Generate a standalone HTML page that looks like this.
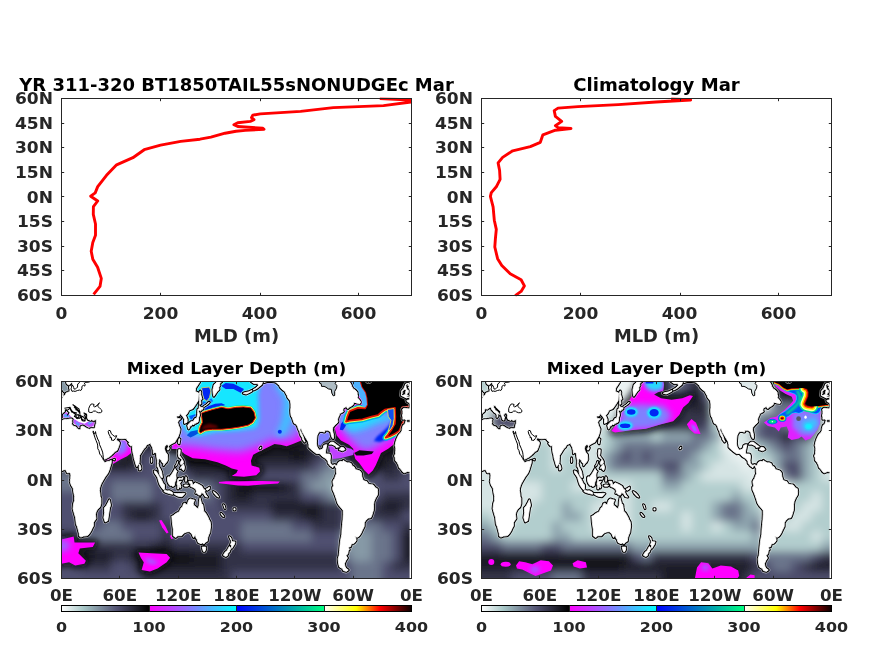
<!DOCTYPE html>
<html><head><meta charset="utf-8"><title>MLD</title><style>html,body{margin:0;padding:0;background:#fff}svg{display:block}</style></head><body>
<svg width="875" height="656" viewBox="0 0 875 656" font-family='"DejaVu Sans","Liberation Sans",sans-serif' font-weight="bold" style="display:block">
<rect width="875" height="656" fill="#fff"/>
<defs>
<linearGradient id="cb" x1="0" x2="1" y1="0" y2="0">
<stop offset="0" stop-color="#ffffff"/>
<stop offset="0.0635" stop-color="#a6c6c6"/>
<stop offset="0.15875" stop-color="#515171"/>
<stop offset="0.2499" stop-color="#000000"/>
<stop offset="0.25" stop-color="#ff00ff"/>
<stop offset="0.4999" stop-color="#00ffff"/>
<stop offset="0.5" stop-color="#0000ff"/>
<stop offset="0.7499" stop-color="#00ff80"/>
<stop offset="0.75" stop-color="#ffffff"/>
<stop offset="0.842" stop-color="#ffff00"/>
<stop offset="0.909" stop-color="#ff0000"/>
<stop offset="1" stop-color="#0b0000"/>
</linearGradient>
<filter id="gb" x="-5%" y="-5%" width="110%" height="110%"><feGaussianBlur stdDeviation="4.2"/></filter>
<filter id="b1" x="-20%" y="-20%" width="140%" height="140%"><feGaussianBlur stdDeviation="0.8"/></filter>
<filter id="b2" x="-30%" y="-30%" width="160%" height="160%"><feGaussianBlur stdDeviation="2"/></filter>
<filter id="b3" x="-30%" y="-30%" width="160%" height="160%"><feGaussianBlur stdDeviation="3"/></filter>
<filter id="b4" x="-30%" y="-30%" width="160%" height="160%"><feGaussianBlur stdDeviation="4"/></filter>
<filter id="b5" x="-30%" y="-30%" width="160%" height="160%"><feGaussianBlur stdDeviation="5"/></filter>
</defs>
<rect x="61.5" y="98.5" width="350.0" height="197.0" fill="#fff"/>
<clipPath id="c61"><rect x="61.5" y="97.5" width="350.5" height="199.0"/></clipPath>
<path d="M379.8 98.6 L395.0 99.2 L411.5 100.0 L413.0 101.0 L411.0 102.0 L383.5 105.6 L333.3 107.6 L300.6 111.4 L260.3 113.9 L252.8 115.1 L251.5 117.7 L254.0 119.7 L250.3 121.4 L237.7 122.7 L233.9 124.7 L237.7 126.5 L262.9 128.2 L264.0 129.2 L245.3 130.4 L236.0 131.3 L225.1 133.2 L210.9 137.1 L200.0 139.2 L180.7 141.4 L160.6 145.1 L144.2 149.7 L132.9 157.7 L116.6 164.8 L106.5 175.3 L97.7 186.6 L95.2 192.9 L90.7 196.2 L97.7 201.0 L93.4 206.7 L93.3 214.4 L95.5 224.0 L95.5 235.2 L92.8 242.4 L91.2 251.2 L92.8 259.2 L97.6 267.2 L101.3 278.4 L100.0 286.4 L93.6 294.4" clip-path="url(#c61)" fill="none" stroke="#f00" stroke-width="2.9" stroke-linejoin="round"/>
<path d="M160.5 295.5v-2.7M160.5 98.5v2.7M260.5 295.5v-2.7M260.5 98.5v2.7M358.5 295.5v-2.7M358.5 98.5v2.7M61.5 123.5h2.7M411.5 123.5h-2.7M61.5 147.5h2.7M411.5 147.5h-2.7M61.5 172.5h2.7M411.5 172.5h-2.7M61.5 196.5h2.7M411.5 196.5h-2.7M61.5 221.5h2.7M411.5 221.5h-2.7M61.5 246.5h2.7M411.5 246.5h-2.7M61.5 270.5h2.7M411.5 270.5h-2.7" stroke="#262626" stroke-width="1" fill="none"/>
<rect x="61.5" y="98.5" width="350.0" height="197.0" fill="none" stroke="#262626" stroke-width="1"/>
<text x="53.0" y="104.1" font-size="15.3" text-anchor="end" fill="#262626" textLength="38.02" lengthAdjust="spacingAndGlyphs">60N</text>
<text x="53.0" y="128.725" font-size="15.3" text-anchor="end" fill="#262626" textLength="38.02" lengthAdjust="spacingAndGlyphs">45N</text>
<text x="53.0" y="153.35" font-size="15.3" text-anchor="end" fill="#262626" textLength="38.02" lengthAdjust="spacingAndGlyphs">30N</text>
<text x="53.0" y="177.975" font-size="15.3" text-anchor="end" fill="#262626" textLength="38.02" lengthAdjust="spacingAndGlyphs">15N</text>
<text x="53.0" y="202.6" font-size="15.3" text-anchor="end" fill="#262626" textLength="26.15" lengthAdjust="spacingAndGlyphs">0N</text>
<text x="53.0" y="227.225" font-size="15.3" text-anchor="end" fill="#262626" textLength="36.03" lengthAdjust="spacingAndGlyphs">15S</text>
<text x="53.0" y="251.85" font-size="15.3" text-anchor="end" fill="#262626" textLength="36.03" lengthAdjust="spacingAndGlyphs">30S</text>
<text x="53.0" y="276.475" font-size="15.3" text-anchor="end" fill="#262626" textLength="36.03" lengthAdjust="spacingAndGlyphs">45S</text>
<text x="53.0" y="301.1" font-size="15.3" text-anchor="end" fill="#262626" textLength="36.03" lengthAdjust="spacingAndGlyphs">60S</text>
<text x="61.5" y="319.0" font-size="15.3" text-anchor="middle" fill="#262626" textLength="11.87" lengthAdjust="spacingAndGlyphs">0</text>
<text x="160.5" y="319.0" font-size="15.3" text-anchor="middle" fill="#262626" textLength="35.61" lengthAdjust="spacingAndGlyphs">200</text>
<text x="259.5" y="319.0" font-size="15.3" text-anchor="middle" fill="#262626" textLength="35.61" lengthAdjust="spacingAndGlyphs">400</text>
<text x="358.5" y="319.0" font-size="15.3" text-anchor="middle" fill="#262626" textLength="35.61" lengthAdjust="spacingAndGlyphs">600</text>
<text x="236.5" y="342.1" font-size="16.8" text-anchor="middle" fill="#262626" textLength="85.12" lengthAdjust="spacingAndGlyphs">MLD (m)</text>
<text x="236.5" y="91.0" font-size="16.9" text-anchor="middle" fill="#000" textLength="434.5" lengthAdjust="spacingAndGlyphs">YR 311-320 BT1850TAIL55sNONUDGEc Mar</text>
<rect x="481.5" y="98.5" width="350.0" height="197.0" fill="#fff"/>
<clipPath id="c481"><rect x="481.5" y="97.5" width="350.5" height="199.0"/></clipPath>
<path d="M671.1 98.6 L690.7 100.0 L656.0 102.0 L618.3 104.6 L578.0 106.6 L558.0 108.1 L554.2 110.6 L555.4 116.4 L561.7 121.4 L555.4 125.7 L558.0 127.7 L571.0 128.5 L555.4 130.2 L542.9 134.8 L540.3 142.3 L530.3 146.6 L512.7 150.8 L502.6 157.4 L498.1 162.9 L499.6 170.5 L500.1 179.3 L496.3 186.8 L491.3 192.6 L490.4 196.4 L493.1 206.8 L494.3 220.2 L496.3 229.4 L495.4 238.6 L494.8 247.0 L497.6 258.7 L501.8 265.5 L510.2 273.8 L521.1 279.7 L524.4 285.9 L521.1 291.4 L515.2 295.6" clip-path="url(#c481)" fill="none" stroke="#f00" stroke-width="2.9" stroke-linejoin="round"/>
<path d="M580.5 295.5v-2.7M580.5 98.5v2.7M680.5 295.5v-2.7M680.5 98.5v2.7M778.5 295.5v-2.7M778.5 98.5v2.7M481.5 123.5h2.7M831.5 123.5h-2.7M481.5 147.5h2.7M831.5 147.5h-2.7M481.5 172.5h2.7M831.5 172.5h-2.7M481.5 196.5h2.7M831.5 196.5h-2.7M481.5 221.5h2.7M831.5 221.5h-2.7M481.5 246.5h2.7M831.5 246.5h-2.7M481.5 270.5h2.7M831.5 270.5h-2.7" stroke="#262626" stroke-width="1" fill="none"/>
<rect x="481.5" y="98.5" width="350.0" height="197.0" fill="none" stroke="#262626" stroke-width="1"/>
<text x="473.0" y="104.1" font-size="15.3" text-anchor="end" fill="#262626" textLength="38.02" lengthAdjust="spacingAndGlyphs">60N</text>
<text x="473.0" y="128.725" font-size="15.3" text-anchor="end" fill="#262626" textLength="38.02" lengthAdjust="spacingAndGlyphs">45N</text>
<text x="473.0" y="153.35" font-size="15.3" text-anchor="end" fill="#262626" textLength="38.02" lengthAdjust="spacingAndGlyphs">30N</text>
<text x="473.0" y="177.975" font-size="15.3" text-anchor="end" fill="#262626" textLength="38.02" lengthAdjust="spacingAndGlyphs">15N</text>
<text x="473.0" y="202.6" font-size="15.3" text-anchor="end" fill="#262626" textLength="26.15" lengthAdjust="spacingAndGlyphs">0N</text>
<text x="473.0" y="227.225" font-size="15.3" text-anchor="end" fill="#262626" textLength="36.03" lengthAdjust="spacingAndGlyphs">15S</text>
<text x="473.0" y="251.85" font-size="15.3" text-anchor="end" fill="#262626" textLength="36.03" lengthAdjust="spacingAndGlyphs">30S</text>
<text x="473.0" y="276.475" font-size="15.3" text-anchor="end" fill="#262626" textLength="36.03" lengthAdjust="spacingAndGlyphs">45S</text>
<text x="473.0" y="301.1" font-size="15.3" text-anchor="end" fill="#262626" textLength="36.03" lengthAdjust="spacingAndGlyphs">60S</text>
<text x="481.5" y="319.0" font-size="15.3" text-anchor="middle" fill="#262626" textLength="11.87" lengthAdjust="spacingAndGlyphs">0</text>
<text x="580.5" y="319.0" font-size="15.3" text-anchor="middle" fill="#262626" textLength="35.61" lengthAdjust="spacingAndGlyphs">200</text>
<text x="679.5" y="319.0" font-size="15.3" text-anchor="middle" fill="#262626" textLength="35.61" lengthAdjust="spacingAndGlyphs">400</text>
<text x="778.5" y="319.0" font-size="15.3" text-anchor="middle" fill="#262626" textLength="35.61" lengthAdjust="spacingAndGlyphs">600</text>
<text x="656.5" y="342.1" font-size="16.8" text-anchor="middle" fill="#262626" textLength="85.12" lengthAdjust="spacingAndGlyphs">MLD (m)</text>
<text x="656.5" y="91.0" font-size="16.9" text-anchor="middle" fill="#000" textLength="166.55" lengthAdjust="spacingAndGlyphs">Climatology Mar</text>
<rect x="61.5" y="381.5" width="350.0" height="197.0" fill="#55556a"/>
<clipPath id="m61"><rect x="61.5" y="381.5" width="350.0" height="197.0"/></clipPath>
<g clip-path="url(#m61)">
<g filter="url(#gb)"><rect x="41.5" y="361.5" width="40.5" height="10.5" fill="#8699a6"/><rect x="81.5" y="361.5" width="230.5" height="10.5" fill="#333347"/><rect x="311.5" y="361.5" width="20.5" height="10.5" fill="#8699a6"/><rect x="331.5" y="361.5" width="100.5" height="10.5" fill="#333347"/><rect x="41.5" y="371.5" width="40.5" height="10.5" fill="#8699a6"/><rect x="81.5" y="371.5" width="230.5" height="10.5" fill="#333347"/><rect x="311.5" y="371.5" width="20.5" height="10.5" fill="#8699a6"/><rect x="331.5" y="371.5" width="100.5" height="10.5" fill="#333347"/><rect x="41.5" y="381.5" width="40.5" height="10.5" fill="#8699a6"/><rect x="81.5" y="381.5" width="230.5" height="10.5" fill="#333347"/><rect x="311.5" y="381.5" width="20.5" height="10.5" fill="#8699a6"/><rect x="331.5" y="381.5" width="100.5" height="10.5" fill="#333347"/><rect x="41.5" y="391.5" width="30.5" height="10.5" fill="#8699a6"/><rect x="71.5" y="391.5" width="360.5" height="10.5" fill="#333347"/><rect x="41.5" y="401.5" width="390.5" height="10.5" fill="#333347"/><rect x="41.5" y="411.5" width="390.5" height="10.5" fill="#333347"/><rect x="41.5" y="421.5" width="390.5" height="10.5" fill="#333347"/><rect x="41.5" y="431.5" width="390.5" height="10.5" fill="#333347"/><rect x="41.5" y="441.5" width="100.5" height="10.5" fill="#333347"/><rect x="141.5" y="441.5" width="40.5" height="10.5" fill="#1b1b25"/><rect x="181.5" y="441.5" width="70.5" height="10.5" fill="#070709"/><rect x="251.5" y="441.5" width="60.5" height="10.5" fill="#1b1b25"/><rect x="311.5" y="441.5" width="70.5" height="10.5" fill="#333347"/><rect x="381.5" y="441.5" width="20.5" height="10.5" fill="#1b1b25"/><rect x="401.5" y="441.5" width="30.5" height="10.5" fill="#333347"/><rect x="41.5" y="451.5" width="80.5" height="10.5" fill="#333347"/><rect x="121.5" y="451.5" width="20.5" height="10.5" fill="#1b1b25"/><rect x="141.5" y="451.5" width="20.5" height="10.5" fill="#50506f"/><rect x="161.5" y="451.5" width="20.5" height="10.5" fill="#6b748b"/><rect x="181.5" y="451.5" width="70.5" height="10.5" fill="#070709"/><rect x="251.5" y="451.5" width="40.5" height="10.5" fill="#1b1b25"/><rect x="291.5" y="451.5" width="10.5" height="10.5" fill="#070709"/><rect x="301.5" y="451.5" width="10.5" height="10.5" fill="#1b1b25"/><rect x="311.5" y="451.5" width="10.5" height="10.5" fill="#333347"/><rect x="321.5" y="451.5" width="20.5" height="10.5" fill="#50506f"/><rect x="341.5" y="451.5" width="40.5" height="10.5" fill="#333347"/><rect x="381.5" y="451.5" width="20.5" height="10.5" fill="#1b1b25"/><rect x="401.5" y="451.5" width="30.5" height="10.5" fill="#333347"/><rect x="41.5" y="461.5" width="60.5" height="10.5" fill="#333347"/><rect x="101.5" y="461.5" width="30.5" height="10.5" fill="#1b1b25"/><rect x="131.5" y="461.5" width="10.5" height="10.5" fill="#333347"/><rect x="141.5" y="461.5" width="20.5" height="10.5" fill="#50506f"/><rect x="161.5" y="461.5" width="20.5" height="10.5" fill="#6b748b"/><rect x="181.5" y="461.5" width="70.5" height="10.5" fill="#1b1b25"/><rect x="251.5" y="461.5" width="60.5" height="10.5" fill="#333347"/><rect x="311.5" y="461.5" width="10.5" height="10.5" fill="#50506f"/><rect x="321.5" y="461.5" width="10.5" height="10.5" fill="#6b748b"/><rect x="331.5" y="461.5" width="10.5" height="10.5" fill="#8699a6"/><rect x="341.5" y="461.5" width="10.5" height="10.5" fill="#333347"/><rect x="351.5" y="461.5" width="10.5" height="10.5" fill="#50506f"/><rect x="361.5" y="461.5" width="10.5" height="10.5" fill="#070709"/><rect x="371.5" y="461.5" width="20.5" height="10.5" fill="#1b1b25"/><rect x="391.5" y="461.5" width="40.5" height="10.5" fill="#333347"/><rect x="41.5" y="471.5" width="60.5" height="10.5" fill="#6b748b"/><rect x="101.5" y="471.5" width="60.5" height="10.5" fill="#50506f"/><rect x="161.5" y="471.5" width="20.5" height="10.5" fill="#6b748b"/><rect x="181.5" y="471.5" width="10.5" height="10.5" fill="#50506f"/><rect x="191.5" y="471.5" width="50.5" height="10.5" fill="#333347"/><rect x="241.5" y="471.5" width="10.5" height="10.5" fill="#1b1b25"/><rect x="251.5" y="471.5" width="50.5" height="10.5" fill="#50506f"/><rect x="301.5" y="471.5" width="20.5" height="10.5" fill="#6b748b"/><rect x="321.5" y="471.5" width="20.5" height="10.5" fill="#8699a6"/><rect x="341.5" y="471.5" width="20.5" height="10.5" fill="#a1bec1"/><rect x="361.5" y="471.5" width="20.5" height="10.5" fill="#50506f"/><rect x="381.5" y="471.5" width="20.5" height="10.5" fill="#333347"/><rect x="401.5" y="471.5" width="30.5" height="10.5" fill="#50506f"/><rect x="41.5" y="481.5" width="60.5" height="10.5" fill="#6b748b"/><rect x="101.5" y="481.5" width="10.5" height="10.5" fill="#50506f"/><rect x="111.5" y="481.5" width="40.5" height="10.5" fill="#6b748b"/><rect x="151.5" y="481.5" width="20.5" height="10.5" fill="#50506f"/><rect x="171.5" y="481.5" width="40.5" height="10.5" fill="#6b748b"/><rect x="211.5" y="481.5" width="10.5" height="10.5" fill="#50506f"/><rect x="221.5" y="481.5" width="10.5" height="10.5" fill="#333347"/><rect x="231.5" y="481.5" width="10.5" height="10.5" fill="#1b1b25"/><rect x="241.5" y="481.5" width="40.5" height="10.5" fill="#070709"/><rect x="281.5" y="481.5" width="10.5" height="10.5" fill="#1b1b25"/><rect x="291.5" y="481.5" width="10.5" height="10.5" fill="#333347"/><rect x="301.5" y="481.5" width="10.5" height="10.5" fill="#6b748b"/><rect x="311.5" y="481.5" width="20.5" height="10.5" fill="#8699a6"/><rect x="331.5" y="481.5" width="30.5" height="10.5" fill="#a1bec1"/><rect x="361.5" y="481.5" width="10.5" height="10.5" fill="#6b748b"/><rect x="371.5" y="481.5" width="60.5" height="10.5" fill="#50506f"/><rect x="41.5" y="491.5" width="70.5" height="10.5" fill="#50506f"/><rect x="111.5" y="491.5" width="40.5" height="10.5" fill="#6b748b"/><rect x="151.5" y="491.5" width="30.5" height="10.5" fill="#50506f"/><rect x="181.5" y="491.5" width="30.5" height="10.5" fill="#6b748b"/><rect x="211.5" y="491.5" width="10.5" height="10.5" fill="#50506f"/><rect x="221.5" y="491.5" width="10.5" height="10.5" fill="#333347"/><rect x="231.5" y="491.5" width="20.5" height="10.5" fill="#1b1b25"/><rect x="251.5" y="491.5" width="50.5" height="10.5" fill="#333347"/><rect x="301.5" y="491.5" width="20.5" height="10.5" fill="#50506f"/><rect x="321.5" y="491.5" width="10.5" height="10.5" fill="#6b748b"/><rect x="331.5" y="491.5" width="30.5" height="10.5" fill="#8699a6"/><rect x="361.5" y="491.5" width="10.5" height="10.5" fill="#6b748b"/><rect x="371.5" y="491.5" width="10.5" height="10.5" fill="#50506f"/><rect x="381.5" y="491.5" width="50.5" height="10.5" fill="#333347"/><rect x="41.5" y="501.5" width="80.5" height="10.5" fill="#50506f"/><rect x="121.5" y="501.5" width="40.5" height="10.5" fill="#333347"/><rect x="161.5" y="501.5" width="60.5" height="10.5" fill="#50506f"/><rect x="221.5" y="501.5" width="50.5" height="10.5" fill="#333347"/><rect x="271.5" y="501.5" width="50.5" height="10.5" fill="#1b1b25"/><rect x="321.5" y="501.5" width="20.5" height="10.5" fill="#333347"/><rect x="341.5" y="501.5" width="30.5" height="10.5" fill="#50506f"/><rect x="371.5" y="501.5" width="10.5" height="10.5" fill="#333347"/><rect x="381.5" y="501.5" width="20.5" height="10.5" fill="#1b1b25"/><rect x="401.5" y="501.5" width="30.5" height="10.5" fill="#333347"/><rect x="41.5" y="511.5" width="80.5" height="10.5" fill="#50506f"/><rect x="121.5" y="511.5" width="10.5" height="10.5" fill="#333347"/><rect x="131.5" y="511.5" width="20.5" height="10.5" fill="#1b1b25"/><rect x="151.5" y="511.5" width="10.5" height="10.5" fill="#333347"/><rect x="161.5" y="511.5" width="110.5" height="10.5" fill="#50506f"/><rect x="271.5" y="511.5" width="30.5" height="10.5" fill="#333347"/><rect x="301.5" y="511.5" width="20.5" height="10.5" fill="#1b1b25"/><rect x="321.5" y="511.5" width="20.5" height="10.5" fill="#333347"/><rect x="341.5" y="511.5" width="30.5" height="10.5" fill="#50506f"/><rect x="371.5" y="511.5" width="30.5" height="10.5" fill="#333347"/><rect x="401.5" y="511.5" width="30.5" height="10.5" fill="#50506f"/><rect x="41.5" y="521.5" width="60.5" height="10.5" fill="#50506f"/><rect x="101.5" y="521.5" width="20.5" height="10.5" fill="#6b748b"/><rect x="121.5" y="521.5" width="40.5" height="10.5" fill="#50506f"/><rect x="161.5" y="521.5" width="10.5" height="10.5" fill="#333347"/><rect x="171.5" y="521.5" width="70.5" height="10.5" fill="#50506f"/><rect x="241.5" y="521.5" width="50.5" height="10.5" fill="#6b748b"/><rect x="291.5" y="521.5" width="20.5" height="10.5" fill="#50506f"/><rect x="311.5" y="521.5" width="30.5" height="10.5" fill="#333347"/><rect x="341.5" y="521.5" width="10.5" height="10.5" fill="#50506f"/><rect x="351.5" y="521.5" width="30.5" height="10.5" fill="#6b748b"/><rect x="381.5" y="521.5" width="20.5" height="10.5" fill="#50506f"/><rect x="401.5" y="521.5" width="30.5" height="10.5" fill="#333347"/><rect x="41.5" y="531.5" width="30.5" height="10.5" fill="#333347"/><rect x="71.5" y="531.5" width="10.5" height="10.5" fill="#50506f"/><rect x="81.5" y="531.5" width="50.5" height="10.5" fill="#6b748b"/><rect x="131.5" y="531.5" width="30.5" height="10.5" fill="#50506f"/><rect x="161.5" y="531.5" width="10.5" height="10.5" fill="#333347"/><rect x="171.5" y="531.5" width="70.5" height="10.5" fill="#50506f"/><rect x="241.5" y="531.5" width="70.5" height="10.5" fill="#6b748b"/><rect x="311.5" y="531.5" width="30.5" height="10.5" fill="#50506f"/><rect x="341.5" y="531.5" width="30.5" height="10.5" fill="#8699a6"/><rect x="371.5" y="531.5" width="20.5" height="10.5" fill="#6b748b"/><rect x="391.5" y="531.5" width="10.5" height="10.5" fill="#50506f"/><rect x="401.5" y="531.5" width="30.5" height="10.5" fill="#1b1b25"/><rect x="41.5" y="541.5" width="110.5" height="10.5" fill="#333347"/><rect x="151.5" y="541.5" width="20.5" height="10.5" fill="#1b1b25"/><rect x="171.5" y="541.5" width="70.5" height="10.5" fill="#333347"/><rect x="241.5" y="541.5" width="100.5" height="10.5" fill="#50506f"/><rect x="341.5" y="541.5" width="30.5" height="10.5" fill="#8699a6"/><rect x="371.5" y="541.5" width="20.5" height="10.5" fill="#6b748b"/><rect x="391.5" y="541.5" width="10.5" height="10.5" fill="#50506f"/><rect x="401.5" y="541.5" width="30.5" height="10.5" fill="#1b1b25"/><rect x="41.5" y="551.5" width="40.5" height="10.5" fill="#1b1b25"/><rect x="81.5" y="551.5" width="10.5" height="10.5" fill="#070709"/><rect x="91.5" y="551.5" width="20.5" height="10.5" fill="#1b1b25"/><rect x="111.5" y="551.5" width="20.5" height="10.5" fill="#333347"/><rect x="131.5" y="551.5" width="40.5" height="10.5" fill="#1b1b25"/><rect x="171.5" y="551.5" width="20.5" height="10.5" fill="#070709"/><rect x="191.5" y="551.5" width="30.5" height="10.5" fill="#1b1b25"/><rect x="221.5" y="551.5" width="120.5" height="10.5" fill="#333347"/><rect x="341.5" y="551.5" width="10.5" height="10.5" fill="#6b748b"/><rect x="351.5" y="551.5" width="20.5" height="10.5" fill="#8699a6"/><rect x="371.5" y="551.5" width="20.5" height="10.5" fill="#6b748b"/><rect x="391.5" y="551.5" width="10.5" height="10.5" fill="#50506f"/><rect x="401.5" y="551.5" width="30.5" height="10.5" fill="#1b1b25"/><rect x="41.5" y="561.5" width="40.5" height="10.5" fill="#50506f"/><rect x="81.5" y="561.5" width="30.5" height="10.5" fill="#333347"/><rect x="111.5" y="561.5" width="20.5" height="10.5" fill="#50506f"/><rect x="131.5" y="561.5" width="10.5" height="10.5" fill="#333347"/><rect x="141.5" y="561.5" width="80.5" height="10.5" fill="#1b1b25"/><rect x="221.5" y="561.5" width="120.5" height="10.5" fill="#333347"/><rect x="341.5" y="561.5" width="10.5" height="10.5" fill="#50506f"/><rect x="351.5" y="561.5" width="30.5" height="10.5" fill="#6b748b"/><rect x="381.5" y="561.5" width="10.5" height="10.5" fill="#50506f"/><rect x="391.5" y="561.5" width="40.5" height="10.5" fill="#333347"/><rect x="41.5" y="571.5" width="100.5" height="10.5" fill="#50506f"/><rect x="141.5" y="571.5" width="90.5" height="10.5" fill="#333347"/><rect x="231.5" y="571.5" width="120.5" height="10.5" fill="#50506f"/><rect x="351.5" y="571.5" width="30.5" height="10.5" fill="#6b748b"/><rect x="381.5" y="571.5" width="50.5" height="10.5" fill="#50506f"/><rect x="41.5" y="581.5" width="100.5" height="10.5" fill="#50506f"/><rect x="141.5" y="581.5" width="90.5" height="10.5" fill="#333347"/><rect x="231.5" y="581.5" width="120.5" height="10.5" fill="#50506f"/><rect x="351.5" y="581.5" width="30.5" height="10.5" fill="#6b748b"/><rect x="381.5" y="581.5" width="50.5" height="10.5" fill="#50506f"/><rect x="41.5" y="591.5" width="100.5" height="10.5" fill="#50506f"/><rect x="141.5" y="591.5" width="90.5" height="10.5" fill="#333347"/><rect x="231.5" y="591.5" width="120.5" height="10.5" fill="#50506f"/><rect x="351.5" y="591.5" width="30.5" height="10.5" fill="#6b748b"/><rect x="381.5" y="591.5" width="50.5" height="10.5" fill="#50506f"/></g><clipPath id="cMP"><path d="M172 449L179.3 448.9L184.5 454L192.7 458.2L205 459.2L217.4 462.3L225.7 465.4L231.8 468.4L237.9 469.9L236.4 473L231.8 476L244 476.8L256.2 475.3L260 471.5L259.3 467.7L251.6 465.4L250.9 460.8L253.2 454.7L259.3 451.6L265.4 448.6L274.5 444L280.6 444.8L286.7 446.3L292.8 444L300.7 440.7L304.8 437.6L308 432L300 400L290 375L170 375Z" fill="none"/></clipPath><path d="M172 449L179.3 448.9L184.5 454L192.7 458.2L205 459.2L217.4 462.3L225.7 465.4L231.8 468.4L237.9 469.9L236.4 473L231.8 476L244 476.8L256.2 475.3L260 471.5L259.3 467.7L251.6 465.4L250.9 460.8L253.2 454.7L259.3 451.6L265.4 448.6L274.5 444L280.6 444.8L286.7 446.3L292.8 444L300.7 440.7L304.8 437.6L308 432L300 400L290 375L170 375Z" fill="none" stroke="#08080c" stroke-width="7" stroke-linejoin="round" filter="url(#b3)" opacity="0.9"/><path d="M172 449L179.3 448.9L184.5 454L192.7 458.2L205 459.2L217.4 462.3L225.7 465.4L231.8 468.4L237.9 469.9L236.4 473L231.8 476L244 476.8L256.2 475.3L260 471.5L259.3 467.7L251.6 465.4L250.9 460.8L253.2 454.7L259.3 451.6L265.4 448.6L274.5 444L280.6 444.8L286.7 446.3L292.8 444L300.7 440.7L304.8 437.6L308 432L300 400L290 375L170 375Z" fill="#ff00ff"/><g clip-path="url(#cMP)"><path d="M165 375L295 375L305 425L296 439L283 441L272 440L262 445L250 449L240 452L215 450L195 447L180 446L165 444Z" fill="#8080ff" filter="url(#b5)"/><path d="M186 375L262 375L258 395L259 420L256 428L238 430.5L215 432L199 436L188 434L182 425L186 405Z" fill="#19e6ff" filter="url(#b2)"/><path d="M272 381L292 385L296 410L290 425L284 436L276 436L282 420L284 400Z" fill="#40bfff" filter="url(#b3)"/></g><path d="M221.2 386.1L225.7 383L233.4 383.8L244 389.1L241 393L233.4 389.1L225.7 389.1Z" fill="#0028f4"/><path d="M201.6 387.8L209.3 387.1L210.9 391L209.5 397.4L206.8 401.2L203.7 398.8L202.2 392.8Z" fill="#0028f4" stroke="#ffe040" stroke-width="0.7" stroke-linejoin="round"/><path d="M200.2 401L206.6 402L211.2 398.3L213 401L208.4 406.5L202.9 409.3L200.2 406.5Z" fill="#0070ff"/><circle cx="279.8" cy="431.8" r="2" fill="#0028f4"/><path d="M189 416L196 414L197 419L192 422Z" fill="#0060ff"/><path d="M203.3 409.6L208.8 406L215.2 403.7L221.6 403.2L225.2 405.1L221.6 406.4L212.4 408.7L204.7 411.5Z" fill="#0028f4"/><path d="M186.8 435.2L190.5 431.6L198.7 429.7L199.6 432.5L195.1 435.2L190.5 437.5Z" fill="#0050e0"/><path d="M199.2 431.6L200.1 427L202.4 422.4L201.9 417.9L201 413.3L204.7 411.9L212.4 409.6L221.6 407.3L228 408.7L236.2 407.3L243.5 406.9L250.8 407.8L254 411.9L255.4 417.9L252.6 422.4L248.1 425.2L239.8 427L230.7 428.4L221.6 429.3L212.4 429.3L205.1 430.2L200.5 432.9Z" fill="none" stroke="#00e0a0" stroke-width="3.6" stroke-linejoin="round"/><path d="M199.2 431.6L200.1 427L202.4 422.4L201.9 417.9L201 413.3L204.7 411.9L212.4 409.6L221.6 407.3L228 408.7L236.2 407.3L243.5 406.9L250.8 407.8L254 411.9L255.4 417.9L252.6 422.4L248.1 425.2L239.8 427L230.7 428.4L221.6 429.3L212.4 429.3L205.1 430.2L200.5 432.9Z" fill="none" stroke="#fff060" stroke-width="2.4" stroke-linejoin="round"/><path d="M199.2 431.6L200.1 427L202.4 422.4L201.9 417.9L201 413.3L204.7 411.9L212.4 409.6L221.6 407.3L228 408.7L236.2 407.3L243.5 406.9L250.8 407.8L254 411.9L255.4 417.9L252.6 422.4L248.1 425.2L239.8 427L230.7 428.4L221.6 429.3L212.4 429.3L205.1 430.2L200.5 432.9Z" fill="#000" stroke="#e01000" stroke-width="1.0" stroke-linejoin="round"/><path d="M203 426L209 423.5L217 425.5L218 428L205 429L202 430.5Z" fill="#5a0000" filter="url(#b1)"/><path d="M218.9 482L226 481.3L240 481.2L262 481L279.8 481.5L278 483.5L262 484.5L248 485.8L238 485.5L226 484L219 483.2Z" fill="#ff00ff"/><clipPath id="cMA"><path d="M333.7 413.8L334.7 428.2L336.7 435.4L340.9 440.6L349.1 444.7L353.2 448.8L354.2 455L355.3 459.1L359.4 463.2L364.5 470.4L368.6 474.5L372.8 470.4L375.8 465.3L378.9 458.1L381 452.9L388.2 448.8L393.3 444.7L395.4 438.5L401.6 432.3L411.9 420L411.9 378.8L351.2 378.8Z" fill="none"/></clipPath><path d="M333.7 413.8L334.7 428.2L336.7 435.4L340.9 440.6L349.1 444.7L353.2 448.8L354.2 455L355.3 459.1L359.4 463.2L364.5 470.4L368.6 474.5L372.8 470.4L375.8 465.3L378.9 458.1L381 452.9L388.2 448.8L393.3 444.7L395.4 438.5L401.6 432.3L411.9 420L411.9 378.8L351.2 378.8Z" fill="none" stroke="#08080c" stroke-width="7" stroke-linejoin="round" filter="url(#b3)" opacity="0.9"/><path d="M333.7 413.8L334.7 428.2L336.7 435.4L340.9 440.6L349.1 444.7L353.2 448.8L354.2 455L355.3 459.1L359.4 463.2L364.5 470.4L368.6 474.5L372.8 470.4L375.8 465.3L378.9 458.1L381 452.9L388.2 448.8L393.3 444.7L395.4 438.5L401.6 432.3L411.9 420L411.9 378.8L351.2 378.8Z" fill="#ff00ff"/><path d="M316.2 433.4L319.3 430.3L329.5 429.8L330.6 435.4L328.5 439.5L323.4 442.1L320.3 445.7L318.2 444.7L316.2 439.5Z" fill="#8080ff"/><path d="M328.5 443.7L335.7 444.7L351.2 448.8L354.2 450.9L353.2 455L349.1 456L340.9 458.1L332.6 459.1L330.6 454L329.5 448.8Z" fill="#bf40ff"/><g clip-path="url(#cMA)"><path d="M335.7 413.8L338.8 426.2L344 433.4L353.2 443.7L363.5 450.9L371.7 449.8L382 443.7L392.3 437.5L399.5 426.2L399.5 413.8Z" fill="#8080ff" filter="url(#b4)"/><path d="M340.9 413.8L344 426.2L351.2 432.3L363.5 429.3L375.8 424.1L388.2 420L399.5 417.9L399.5 413.8Z" fill="#26d9ff" filter="url(#b3)"/></g><path d="M339.8 429.8L340.9 424.1L344 420L345.5 415.9L348.6 415.9L347.6 421L345.5 426.2L342.9 430.3Z" fill="#0028f4"/><path d="M373.8 441.1L376.9 436.5L382 432.3L388.2 426.2L392.3 420L395.4 415.9L397.4 420L394.4 428.2L391.3 434.4L386.1 439.5L380 442.1Z" fill="#0028f4" filter="url(#b1)"/><path d="M359.2 378.2L361.5 387.3L365.2 392.8L366.5 398.3L367 404.7L365.2 408.3L357.9 407.9L349.6 411.1L347.3 416.6L346 421.6L349.6 420.7L362.4 419.3L371.6 416.6L378 415.2L381.6 412L384.8 409.7L394.9 407.9L395.3 416.6L394.9 423.9L391.7 429.4L388 434.8L385.7 437.6L389.8 436.2L394.4 433.9L399 431.2L400.8 427.5L402.6 423L404.5 420.2L402.2 418.4L402.2 407.4L408.1 406.5L412.7 406.5L412.7 378.2Z" fill="none" stroke="#00a0ff" stroke-width="6.4" stroke-linejoin="round"/><path d="M359.2 378.2L361.5 387.3L365.2 392.8L366.5 398.3L367 404.7L365.2 408.3L357.9 407.9L349.6 411.1L347.3 416.6L346 421.6L349.6 420.7L362.4 419.3L371.6 416.6L378 415.2L381.6 412L384.8 409.7L394.9 407.9L395.3 416.6L394.9 423.9L391.7 429.4L388 434.8L385.7 437.6L389.8 436.2L394.4 433.9L399 431.2L400.8 427.5L402.6 423L404.5 420.2L402.2 418.4L402.2 407.4L408.1 406.5L412.7 406.5L412.7 378.2Z" fill="none" stroke="#00e0a0" stroke-width="4.8" stroke-linejoin="round"/><path d="M359.2 378.2L361.5 387.3L365.2 392.8L366.5 398.3L367 404.7L365.2 408.3L357.9 407.9L349.6 411.1L347.3 416.6L346 421.6L349.6 420.7L362.4 419.3L371.6 416.6L378 415.2L381.6 412L384.8 409.7L394.9 407.9L395.3 416.6L394.9 423.9L391.7 429.4L388 434.8L385.7 437.6L389.8 436.2L394.4 433.9L399 431.2L400.8 427.5L402.6 423L404.5 420.2L402.2 418.4L402.2 407.4L408.1 406.5L412.7 406.5L412.7 378.2Z" fill="none" stroke="#fff060" stroke-width="3.4" stroke-linejoin="round"/><path d="M359.2 378.2L361.5 387.3L365.2 392.8L366.5 398.3L367 404.7L365.2 408.3L357.9 407.9L349.6 411.1L347.3 416.6L346 421.6L349.6 420.7L362.4 419.3L371.6 416.6L378 415.2L381.6 412L384.8 409.7L394.9 407.9L395.3 416.6L394.9 423.9L391.7 429.4L388 434.8L385.7 437.6L389.8 436.2L394.4 433.9L399 431.2L400.8 427.5L402.6 423L404.5 420.2L402.2 418.4L402.2 407.4L408.1 406.5L412.7 406.5L412.7 378.2Z" fill="#000" stroke="#e01000" stroke-width="1.7" stroke-linejoin="round"/><path d="M387.4 409.5L394 408.5L394.2 418.4L392.9 425.7L390.6 429.4L388.3 431.2L389.7 425.7L390.9 420.3L388.3 416.6Z" fill="#1050f0" stroke="#ffe840" stroke-width="0.8" stroke-linejoin="round"/><path d="M350.5 380L359.2 380L361.5 387.3L365.2 392.8L366.5 398.3L367 404.7L365.2 407.4L362.4 406.5L361.5 400.1L357.9 393.7L353.3 386.4Z" fill="#4db2ff"/><path d="M354.2 452.9L359.4 450.3L367.6 450.9L373.8 451.4L371.7 454L363.5 455.5L356.3 455.5Z" fill="#0a0a10"/><path d="M56.2 405.4L69 404.5L76.3 408.2L88.2 412.8L97.3 417.3L97.3 429.2L76.3 430.2L67.1 421L56.2 420.1Z" fill="#fff"/><path d="M58 412.8L66.2 411.9L69 414.6L71.7 417.3L74.5 419.2L79 421.9L84.5 423.7L89.1 421L92.8 419.2L95.5 421L95.1 425.6L90 427.4L84.5 425.6L80 428.3L76.3 425.6L72.6 421.9L70.8 418.3L63.5 418.3L58 417.3Z" fill="#c050ff"/><path d="M63.5 414.1L68.1 414.6L69.9 417.3L64.4 417.5Z" fill="#59a6ff"/><path d="M75.4 421L80 423.7L79 426.5L76.3 424.2Z" fill="#6699ff"/><path d="M87.3 423.3L90.9 421L92.3 422.4L89.1 425.1Z" fill="#6699ff"/><path d="M116.4 437.9L124 437.2L128.6 441L131.6 445.5L130.9 453.2L127.1 456.2L121 459.3L113.4 463.8L108.8 462.3L104.2 460L105.7 457L111.8 453.2L116.4 447.1L118.7 441Z" fill="#ff00ff"/><path d="M118.7 440.2L124.8 438.7L127.8 444L127.1 450.1L121 454.7L116.4 456.2L118.7 448.6Z" fill="#8080ff" filter="url(#b2)"/><path d="M172.8 444L180 443.3L180.4 446.3L173.6 446.8Z" fill="#ff00ff"/><path d="M53.9 540.2L61.5 539.5L73.7 536.4L74.5 542.5L95.1 542.5L92.8 547.1L79.8 548.6L78.3 553.2L85.9 560.8L84.4 563.8L75.2 565.4L69.1 562.3L61.5 563.8L53.9 563.8Z" fill="none" stroke="#08080c" stroke-width="6" stroke-linejoin="round" filter="url(#b3)" opacity="0.9"/><path d="M53.9 540.2L61.5 539.5L73.7 536.4L74.5 542.5L95.1 542.5L92.8 547.1L79.8 548.6L78.3 553.2L85.9 560.8L84.4 563.8L75.2 565.4L69.1 562.3L61.5 563.8L53.9 563.8Z" fill="#ff00ff"/><path d="M53.9 541L66.1 540.2L70.7 544L69.1 548.6L63 551.6L53.9 551.6Z" fill="#9966ff" filter="url(#b3)"/><path d="M138.5 552.4L151.5 553.2L166.7 553.9L170.1 557.7L166.7 562.3L157.6 568.4L149.9 571.5L141.6 569.9L143.8 562.3L140.8 557.7Z" fill="none" stroke="#08080c" stroke-width="6" stroke-linejoin="round" filter="url(#b3)" opacity="0.9"/><path d="M138.5 552.4L151.5 553.2L166.7 553.9L170.1 557.7L166.7 562.3L157.6 568.4L149.9 571.5L141.6 569.9L143.8 562.3L140.8 557.7Z" fill="#ff00ff"/><path d="M145.4 557.7L153 560.8L159.1 562.3L153 563.8L146.9 561.6Z" fill="#6699ff" filter="url(#b2)"/><path d="M159.1 520.4L161.4 519.9L165.2 525.7L168.5 532.6L166.7 533.4L162.1 527.3Z" fill="#ff00ff"/><path d="M169.8 535.6L172 535.2L173.1 538.7L171.3 539.1Z" fill="#ff00ff"/>
<path d="M66.4 381.5L199.6 381.5L199.6 382.3L195.7 388.1L195.2 391.4L198.6 393.0L198.1 400.4L195.7 404.5L192.8 408.6L188.9 410.2L187.4 413.5L185.5 415.2L187.2 419.3L187.1 422.2L184.5 423.4L184.5 419.3L183.0 416.8L180.1 413.5L179.1 416.0L176.2 416.0L177.2 418.4L180.6 418.8L178.2 420.9L177.7 422.5L178.7 425.8L180.1 429.1L179.6 432.4L178.2 436.5L176.2 439.8L174.8 442.2L172.3 443.4L169.4 445.0L168.4 446.7L168.0 444.7L166.5 444.7L165.0 446.3L164.4 448.8L165.5 452.1L167.5 454.6L167.8 459.5L166.5 462.3L165.0 463.6L163.6 465.7L163.6 463.6L162.1 462.4L161.2 460.3L159.7 459.0L159.2 457.8L158.7 460.3L158.2 463.6L159.0 466.9L160.2 468.8L161.6 471.8L162.1 475.1L162.6 477.5L161.6 477.5L160.0 475.4L159.2 472.6L159.0 470.1L158.2 467.7L157.1 466.4L157.3 463.6L157.3 460.3L156.5 455.4L156.3 452.9L154.8 452.4L153.4 453.7L153.2 450.4L152.4 447.2L150.9 444.7L150.5 442.7L149.0 443.9L147.5 444.4L146.1 445.5L145.6 447.2L144.1 448.3L142.2 451.3L140.7 453.7L139.5 455.4L139.4 458.7L139.1 463.1L138.3 464.7L137.5 465.4L136.8 466.7L135.9 464.4L134.9 460.8L134.2 458.7L133.7 455.4L133.0 452.9L132.5 449.6L132.3 447.2L132.2 445.0L131.8 445.5L130.5 445.9L129.6 445.0L128.6 443.4L129.6 442.2L128.1 441.1L126.9 439.8L126.3 438.5L124.2 438.6L121.3 438.8L118.9 438.3L117.2 437.8L116.4 439.8L117.4 440.9L118.7 441.4L119.6 443.1L118.7 446.3L117.7 448.8L116.9 450.6L115.2 451.3L112.2 454.4L109.1 457.0L105.2 459.0L103.8 459.2L103.6 461.1L104.8 462.8L107.2 461.6L109.1 461.4L111.3 460.3L111.3 462.8L110.3 466.0L109.1 470.1L107.7 473.4L105.2 476.7L102.8 480.8L101.4 483.3L100.4 485.7L99.6 488.2L99.4 490.7L99.9 493.1L100.1 496.4L100.9 498.1L100.9 503.8L99.9 507.1L97.5 509.2L96.0 512.0L95.5 514.5L96.0 518.6L94.1 521.5L93.4 522.7L93.4 526.0L92.1 528.4L91.0 530.9L89.2 533.8L87.8 535.3L86.5 535.8L83.4 536.1L80.9 537.1L79.4 536.1L79.2 533.4L78.3 530.1L77.5 526.8L76.3 524.3L75.6 517.8L74.1 512.8L73.0 508.7L73.5 503.8L74.6 500.5L74.6 496.4L73.9 493.1L73.4 489.9L73.2 488.2L71.2 484.9L70.2 481.6L70.7 478.4L70.9 475.1L70.5 473.4L69.8 472.6L68.3 472.8L67.3 472.9L66.4 471.0L65.7 469.7L63.9 469.7L62.5 470.5L59.6 471.8L57.6 471.5L54.2 472.8L52.8 471.8L50.8 469.0L49.3 467.7L48.6 465.2L47.1 462.3L45.3 460.3L45.2 457.8L44.5 455.9L45.5 453.7L45.7 450.4L45.8 448.0L45.0 445.5L45.9 441.4L47.1 438.1L48.9 434.5L50.8 432.7L52.0 430.8L52.2 428.3L53.2 425.3L54.9 424.2L55.8 421.2L56.3 421.1L57.1 422.2L58.7 422.2L59.6 422.4L61.5 421.2L63.0 420.1L64.4 419.6L66.4 419.6L68.3 419.3L70.2 418.9L71.4 418.9L72.2 419.3L71.7 420.9L72.0 422.5L71.4 423.9L72.2 425.0L73.7 426.2L76.1 427.0L76.6 428.3L78.5 429.4L80.5 429.9L80.9 428.3L80.9 426.6L82.4 426.0L83.9 426.5L85.8 427.8L87.8 428.8L89.7 429.3L91.6 428.3L92.9 428.8L94.6 428.6L95.2 427.5L95.5 425.8L96.2 423.4L96.4 420.9L96.7 419.8L95.0 419.8L93.6 420.7L91.6 419.6L90.7 420.4L89.2 419.8L88.0 419.3L87.3 416.8L87.6 415.2L87.0 414.0L86.8 413.0L84.8 413.0L84.3 414.3L83.6 413.7L83.6 415.5L84.3 417.1L84.8 418.1L83.9 418.4L84.1 420.1L83.3 420.1L82.6 419.6L82.1 417.9L81.9 416.8L81.1 415.2L80.4 413.5L80.5 411.4L79.5 410.2L77.5 408.6L76.1 406.9L75.4 405.6L74.7 406.0L74.8 405.0L73.5 405.6L73.5 407.3L74.6 408.4L75.3 410.4L77.1 411.2L79.4 414.0L79.4 414.7L78.0 413.5L77.6 414.8L78.1 416.0L77.1 417.6L76.8 417.1L77.2 416.0L76.6 414.2L75.4 413.0L74.1 412.2L72.9 410.7L71.7 409.4L71.4 407.9L70.1 407.1L68.8 408.1L67.3 409.2L65.9 408.8L64.6 409.1L64.5 410.4L64.6 411.2L63.6 412.2L62.4 413.0L61.5 414.3L61.2 415.2L61.7 416.5L60.8 418.1L59.6 419.6L57.1 419.8L56.2 420.7L55.4 419.8L54.7 418.9L52.8 419.3L52.9 416.8L52.3 416.3L52.9 413.5L52.9 411.1L52.5 409.4L53.7 408.3L56.2 408.4L58.1 408.8L59.8 408.8L60.3 406.9L60.4 404.5L59.6 402.8L57.1 401.5L56.8 400.4L58.6 399.9L59.9 400.1L59.8 398.4L60.3 398.9L61.6 398.7L63.0 397.6L63.1 396.4L64.4 395.8L65.4 394.6L66.1 393.0L67.8 392.2L69.8 391.8L70.0 389.7L69.4 388.1L69.5 386.4L70.7 386.1L71.7 385.3L73.0 385.6L72.4 383.1L71.7 382.6L70.7 383.5L69.3 384.8L68.0 384.8L66.8 383.5L66.4 381.5ZM416.4 381.5L549.6 381.5L549.6 382.3L545.7 388.1L545.2 391.4L548.6 393.0L548.1 400.4L545.7 404.5L542.8 408.6L538.9 410.2L537.4 413.5L535.5 415.2L537.2 419.3L537.1 422.2L534.5 423.4L534.5 419.3L533.0 416.8L530.1 413.5L529.1 416.0L526.2 416.0L527.2 418.4L530.6 418.8L528.2 420.9L527.7 422.5L528.7 425.8L530.1 429.1L529.6 432.4L528.2 436.5L526.2 439.8L524.8 442.2L522.3 443.4L519.4 445.0L518.4 446.7L518.0 444.7L516.5 444.7L515.0 446.3L514.4 448.8L515.5 452.1L517.5 454.6L517.8 459.5L516.5 462.3L515.0 463.6L513.6 465.7L513.6 463.6L512.1 462.4L511.2 460.3L509.7 459.0L509.2 457.8L508.7 460.3L508.2 463.6L509.0 466.9L510.2 468.8L511.6 471.8L512.1 475.1L512.6 477.5L511.6 477.5L510.0 475.4L509.2 472.6L509.0 470.1L508.2 467.7L507.1 466.4L507.3 463.6L507.3 460.3L506.5 455.4L506.3 452.9L504.8 452.4L503.4 453.7L503.2 450.4L502.4 447.2L500.9 444.7L500.5 442.7L499.0 443.9L497.5 444.4L496.1 445.5L495.6 447.2L494.1 448.3L492.2 451.3L490.7 453.7L489.5 455.4L489.4 458.7L489.1 463.1L488.3 464.7L487.5 465.4L486.8 466.7L485.9 464.4L484.9 460.8L484.2 458.7L483.7 455.4L483.0 452.9L482.5 449.6L482.3 447.2L482.2 445.0L481.8 445.5L480.5 445.9L479.6 445.0L478.6 443.4L479.6 442.2L478.1 441.1L476.9 439.8L476.3 438.5L474.2 438.6L471.3 438.8L468.9 438.3L467.2 437.8L466.4 439.8L467.4 440.9L468.7 441.4L469.6 443.1L468.7 446.3L467.7 448.8L466.9 450.6L465.2 451.3L462.2 454.4L459.1 457.0L455.2 459.0L453.8 459.2L453.6 461.1L454.8 462.8L457.2 461.6L459.1 461.4L461.3 460.3L461.3 462.8L460.3 466.0L459.1 470.1L457.7 473.4L455.2 476.7L452.8 480.8L451.4 483.3L450.4 485.7L449.6 488.2L449.4 490.7L449.9 493.1L450.1 496.4L450.9 498.1L450.9 503.8L449.9 507.1L447.5 509.2L446.0 512.0L445.5 514.5L446.0 518.6L444.1 521.5L443.4 522.7L443.4 526.0L442.1 528.4L441.0 530.9L439.2 533.8L437.8 535.3L436.5 535.8L433.4 536.1L430.9 537.1L429.4 536.1L429.2 533.4L428.3 530.1L427.5 526.8L426.3 524.3L425.6 517.8L424.1 512.8L423.0 508.7L423.5 503.8L424.6 500.5L424.6 496.4L423.9 493.1L423.4 489.9L423.2 488.2L421.2 484.9L420.2 481.6L420.7 478.4L420.9 475.1L420.5 473.4L419.8 472.6L418.3 472.8L417.3 472.9L416.4 471.0L415.7 469.7L413.9 469.7L412.5 470.5L409.6 471.8L407.6 471.5L404.2 472.8L402.8 471.8L400.8 469.0L399.3 467.7L398.6 465.2L397.1 462.3L395.3 460.3L395.2 457.8L394.5 455.9L395.5 453.7L395.7 450.4L395.8 448.0L395.0 445.5L395.9 441.4L397.1 438.1L398.9 434.5L400.8 432.7L402.0 430.8L402.2 428.3L403.2 425.3L404.9 424.2L405.8 421.2L406.3 421.1L407.1 422.2L408.7 422.2L409.6 422.4L411.5 421.2L413.0 420.1L414.4 419.6L416.4 419.6L418.3 419.3L420.2 418.9L421.4 418.9L422.2 419.3L421.7 420.9L422.0 422.5L421.4 423.9L422.2 425.0L423.7 426.2L426.1 427.0L426.6 428.3L428.5 429.4L430.5 429.9L430.9 428.3L430.9 426.6L432.4 426.0L433.9 426.5L435.8 427.8L437.8 428.8L439.7 429.3L441.6 428.3L442.9 428.8L444.6 428.6L445.2 427.5L445.5 425.8L446.2 423.4L446.4 420.9L446.7 419.8L445.0 419.8L443.6 420.7L441.6 419.6L440.7 420.4L439.2 419.8L438.0 419.3L437.3 416.8L437.6 415.2L437.0 414.0L436.8 413.0L434.8 413.0L434.3 414.3L433.6 413.7L433.6 415.5L434.3 417.1L434.8 418.1L433.9 418.4L434.1 420.1L433.3 420.1L432.6 419.6L432.1 417.9L431.9 416.8L431.1 415.2L430.4 413.5L430.5 411.4L429.5 410.2L427.5 408.6L426.1 406.9L425.4 405.6L424.7 406.0L424.8 405.0L423.5 405.6L423.5 407.3L424.6 408.4L425.3 410.4L427.1 411.2L429.4 414.0L429.4 414.7L428.0 413.5L427.6 414.8L428.1 416.0L427.1 417.6L426.8 417.1L427.2 416.0L426.6 414.2L425.4 413.0L424.1 412.2L422.9 410.7L421.7 409.4L421.4 407.9L420.1 407.1L418.8 408.1L417.3 409.2L415.9 408.8L414.6 409.1L414.5 410.4L414.6 411.2L413.6 412.2L412.4 413.0L411.5 414.3L411.2 415.2L411.7 416.5L410.8 418.1L409.6 419.6L407.1 419.8L406.3 420.7L405.4 419.8L404.7 418.9L402.8 419.3L402.9 416.8L402.3 416.3L402.9 413.5L402.9 411.1L402.5 409.4L403.7 408.3L406.2 408.4L408.1 408.8L409.8 408.8L410.3 406.9L410.4 404.5L409.6 402.8L407.1 401.5L406.8 400.4L408.6 399.9L409.9 400.1L409.8 398.4L410.3 398.9L411.6 398.7L413.0 397.6L413.1 396.4L414.4 395.8L415.4 394.6L416.1 393.0L417.8 392.2L419.8 391.8L420.0 389.7L419.4 388.1L419.5 386.4L420.7 386.1L421.7 385.3L423.0 385.6L422.4 383.1L421.7 382.6L420.7 383.5L419.3 384.8L418.0 384.8L416.8 383.5L416.4 381.5ZM51.3 395.5L51.8 390.5L53.7 388.9L55.7 384.0L58.6 383.1L60.0 385.6L59.6 388.1L61.5 392.2L63.2 393.3L63.0 396.3L56.2 397.9ZM401.3 395.5L401.8 390.5L403.7 388.9L405.7 384.0L408.6 383.1L410.0 385.6L409.6 388.1L411.5 392.2L413.2 393.3L413.0 396.3L406.2 397.9ZM56.0 397.8L58.1 397.4L60.5 396.8L62.8 396.1L62.9 395.6L62.2 395.5L63.2 393.5L61.8 393.0L61.7 392.2L61.3 391.0L60.0 389.7L59.6 388.1L58.4 388.1L59.6 385.4L57.6 385.3L58.6 383.8L56.6 383.8L55.9 385.6L56.2 387.7L56.8 388.9L56.6 390.0L58.1 389.9L58.6 391.5L58.4 392.5L57.1 392.5L57.4 393.8L56.4 395.0L58.1 395.5L58.6 395.9L57.3 396.1ZM406.0 397.8L408.1 397.4L410.5 396.8L412.8 396.1L412.9 395.6L412.2 395.5L413.2 393.5L411.8 393.0L411.7 392.2L411.3 391.0L410.0 389.7L409.6 388.1L408.4 388.1L409.6 385.4L407.6 385.3L408.6 383.8L406.6 383.8L405.9 385.6L406.2 387.7L406.8 388.9L406.6 390.0L408.1 389.9L408.6 391.5L408.4 392.5L407.1 392.5L407.4 393.8L406.4 395.0L408.1 395.5L408.6 395.9L407.3 396.1ZM405.7 394.3L405.5 392.2L406.1 390.4L405.2 389.4L403.5 389.5L403.2 390.9L401.8 391.4L402.3 392.7L402.3 393.8L401.5 394.6L402.0 395.5L403.7 395.1ZM251.1 381.5L254.0 383.6L257.9 383.6L258.4 385.6L255.9 388.1L253.0 389.7L254.0 389.9L257.4 388.1L259.8 386.1L261.8 384.5L262.3 382.6L263.7 381.5L264.2 382.6L266.2 381.8L267.6 381.5L269.6 381.5L271.5 381.5L274.4 381.8L275.9 382.3L277.8 384.0L279.3 385.1L280.2 387.2L281.7 388.9L283.7 390.5L285.1 391.4L286.1 393.8L287.2 395.5L287.5 397.1L290.0 400.4L290.3 400.5L290.9 404.0L290.9 407.8L290.6 410.2L290.8 413.7L291.2 416.0L292.4 417.9L293.0 419.9L294.2 423.2L296.3 424.2L297.6 426.5L298.5 429.4L299.7 431.6L300.2 434.0L300.7 435.3L302.1 437.3L302.6 439.5L304.6 442.2L305.0 441.4L304.1 439.8L303.1 436.5L301.6 433.2L300.2 430.8L300.0 428.3L301.6 429.1L302.1 431.6L303.6 434.0L305.0 436.5L306.5 439.0L308.0 441.4L308.9 444.7L308.9 447.2L310.4 448.8L312.3 450.4L314.3 452.1L316.7 453.7L319.1 453.4L320.6 454.6L322.1 456.2L324.0 457.5L326.2 458.7L326.4 459.5L327.9 461.1L328.2 463.6L329.3 464.4L330.3 466.0L331.3 466.5L332.8 467.7L333.4 466.4L334.2 465.2L335.2 466.4L336.2 468.5L336.2 471.8L336.6 473.4L335.2 476.7L334.7 478.4L333.5 480.0L332.9 481.6L333.2 484.1L333.7 485.7L332.6 487.4L332.8 489.9L333.9 492.3L335.2 495.6L336.6 499.7L337.6 503.0L339.6 506.3L342.0 508.7L343.2 510.4L343.2 514.5L343.0 519.4L342.5 524.3L342.0 529.2L341.8 534.2L340.5 540.7L340.0 545.7L339.6 550.6L339.1 555.5L338.1 558.8L338.6 563.7L339.6 567.0L342.5 568.6L343.4 570.6L346.4 571.4L348.3 570.0L345.9 568.3L344.9 566.2L344.4 563.7L345.9 560.4L347.5 558.0L345.9 555.5L347.8 553.9L348.3 550.6L349.3 549.8L348.3 547.3L350.7 546.5L351.2 544.0L354.1 543.2L356.1 540.7L355.9 538.3L354.6 536.3L357.1 537.3L359.0 536.3L360.9 533.4L362.4 530.1L364.2 526.5L364.3 522.7L365.8 520.2L368.2 518.1L370.7 517.8L371.6 516.1L372.6 512.8L373.6 509.6L373.6 504.6L374.1 501.3L375.5 498.1L377.5 494.8L377.7 491.5L377.3 488.7L375.5 487.9L373.1 484.9L370.7 484.6L368.2 484.1L366.8 481.6L364.8 481.1L362.9 480.0L361.9 476.7L361.4 472.9L360.0 471.0L357.5 470.1L355.6 469.7L354.1 466.9L352.2 466.0L351.2 463.6L349.3 462.8L347.3 462.8L344.9 461.6L343.4 460.3L342.0 461.9L341.0 461.1L339.1 461.9L338.1 462.8L337.1 465.2L336.2 465.7L334.7 464.4L333.2 465.2L331.8 465.2L330.3 462.8L330.1 460.3L330.6 456.2L329.8 454.1L327.9 453.9L325.9 454.1L325.5 452.1L325.9 449.6L326.4 447.2L326.9 444.7L325.5 444.7L323.7 445.5L323.2 448.0L322.1 449.3L319.6 450.1L318.2 448.8L316.9 446.3L316.4 443.1L316.7 439.0L317.0 435.7L318.2 433.2L319.6 431.6L322.1 431.4L324.0 432.1L324.8 432.1L324.5 430.4L325.9 430.3L327.9 430.3L329.3 431.1L330.8 432.4L331.1 434.9L332.0 437.3L332.8 438.6L333.4 438.5L333.7 435.7L333.0 432.4L332.4 429.9L332.8 427.5L334.2 425.8L335.7 424.2L337.1 423.0L337.9 421.7L337.6 419.3L338.1 417.6L339.1 415.5L339.6 413.5L341.5 412.7L343.4 411.5L342.8 410.2L343.2 408.3L344.9 407.3L346.4 406.5L347.3 408.3L347.8 408.6L349.8 406.8L352.2 405.6L353.2 404.5L353.8 401.9L357.1 403.0L360.0 403.3L360.3 402.0L359.5 400.4L358.0 398.7L357.1 397.6L357.5 395.5L357.3 394.6L357.1 392.2L355.1 390.0L353.2 388.9L351.7 386.4L351.2 384.8L349.8 382.3L348.8 381.5ZM353.8 401.9L357.1 403.0L360.0 403.3L360.3 402.0L359.5 400.4L358.0 398.7L357.1 397.6L357.5 395.5L356.1 396.3L355.1 398.7L354.1 400.4ZM367.3 381.5L368.7 382.0L369.7 381.5ZM328.9 444.2L330.8 442.2L333.2 442.1L336.6 444.7L339.4 446.8L336.2 447.5L335.7 446.0L331.8 444.2ZM339.2 449.8L341.0 447.3L343.4 447.5L345.0 449.5L342.5 450.8L340.5 450.1ZM171.8 516.1L172.3 522.7L173.3 529.2L173.3 535.8L175.7 537.5L177.7 535.8L181.6 535.7L184.0 533.0L186.9 531.9L189.3 531.7L191.8 533.7L193.2 537.1L193.7 537.5L195.2 534.2L195.7 536.6L196.2 538.3L197.1 539.1L198.1 542.4L201.0 543.7L202.5 542.9L203.9 544.0L205.4 542.2L207.3 541.2L207.8 537.5L208.6 535.0L209.8 532.5L210.2 529.2L210.7 526.0L210.2 521.9L208.8 519.4L207.8 516.9L206.4 514.5L205.4 512.8L203.7 511.2L203.3 507.9L202.8 504.6L201.5 503.5L201.0 501.3L200.0 497.7L199.3 501.3L199.1 505.4L198.1 508.7L196.6 507.9L195.2 506.3L193.7 505.4L193.2 503.8L194.5 500.0L192.8 499.7L190.3 498.9L188.9 500.0L187.9 502.2L187.4 504.6L185.9 504.6L185.0 503.0L183.5 503.8L182.5 507.1L181.1 507.9L180.3 509.6L179.1 512.0L177.2 512.8L175.2 514.0L173.8 515.3L172.3 516.1ZM202.2 547.0L205.6 547.0L205.7 549.0L204.9 551.4L203.4 551.4L202.7 549.3ZM229.4 536.6L231.0 538.0L231.4 540.4L232.6 541.7L235.0 541.9L234.4 544.4L233.5 545.7L231.9 548.3L231.4 547.8L231.6 545.7L230.5 544.7L231.3 542.4L231.3 540.7L230.2 538.3ZM229.4 546.5L231.0 548.5L229.7 550.6L229.5 551.9L227.9 553.1L227.5 555.4L225.8 556.5L224.3 555.8L223.4 555.2L225.1 552.2L227.3 550.6L228.2 548.6ZM188.9 481.3L191.8 481.3L192.8 485.4L195.2 482.8L198.6 484.3L202.0 486.2L203.4 489.0L205.2 490.2L204.6 492.0L205.9 494.8L207.8 497.2L205.4 496.7L203.4 493.6L201.5 492.6L200.5 495.1L198.6 494.9L196.6 493.1L195.7 493.6L196.4 491.2L195.7 489.0L192.8 487.2L190.8 486.6L190.6 484.6L191.8 483.8L189.8 483.6L188.9 482.1ZM167.5 477.5L168.0 476.7L169.4 477.2L171.4 474.7L173.3 471.8L175.1 468.5L175.7 470.1L177.2 471.3L176.2 472.9L175.9 475.1L176.2 478.4L175.7 480.0L174.8 482.5L174.3 485.7L172.8 486.6L171.4 485.4L169.9 485.4L168.4 483.3L167.5 480.8ZM154.2 470.8L156.3 471.5L157.8 473.9L159.2 476.4L160.7 478.4L162.1 481.1L163.1 483.3L164.6 484.9L164.4 489.5L163.1 489.4L161.2 486.9L159.7 484.4L158.7 481.6L157.6 477.5L156.3 475.4L154.8 473.4ZM163.8 491.2L165.0 489.9L167.0 491.0L169.2 490.7L171.1 491.5L172.8 492.8L172.6 494.3L169.4 493.6L167.0 492.8L165.0 492.1ZM177.2 480.8L178.2 478.7L179.1 478.0L181.1 478.5L183.0 477.4L182.5 479.3L180.6 479.3L178.7 479.5L178.2 481.3L179.6 481.5L181.4 481.3L179.8 483.3L180.9 486.6L180.4 487.9L179.6 487.4L179.1 484.9L178.5 485.7L178.5 489.0L177.7 489.0L177.7 485.7L177.0 484.1L177.5 481.6ZM178.7 449.6L180.3 449.8L180.1 452.9L179.6 455.4L180.6 457.0L182.1 459.0L181.6 459.5L180.1 457.8L179.1 457.5L178.5 455.9L178.2 453.4ZM180.1 468.5L181.6 466.0L183.5 463.9L184.5 466.9L184.2 469.3L183.5 470.5L182.1 469.3L181.6 467.7ZM180.1 462.8L181.1 461.1L182.5 459.5L183.5 461.9L183.0 463.6L181.6 464.4L180.6 464.4ZM175.4 466.2L176.7 464.7L177.7 461.4L177.2 463.3L176.2 465.6ZM188.9 423.9L190.8 421.7L193.2 421.6L194.4 419.6L195.0 418.4L196.2 418.8L197.1 416.8L197.6 414.3L197.6 412.4L199.0 412.0L199.6 415.2L198.6 417.6L198.5 420.1L198.1 422.0L197.4 422.5L196.6 422.5L196.2 423.2L194.7 423.2L194.5 423.7L193.5 425.0L192.8 423.7L192.4 424.5L191.3 425.5L190.8 426.3L190.2 425.2L189.8 425.8L189.2 428.5L188.5 428.9L188.1 427.1L187.6 425.5L188.4 424.3ZM197.6 411.9L197.9 409.1L199.1 408.9L199.3 405.5L200.5 407.3L202.8 407.4L203.0 409.1L201.5 409.6L200.7 411.1L199.1 410.1L198.4 410.2L198.6 411.5ZM199.6 404.5L201.0 403.7L200.5 399.6L202.0 399.2L200.7 394.6L200.8 392.2L200.3 390.9L199.6 392.2L199.4 394.6L199.6 397.9L199.6 401.2ZM221.9 381.5L220.9 382.3L219.5 384.0L220.0 385.3L218.8 387.2L219.0 389.7L217.1 391.4L215.4 394.1L213.8 396.3L213.2 393.8L212.9 389.7L213.7 386.4L214.1 384.8L216.1 383.1L217.1 381.5ZM178.4 443.1L179.1 443.9L180.0 439.0L179.1 438.6L178.4 441.4ZM167.2 448.5L168.4 447.0L169.4 447.8L168.4 450.0L167.5 450.0ZM139.1 466.9L139.5 464.1L140.5 466.0L141.0 468.5L140.2 470.0L139.4 470.0ZM109.4 499.7L110.6 505.4L109.6 507.9L107.7 520.7L105.2 521.9L103.8 517.8L104.6 512.8L104.3 507.9L106.2 505.9L108.2 502.2ZM173.8 493.5L177.2 493.5L181.1 493.5L183.0 493.3L185.0 493.6L182.1 496.7L178.2 496.3L175.2 494.8ZM185.5 481.3L185.9 476.7L186.8 478.4L186.4 481.3ZM184.0 485.3L185.9 484.8L188.6 485.4L187.4 486.2L184.5 486.2ZM205.9 489.2L207.3 488.5L209.5 487.1L209.3 489.0L207.3 490.3ZM213.2 491.5L215.1 492.5L217.5 495.1L218.8 497.2L217.1 496.4L214.6 494.0ZM220.9 513.2L222.4 514.5L223.9 516.6L222.9 516.4L221.1 514.1ZM233.9 508.6L235.1 508.6L235.1 510.0L233.9 510.0ZM259.8 448.5L260.9 447.0L261.0 448.2L260.1 449.0ZM203.4 406.9L205.4 405.6L207.8 404.0L209.3 402.3L208.8 402.3L206.8 404.5L204.4 406.1ZM243.3 393.3L246.2 394.0L249.1 392.7L252.1 391.0L251.9 390.4L248.2 392.0L244.3 392.7ZM113.4 459.6L114.5 459.3L114.4 460.0ZM223.5 504.6L224.2 505.4L225.1 508.7L224.4 507.1ZM151.6 457.8L151.9 461.1L151.5 462.6L151.3 460.3Z" fill="#fff" stroke="#fff" stroke-opacity="0.55" stroke-width="4.2" stroke-linejoin="round"/><path d="M66.4 381.5L199.6 381.5L199.6 382.3L195.7 388.1L195.2 391.4L198.6 393.0L198.1 400.4L195.7 404.5L192.8 408.6L188.9 410.2L187.4 413.5L185.5 415.2L187.2 419.3L187.1 422.2L184.5 423.4L184.5 419.3L183.0 416.8L180.1 413.5L179.1 416.0L176.2 416.0L177.2 418.4L180.6 418.8L178.2 420.9L177.7 422.5L178.7 425.8L180.1 429.1L179.6 432.4L178.2 436.5L176.2 439.8L174.8 442.2L172.3 443.4L169.4 445.0L168.4 446.7L168.0 444.7L166.5 444.7L165.0 446.3L164.4 448.8L165.5 452.1L167.5 454.6L167.8 459.5L166.5 462.3L165.0 463.6L163.6 465.7L163.6 463.6L162.1 462.4L161.2 460.3L159.7 459.0L159.2 457.8L158.7 460.3L158.2 463.6L159.0 466.9L160.2 468.8L161.6 471.8L162.1 475.1L162.6 477.5L161.6 477.5L160.0 475.4L159.2 472.6L159.0 470.1L158.2 467.7L157.1 466.4L157.3 463.6L157.3 460.3L156.5 455.4L156.3 452.9L154.8 452.4L153.4 453.7L153.2 450.4L152.4 447.2L150.9 444.7L150.5 442.7L149.0 443.9L147.5 444.4L146.1 445.5L145.6 447.2L144.1 448.3L142.2 451.3L140.7 453.7L139.5 455.4L139.4 458.7L139.1 463.1L138.3 464.7L137.5 465.4L136.8 466.7L135.9 464.4L134.9 460.8L134.2 458.7L133.7 455.4L133.0 452.9L132.5 449.6L132.3 447.2L132.2 445.0L131.8 445.5L130.5 445.9L129.6 445.0L128.6 443.4L129.6 442.2L128.1 441.1L126.9 439.8L126.3 438.5L124.2 438.6L121.3 438.8L118.9 438.3L117.2 437.8L116.4 439.8L117.4 440.9L118.7 441.4L119.6 443.1L118.7 446.3L117.7 448.8L116.9 450.6L115.2 451.3L112.2 454.4L109.1 457.0L105.2 459.0L103.8 459.2L103.6 461.1L104.8 462.8L107.2 461.6L109.1 461.4L111.3 460.3L111.3 462.8L110.3 466.0L109.1 470.1L107.7 473.4L105.2 476.7L102.8 480.8L101.4 483.3L100.4 485.7L99.6 488.2L99.4 490.7L99.9 493.1L100.1 496.4L100.9 498.1L100.9 503.8L99.9 507.1L97.5 509.2L96.0 512.0L95.5 514.5L96.0 518.6L94.1 521.5L93.4 522.7L93.4 526.0L92.1 528.4L91.0 530.9L89.2 533.8L87.8 535.3L86.5 535.8L83.4 536.1L80.9 537.1L79.4 536.1L79.2 533.4L78.3 530.1L77.5 526.8L76.3 524.3L75.6 517.8L74.1 512.8L73.0 508.7L73.5 503.8L74.6 500.5L74.6 496.4L73.9 493.1L73.4 489.9L73.2 488.2L71.2 484.9L70.2 481.6L70.7 478.4L70.9 475.1L70.5 473.4L69.8 472.6L68.3 472.8L67.3 472.9L66.4 471.0L65.7 469.7L63.9 469.7L62.5 470.5L59.6 471.8L57.6 471.5L54.2 472.8L52.8 471.8L50.8 469.0L49.3 467.7L48.6 465.2L47.1 462.3L45.3 460.3L45.2 457.8L44.5 455.9L45.5 453.7L45.7 450.4L45.8 448.0L45.0 445.5L45.9 441.4L47.1 438.1L48.9 434.5L50.8 432.7L52.0 430.8L52.2 428.3L53.2 425.3L54.9 424.2L55.8 421.2L56.3 421.1L57.1 422.2L58.7 422.2L59.6 422.4L61.5 421.2L63.0 420.1L64.4 419.6L66.4 419.6L68.3 419.3L70.2 418.9L71.4 418.9L72.2 419.3L71.7 420.9L72.0 422.5L71.4 423.9L72.2 425.0L73.7 426.2L76.1 427.0L76.6 428.3L78.5 429.4L80.5 429.9L80.9 428.3L80.9 426.6L82.4 426.0L83.9 426.5L85.8 427.8L87.8 428.8L89.7 429.3L91.6 428.3L92.9 428.8L94.6 428.6L95.2 427.5L95.5 425.8L96.2 423.4L96.4 420.9L96.7 419.8L95.0 419.8L93.6 420.7L91.6 419.6L90.7 420.4L89.2 419.8L88.0 419.3L87.3 416.8L87.6 415.2L87.0 414.0L86.8 413.0L84.8 413.0L84.3 414.3L83.6 413.7L83.6 415.5L84.3 417.1L84.8 418.1L83.9 418.4L84.1 420.1L83.3 420.1L82.6 419.6L82.1 417.9L81.9 416.8L81.1 415.2L80.4 413.5L80.5 411.4L79.5 410.2L77.5 408.6L76.1 406.9L75.4 405.6L74.7 406.0L74.8 405.0L73.5 405.6L73.5 407.3L74.6 408.4L75.3 410.4L77.1 411.2L79.4 414.0L79.4 414.7L78.0 413.5L77.6 414.8L78.1 416.0L77.1 417.6L76.8 417.1L77.2 416.0L76.6 414.2L75.4 413.0L74.1 412.2L72.9 410.7L71.7 409.4L71.4 407.9L70.1 407.1L68.8 408.1L67.3 409.2L65.9 408.8L64.6 409.1L64.5 410.4L64.6 411.2L63.6 412.2L62.4 413.0L61.5 414.3L61.2 415.2L61.7 416.5L60.8 418.1L59.6 419.6L57.1 419.8L56.2 420.7L55.4 419.8L54.7 418.9L52.8 419.3L52.9 416.8L52.3 416.3L52.9 413.5L52.9 411.1L52.5 409.4L53.7 408.3L56.2 408.4L58.1 408.8L59.8 408.8L60.3 406.9L60.4 404.5L59.6 402.8L57.1 401.5L56.8 400.4L58.6 399.9L59.9 400.1L59.8 398.4L60.3 398.9L61.6 398.7L63.0 397.6L63.1 396.4L64.4 395.8L65.4 394.6L66.1 393.0L67.8 392.2L69.8 391.8L70.0 389.7L69.4 388.1L69.5 386.4L70.7 386.1L71.7 385.3L73.0 385.6L72.4 383.1L71.7 382.6L70.7 383.5L69.3 384.8L68.0 384.8L66.8 383.5L66.4 381.5ZM416.4 381.5L549.6 381.5L549.6 382.3L545.7 388.1L545.2 391.4L548.6 393.0L548.1 400.4L545.7 404.5L542.8 408.6L538.9 410.2L537.4 413.5L535.5 415.2L537.2 419.3L537.1 422.2L534.5 423.4L534.5 419.3L533.0 416.8L530.1 413.5L529.1 416.0L526.2 416.0L527.2 418.4L530.6 418.8L528.2 420.9L527.7 422.5L528.7 425.8L530.1 429.1L529.6 432.4L528.2 436.5L526.2 439.8L524.8 442.2L522.3 443.4L519.4 445.0L518.4 446.7L518.0 444.7L516.5 444.7L515.0 446.3L514.4 448.8L515.5 452.1L517.5 454.6L517.8 459.5L516.5 462.3L515.0 463.6L513.6 465.7L513.6 463.6L512.1 462.4L511.2 460.3L509.7 459.0L509.2 457.8L508.7 460.3L508.2 463.6L509.0 466.9L510.2 468.8L511.6 471.8L512.1 475.1L512.6 477.5L511.6 477.5L510.0 475.4L509.2 472.6L509.0 470.1L508.2 467.7L507.1 466.4L507.3 463.6L507.3 460.3L506.5 455.4L506.3 452.9L504.8 452.4L503.4 453.7L503.2 450.4L502.4 447.2L500.9 444.7L500.5 442.7L499.0 443.9L497.5 444.4L496.1 445.5L495.6 447.2L494.1 448.3L492.2 451.3L490.7 453.7L489.5 455.4L489.4 458.7L489.1 463.1L488.3 464.7L487.5 465.4L486.8 466.7L485.9 464.4L484.9 460.8L484.2 458.7L483.7 455.4L483.0 452.9L482.5 449.6L482.3 447.2L482.2 445.0L481.8 445.5L480.5 445.9L479.6 445.0L478.6 443.4L479.6 442.2L478.1 441.1L476.9 439.8L476.3 438.5L474.2 438.6L471.3 438.8L468.9 438.3L467.2 437.8L466.4 439.8L467.4 440.9L468.7 441.4L469.6 443.1L468.7 446.3L467.7 448.8L466.9 450.6L465.2 451.3L462.2 454.4L459.1 457.0L455.2 459.0L453.8 459.2L453.6 461.1L454.8 462.8L457.2 461.6L459.1 461.4L461.3 460.3L461.3 462.8L460.3 466.0L459.1 470.1L457.7 473.4L455.2 476.7L452.8 480.8L451.4 483.3L450.4 485.7L449.6 488.2L449.4 490.7L449.9 493.1L450.1 496.4L450.9 498.1L450.9 503.8L449.9 507.1L447.5 509.2L446.0 512.0L445.5 514.5L446.0 518.6L444.1 521.5L443.4 522.7L443.4 526.0L442.1 528.4L441.0 530.9L439.2 533.8L437.8 535.3L436.5 535.8L433.4 536.1L430.9 537.1L429.4 536.1L429.2 533.4L428.3 530.1L427.5 526.8L426.3 524.3L425.6 517.8L424.1 512.8L423.0 508.7L423.5 503.8L424.6 500.5L424.6 496.4L423.9 493.1L423.4 489.9L423.2 488.2L421.2 484.9L420.2 481.6L420.7 478.4L420.9 475.1L420.5 473.4L419.8 472.6L418.3 472.8L417.3 472.9L416.4 471.0L415.7 469.7L413.9 469.7L412.5 470.5L409.6 471.8L407.6 471.5L404.2 472.8L402.8 471.8L400.8 469.0L399.3 467.7L398.6 465.2L397.1 462.3L395.3 460.3L395.2 457.8L394.5 455.9L395.5 453.7L395.7 450.4L395.8 448.0L395.0 445.5L395.9 441.4L397.1 438.1L398.9 434.5L400.8 432.7L402.0 430.8L402.2 428.3L403.2 425.3L404.9 424.2L405.8 421.2L406.3 421.1L407.1 422.2L408.7 422.2L409.6 422.4L411.5 421.2L413.0 420.1L414.4 419.6L416.4 419.6L418.3 419.3L420.2 418.9L421.4 418.9L422.2 419.3L421.7 420.9L422.0 422.5L421.4 423.9L422.2 425.0L423.7 426.2L426.1 427.0L426.6 428.3L428.5 429.4L430.5 429.9L430.9 428.3L430.9 426.6L432.4 426.0L433.9 426.5L435.8 427.8L437.8 428.8L439.7 429.3L441.6 428.3L442.9 428.8L444.6 428.6L445.2 427.5L445.5 425.8L446.2 423.4L446.4 420.9L446.7 419.8L445.0 419.8L443.6 420.7L441.6 419.6L440.7 420.4L439.2 419.8L438.0 419.3L437.3 416.8L437.6 415.2L437.0 414.0L436.8 413.0L434.8 413.0L434.3 414.3L433.6 413.7L433.6 415.5L434.3 417.1L434.8 418.1L433.9 418.4L434.1 420.1L433.3 420.1L432.6 419.6L432.1 417.9L431.9 416.8L431.1 415.2L430.4 413.5L430.5 411.4L429.5 410.2L427.5 408.6L426.1 406.9L425.4 405.6L424.7 406.0L424.8 405.0L423.5 405.6L423.5 407.3L424.6 408.4L425.3 410.4L427.1 411.2L429.4 414.0L429.4 414.7L428.0 413.5L427.6 414.8L428.1 416.0L427.1 417.6L426.8 417.1L427.2 416.0L426.6 414.2L425.4 413.0L424.1 412.2L422.9 410.7L421.7 409.4L421.4 407.9L420.1 407.1L418.8 408.1L417.3 409.2L415.9 408.8L414.6 409.1L414.5 410.4L414.6 411.2L413.6 412.2L412.4 413.0L411.5 414.3L411.2 415.2L411.7 416.5L410.8 418.1L409.6 419.6L407.1 419.8L406.3 420.7L405.4 419.8L404.7 418.9L402.8 419.3L402.9 416.8L402.3 416.3L402.9 413.5L402.9 411.1L402.5 409.4L403.7 408.3L406.2 408.4L408.1 408.8L409.8 408.8L410.3 406.9L410.4 404.5L409.6 402.8L407.1 401.5L406.8 400.4L408.6 399.9L409.9 400.1L409.8 398.4L410.3 398.9L411.6 398.7L413.0 397.6L413.1 396.4L414.4 395.8L415.4 394.6L416.1 393.0L417.8 392.2L419.8 391.8L420.0 389.7L419.4 388.1L419.5 386.4L420.7 386.1L421.7 385.3L423.0 385.6L422.4 383.1L421.7 382.6L420.7 383.5L419.3 384.8L418.0 384.8L416.8 383.5L416.4 381.5ZM51.3 395.5L51.8 390.5L53.7 388.9L55.7 384.0L58.6 383.1L60.0 385.6L59.6 388.1L61.5 392.2L63.2 393.3L63.0 396.3L56.2 397.9ZM401.3 395.5L401.8 390.5L403.7 388.9L405.7 384.0L408.6 383.1L410.0 385.6L409.6 388.1L411.5 392.2L413.2 393.3L413.0 396.3L406.2 397.9ZM56.0 397.8L58.1 397.4L60.5 396.8L62.8 396.1L62.9 395.6L62.2 395.5L63.2 393.5L61.8 393.0L61.7 392.2L61.3 391.0L60.0 389.7L59.6 388.1L58.4 388.1L59.6 385.4L57.6 385.3L58.6 383.8L56.6 383.8L55.9 385.6L56.2 387.7L56.8 388.9L56.6 390.0L58.1 389.9L58.6 391.5L58.4 392.5L57.1 392.5L57.4 393.8L56.4 395.0L58.1 395.5L58.6 395.9L57.3 396.1ZM406.0 397.8L408.1 397.4L410.5 396.8L412.8 396.1L412.9 395.6L412.2 395.5L413.2 393.5L411.8 393.0L411.7 392.2L411.3 391.0L410.0 389.7L409.6 388.1L408.4 388.1L409.6 385.4L407.6 385.3L408.6 383.8L406.6 383.8L405.9 385.6L406.2 387.7L406.8 388.9L406.6 390.0L408.1 389.9L408.6 391.5L408.4 392.5L407.1 392.5L407.4 393.8L406.4 395.0L408.1 395.5L408.6 395.9L407.3 396.1ZM405.7 394.3L405.5 392.2L406.1 390.4L405.2 389.4L403.5 389.5L403.2 390.9L401.8 391.4L402.3 392.7L402.3 393.8L401.5 394.6L402.0 395.5L403.7 395.1ZM251.1 381.5L254.0 383.6L257.9 383.6L258.4 385.6L255.9 388.1L253.0 389.7L254.0 389.9L257.4 388.1L259.8 386.1L261.8 384.5L262.3 382.6L263.7 381.5L264.2 382.6L266.2 381.8L267.6 381.5L269.6 381.5L271.5 381.5L274.4 381.8L275.9 382.3L277.8 384.0L279.3 385.1L280.2 387.2L281.7 388.9L283.7 390.5L285.1 391.4L286.1 393.8L287.2 395.5L287.5 397.1L290.0 400.4L290.3 400.5L290.9 404.0L290.9 407.8L290.6 410.2L290.8 413.7L291.2 416.0L292.4 417.9L293.0 419.9L294.2 423.2L296.3 424.2L297.6 426.5L298.5 429.4L299.7 431.6L300.2 434.0L300.7 435.3L302.1 437.3L302.6 439.5L304.6 442.2L305.0 441.4L304.1 439.8L303.1 436.5L301.6 433.2L300.2 430.8L300.0 428.3L301.6 429.1L302.1 431.6L303.6 434.0L305.0 436.5L306.5 439.0L308.0 441.4L308.9 444.7L308.9 447.2L310.4 448.8L312.3 450.4L314.3 452.1L316.7 453.7L319.1 453.4L320.6 454.6L322.1 456.2L324.0 457.5L326.2 458.7L326.4 459.5L327.9 461.1L328.2 463.6L329.3 464.4L330.3 466.0L331.3 466.5L332.8 467.7L333.4 466.4L334.2 465.2L335.2 466.4L336.2 468.5L336.2 471.8L336.6 473.4L335.2 476.7L334.7 478.4L333.5 480.0L332.9 481.6L333.2 484.1L333.7 485.7L332.6 487.4L332.8 489.9L333.9 492.3L335.2 495.6L336.6 499.7L337.6 503.0L339.6 506.3L342.0 508.7L343.2 510.4L343.2 514.5L343.0 519.4L342.5 524.3L342.0 529.2L341.8 534.2L340.5 540.7L340.0 545.7L339.6 550.6L339.1 555.5L338.1 558.8L338.6 563.7L339.6 567.0L342.5 568.6L343.4 570.6L346.4 571.4L348.3 570.0L345.9 568.3L344.9 566.2L344.4 563.7L345.9 560.4L347.5 558.0L345.9 555.5L347.8 553.9L348.3 550.6L349.3 549.8L348.3 547.3L350.7 546.5L351.2 544.0L354.1 543.2L356.1 540.7L355.9 538.3L354.6 536.3L357.1 537.3L359.0 536.3L360.9 533.4L362.4 530.1L364.2 526.5L364.3 522.7L365.8 520.2L368.2 518.1L370.7 517.8L371.6 516.1L372.6 512.8L373.6 509.6L373.6 504.6L374.1 501.3L375.5 498.1L377.5 494.8L377.7 491.5L377.3 488.7L375.5 487.9L373.1 484.9L370.7 484.6L368.2 484.1L366.8 481.6L364.8 481.1L362.9 480.0L361.9 476.7L361.4 472.9L360.0 471.0L357.5 470.1L355.6 469.7L354.1 466.9L352.2 466.0L351.2 463.6L349.3 462.8L347.3 462.8L344.9 461.6L343.4 460.3L342.0 461.9L341.0 461.1L339.1 461.9L338.1 462.8L337.1 465.2L336.2 465.7L334.7 464.4L333.2 465.2L331.8 465.2L330.3 462.8L330.1 460.3L330.6 456.2L329.8 454.1L327.9 453.9L325.9 454.1L325.5 452.1L325.9 449.6L326.4 447.2L326.9 444.7L325.5 444.7L323.7 445.5L323.2 448.0L322.1 449.3L319.6 450.1L318.2 448.8L316.9 446.3L316.4 443.1L316.7 439.0L317.0 435.7L318.2 433.2L319.6 431.6L322.1 431.4L324.0 432.1L324.8 432.1L324.5 430.4L325.9 430.3L327.9 430.3L329.3 431.1L330.8 432.4L331.1 434.9L332.0 437.3L332.8 438.6L333.4 438.5L333.7 435.7L333.0 432.4L332.4 429.9L332.8 427.5L334.2 425.8L335.7 424.2L337.1 423.0L337.9 421.7L337.6 419.3L338.1 417.6L339.1 415.5L339.6 413.5L341.5 412.7L343.4 411.5L342.8 410.2L343.2 408.3L344.9 407.3L346.4 406.5L347.3 408.3L347.8 408.6L349.8 406.8L352.2 405.6L353.2 404.5L353.8 401.9L357.1 403.0L360.0 403.3L360.3 402.0L359.5 400.4L358.0 398.7L357.1 397.6L357.5 395.5L357.3 394.6L357.1 392.2L355.1 390.0L353.2 388.9L351.7 386.4L351.2 384.8L349.8 382.3L348.8 381.5ZM353.8 401.9L357.1 403.0L360.0 403.3L360.3 402.0L359.5 400.4L358.0 398.7L357.1 397.6L357.5 395.5L356.1 396.3L355.1 398.7L354.1 400.4ZM367.3 381.5L368.7 382.0L369.7 381.5ZM328.9 444.2L330.8 442.2L333.2 442.1L336.6 444.7L339.4 446.8L336.2 447.5L335.7 446.0L331.8 444.2ZM339.2 449.8L341.0 447.3L343.4 447.5L345.0 449.5L342.5 450.8L340.5 450.1ZM171.8 516.1L172.3 522.7L173.3 529.2L173.3 535.8L175.7 537.5L177.7 535.8L181.6 535.7L184.0 533.0L186.9 531.9L189.3 531.7L191.8 533.7L193.2 537.1L193.7 537.5L195.2 534.2L195.7 536.6L196.2 538.3L197.1 539.1L198.1 542.4L201.0 543.7L202.5 542.9L203.9 544.0L205.4 542.2L207.3 541.2L207.8 537.5L208.6 535.0L209.8 532.5L210.2 529.2L210.7 526.0L210.2 521.9L208.8 519.4L207.8 516.9L206.4 514.5L205.4 512.8L203.7 511.2L203.3 507.9L202.8 504.6L201.5 503.5L201.0 501.3L200.0 497.7L199.3 501.3L199.1 505.4L198.1 508.7L196.6 507.9L195.2 506.3L193.7 505.4L193.2 503.8L194.5 500.0L192.8 499.7L190.3 498.9L188.9 500.0L187.9 502.2L187.4 504.6L185.9 504.6L185.0 503.0L183.5 503.8L182.5 507.1L181.1 507.9L180.3 509.6L179.1 512.0L177.2 512.8L175.2 514.0L173.8 515.3L172.3 516.1ZM202.2 547.0L205.6 547.0L205.7 549.0L204.9 551.4L203.4 551.4L202.7 549.3ZM229.4 536.6L231.0 538.0L231.4 540.4L232.6 541.7L235.0 541.9L234.4 544.4L233.5 545.7L231.9 548.3L231.4 547.8L231.6 545.7L230.5 544.7L231.3 542.4L231.3 540.7L230.2 538.3ZM229.4 546.5L231.0 548.5L229.7 550.6L229.5 551.9L227.9 553.1L227.5 555.4L225.8 556.5L224.3 555.8L223.4 555.2L225.1 552.2L227.3 550.6L228.2 548.6ZM188.9 481.3L191.8 481.3L192.8 485.4L195.2 482.8L198.6 484.3L202.0 486.2L203.4 489.0L205.2 490.2L204.6 492.0L205.9 494.8L207.8 497.2L205.4 496.7L203.4 493.6L201.5 492.6L200.5 495.1L198.6 494.9L196.6 493.1L195.7 493.6L196.4 491.2L195.7 489.0L192.8 487.2L190.8 486.6L190.6 484.6L191.8 483.8L189.8 483.6L188.9 482.1ZM167.5 477.5L168.0 476.7L169.4 477.2L171.4 474.7L173.3 471.8L175.1 468.5L175.7 470.1L177.2 471.3L176.2 472.9L175.9 475.1L176.2 478.4L175.7 480.0L174.8 482.5L174.3 485.7L172.8 486.6L171.4 485.4L169.9 485.4L168.4 483.3L167.5 480.8ZM154.2 470.8L156.3 471.5L157.8 473.9L159.2 476.4L160.7 478.4L162.1 481.1L163.1 483.3L164.6 484.9L164.4 489.5L163.1 489.4L161.2 486.9L159.7 484.4L158.7 481.6L157.6 477.5L156.3 475.4L154.8 473.4ZM163.8 491.2L165.0 489.9L167.0 491.0L169.2 490.7L171.1 491.5L172.8 492.8L172.6 494.3L169.4 493.6L167.0 492.8L165.0 492.1ZM177.2 480.8L178.2 478.7L179.1 478.0L181.1 478.5L183.0 477.4L182.5 479.3L180.6 479.3L178.7 479.5L178.2 481.3L179.6 481.5L181.4 481.3L179.8 483.3L180.9 486.6L180.4 487.9L179.6 487.4L179.1 484.9L178.5 485.7L178.5 489.0L177.7 489.0L177.7 485.7L177.0 484.1L177.5 481.6ZM178.7 449.6L180.3 449.8L180.1 452.9L179.6 455.4L180.6 457.0L182.1 459.0L181.6 459.5L180.1 457.8L179.1 457.5L178.5 455.9L178.2 453.4ZM180.1 468.5L181.6 466.0L183.5 463.9L184.5 466.9L184.2 469.3L183.5 470.5L182.1 469.3L181.6 467.7ZM180.1 462.8L181.1 461.1L182.5 459.5L183.5 461.9L183.0 463.6L181.6 464.4L180.6 464.4ZM175.4 466.2L176.7 464.7L177.7 461.4L177.2 463.3L176.2 465.6ZM188.9 423.9L190.8 421.7L193.2 421.6L194.4 419.6L195.0 418.4L196.2 418.8L197.1 416.8L197.6 414.3L197.6 412.4L199.0 412.0L199.6 415.2L198.6 417.6L198.5 420.1L198.1 422.0L197.4 422.5L196.6 422.5L196.2 423.2L194.7 423.2L194.5 423.7L193.5 425.0L192.8 423.7L192.4 424.5L191.3 425.5L190.8 426.3L190.2 425.2L189.8 425.8L189.2 428.5L188.5 428.9L188.1 427.1L187.6 425.5L188.4 424.3ZM197.6 411.9L197.9 409.1L199.1 408.9L199.3 405.5L200.5 407.3L202.8 407.4L203.0 409.1L201.5 409.6L200.7 411.1L199.1 410.1L198.4 410.2L198.6 411.5ZM199.6 404.5L201.0 403.7L200.5 399.6L202.0 399.2L200.7 394.6L200.8 392.2L200.3 390.9L199.6 392.2L199.4 394.6L199.6 397.9L199.6 401.2ZM221.9 381.5L220.9 382.3L219.5 384.0L220.0 385.3L218.8 387.2L219.0 389.7L217.1 391.4L215.4 394.1L213.8 396.3L213.2 393.8L212.9 389.7L213.7 386.4L214.1 384.8L216.1 383.1L217.1 381.5ZM178.4 443.1L179.1 443.9L180.0 439.0L179.1 438.6L178.4 441.4ZM167.2 448.5L168.4 447.0L169.4 447.8L168.4 450.0L167.5 450.0ZM139.1 466.9L139.5 464.1L140.5 466.0L141.0 468.5L140.2 470.0L139.4 470.0ZM109.4 499.7L110.6 505.4L109.6 507.9L107.7 520.7L105.2 521.9L103.8 517.8L104.6 512.8L104.3 507.9L106.2 505.9L108.2 502.2ZM173.8 493.5L177.2 493.5L181.1 493.5L183.0 493.3L185.0 493.6L182.1 496.7L178.2 496.3L175.2 494.8ZM185.5 481.3L185.9 476.7L186.8 478.4L186.4 481.3ZM184.0 485.3L185.9 484.8L188.6 485.4L187.4 486.2L184.5 486.2ZM205.9 489.2L207.3 488.5L209.5 487.1L209.3 489.0L207.3 490.3ZM213.2 491.5L215.1 492.5L217.5 495.1L218.8 497.2L217.1 496.4L214.6 494.0ZM220.9 513.2L222.4 514.5L223.9 516.6L222.9 516.4L221.1 514.1ZM233.9 508.6L235.1 508.6L235.1 510.0L233.9 510.0ZM259.8 448.5L260.9 447.0L261.0 448.2L260.1 449.0ZM203.4 406.9L205.4 405.6L207.8 404.0L209.3 402.3L208.8 402.3L206.8 404.5L204.4 406.1ZM243.3 393.3L246.2 394.0L249.1 392.7L252.1 391.0L251.9 390.4L248.2 392.0L244.3 392.7ZM113.4 459.6L114.5 459.3L114.4 460.0ZM223.5 504.6L224.2 505.4L225.1 508.7L224.4 507.1ZM151.6 457.8L151.9 461.1L151.5 462.6L151.3 460.3Z" fill="#fff" stroke="#000" stroke-width="2.9" stroke-linejoin="round"/><path d="M66.4 381.5L199.6 381.5L199.6 382.3L195.7 388.1L195.2 391.4L198.6 393.0L198.1 400.4L195.7 404.5L192.8 408.6L188.9 410.2L187.4 413.5L185.5 415.2L187.2 419.3L187.1 422.2L184.5 423.4L184.5 419.3L183.0 416.8L180.1 413.5L179.1 416.0L176.2 416.0L177.2 418.4L180.6 418.8L178.2 420.9L177.7 422.5L178.7 425.8L180.1 429.1L179.6 432.4L178.2 436.5L176.2 439.8L174.8 442.2L172.3 443.4L169.4 445.0L168.4 446.7L168.0 444.7L166.5 444.7L165.0 446.3L164.4 448.8L165.5 452.1L167.5 454.6L167.8 459.5L166.5 462.3L165.0 463.6L163.6 465.7L163.6 463.6L162.1 462.4L161.2 460.3L159.7 459.0L159.2 457.8L158.7 460.3L158.2 463.6L159.0 466.9L160.2 468.8L161.6 471.8L162.1 475.1L162.6 477.5L161.6 477.5L160.0 475.4L159.2 472.6L159.0 470.1L158.2 467.7L157.1 466.4L157.3 463.6L157.3 460.3L156.5 455.4L156.3 452.9L154.8 452.4L153.4 453.7L153.2 450.4L152.4 447.2L150.9 444.7L150.5 442.7L149.0 443.9L147.5 444.4L146.1 445.5L145.6 447.2L144.1 448.3L142.2 451.3L140.7 453.7L139.5 455.4L139.4 458.7L139.1 463.1L138.3 464.7L137.5 465.4L136.8 466.7L135.9 464.4L134.9 460.8L134.2 458.7L133.7 455.4L133.0 452.9L132.5 449.6L132.3 447.2L132.2 445.0L131.8 445.5L130.5 445.9L129.6 445.0L128.6 443.4L129.6 442.2L128.1 441.1L126.9 439.8L126.3 438.5L124.2 438.6L121.3 438.8L118.9 438.3L117.2 437.8L116.4 439.8L117.4 440.9L118.7 441.4L119.6 443.1L118.7 446.3L117.7 448.8L116.9 450.6L115.2 451.3L112.2 454.4L109.1 457.0L105.2 459.0L103.8 459.2L103.6 461.1L104.8 462.8L107.2 461.6L109.1 461.4L111.3 460.3L111.3 462.8L110.3 466.0L109.1 470.1L107.7 473.4L105.2 476.7L102.8 480.8L101.4 483.3L100.4 485.7L99.6 488.2L99.4 490.7L99.9 493.1L100.1 496.4L100.9 498.1L100.9 503.8L99.9 507.1L97.5 509.2L96.0 512.0L95.5 514.5L96.0 518.6L94.1 521.5L93.4 522.7L93.4 526.0L92.1 528.4L91.0 530.9L89.2 533.8L87.8 535.3L86.5 535.8L83.4 536.1L80.9 537.1L79.4 536.1L79.2 533.4L78.3 530.1L77.5 526.8L76.3 524.3L75.6 517.8L74.1 512.8L73.0 508.7L73.5 503.8L74.6 500.5L74.6 496.4L73.9 493.1L73.4 489.9L73.2 488.2L71.2 484.9L70.2 481.6L70.7 478.4L70.9 475.1L70.5 473.4L69.8 472.6L68.3 472.8L67.3 472.9L66.4 471.0L65.7 469.7L63.9 469.7L62.5 470.5L59.6 471.8L57.6 471.5L54.2 472.8L52.8 471.8L50.8 469.0L49.3 467.7L48.6 465.2L47.1 462.3L45.3 460.3L45.2 457.8L44.5 455.9L45.5 453.7L45.7 450.4L45.8 448.0L45.0 445.5L45.9 441.4L47.1 438.1L48.9 434.5L50.8 432.7L52.0 430.8L52.2 428.3L53.2 425.3L54.9 424.2L55.8 421.2L56.3 421.1L57.1 422.2L58.7 422.2L59.6 422.4L61.5 421.2L63.0 420.1L64.4 419.6L66.4 419.6L68.3 419.3L70.2 418.9L71.4 418.9L72.2 419.3L71.7 420.9L72.0 422.5L71.4 423.9L72.2 425.0L73.7 426.2L76.1 427.0L76.6 428.3L78.5 429.4L80.5 429.9L80.9 428.3L80.9 426.6L82.4 426.0L83.9 426.5L85.8 427.8L87.8 428.8L89.7 429.3L91.6 428.3L92.9 428.8L94.6 428.6L95.2 427.5L95.5 425.8L96.2 423.4L96.4 420.9L96.7 419.8L95.0 419.8L93.6 420.7L91.6 419.6L90.7 420.4L89.2 419.8L88.0 419.3L87.3 416.8L87.6 415.2L87.0 414.0L86.8 413.0L84.8 413.0L84.3 414.3L83.6 413.7L83.6 415.5L84.3 417.1L84.8 418.1L83.9 418.4L84.1 420.1L83.3 420.1L82.6 419.6L82.1 417.9L81.9 416.8L81.1 415.2L80.4 413.5L80.5 411.4L79.5 410.2L77.5 408.6L76.1 406.9L75.4 405.6L74.7 406.0L74.8 405.0L73.5 405.6L73.5 407.3L74.6 408.4L75.3 410.4L77.1 411.2L79.4 414.0L79.4 414.7L78.0 413.5L77.6 414.8L78.1 416.0L77.1 417.6L76.8 417.1L77.2 416.0L76.6 414.2L75.4 413.0L74.1 412.2L72.9 410.7L71.7 409.4L71.4 407.9L70.1 407.1L68.8 408.1L67.3 409.2L65.9 408.8L64.6 409.1L64.5 410.4L64.6 411.2L63.6 412.2L62.4 413.0L61.5 414.3L61.2 415.2L61.7 416.5L60.8 418.1L59.6 419.6L57.1 419.8L56.2 420.7L55.4 419.8L54.7 418.9L52.8 419.3L52.9 416.8L52.3 416.3L52.9 413.5L52.9 411.1L52.5 409.4L53.7 408.3L56.2 408.4L58.1 408.8L59.8 408.8L60.3 406.9L60.4 404.5L59.6 402.8L57.1 401.5L56.8 400.4L58.6 399.9L59.9 400.1L59.8 398.4L60.3 398.9L61.6 398.7L63.0 397.6L63.1 396.4L64.4 395.8L65.4 394.6L66.1 393.0L67.8 392.2L69.8 391.8L70.0 389.7L69.4 388.1L69.5 386.4L70.7 386.1L71.7 385.3L73.0 385.6L72.4 383.1L71.7 382.6L70.7 383.5L69.3 384.8L68.0 384.8L66.8 383.5L66.4 381.5ZM416.4 381.5L549.6 381.5L549.6 382.3L545.7 388.1L545.2 391.4L548.6 393.0L548.1 400.4L545.7 404.5L542.8 408.6L538.9 410.2L537.4 413.5L535.5 415.2L537.2 419.3L537.1 422.2L534.5 423.4L534.5 419.3L533.0 416.8L530.1 413.5L529.1 416.0L526.2 416.0L527.2 418.4L530.6 418.8L528.2 420.9L527.7 422.5L528.7 425.8L530.1 429.1L529.6 432.4L528.2 436.5L526.2 439.8L524.8 442.2L522.3 443.4L519.4 445.0L518.4 446.7L518.0 444.7L516.5 444.7L515.0 446.3L514.4 448.8L515.5 452.1L517.5 454.6L517.8 459.5L516.5 462.3L515.0 463.6L513.6 465.7L513.6 463.6L512.1 462.4L511.2 460.3L509.7 459.0L509.2 457.8L508.7 460.3L508.2 463.6L509.0 466.9L510.2 468.8L511.6 471.8L512.1 475.1L512.6 477.5L511.6 477.5L510.0 475.4L509.2 472.6L509.0 470.1L508.2 467.7L507.1 466.4L507.3 463.6L507.3 460.3L506.5 455.4L506.3 452.9L504.8 452.4L503.4 453.7L503.2 450.4L502.4 447.2L500.9 444.7L500.5 442.7L499.0 443.9L497.5 444.4L496.1 445.5L495.6 447.2L494.1 448.3L492.2 451.3L490.7 453.7L489.5 455.4L489.4 458.7L489.1 463.1L488.3 464.7L487.5 465.4L486.8 466.7L485.9 464.4L484.9 460.8L484.2 458.7L483.7 455.4L483.0 452.9L482.5 449.6L482.3 447.2L482.2 445.0L481.8 445.5L480.5 445.9L479.6 445.0L478.6 443.4L479.6 442.2L478.1 441.1L476.9 439.8L476.3 438.5L474.2 438.6L471.3 438.8L468.9 438.3L467.2 437.8L466.4 439.8L467.4 440.9L468.7 441.4L469.6 443.1L468.7 446.3L467.7 448.8L466.9 450.6L465.2 451.3L462.2 454.4L459.1 457.0L455.2 459.0L453.8 459.2L453.6 461.1L454.8 462.8L457.2 461.6L459.1 461.4L461.3 460.3L461.3 462.8L460.3 466.0L459.1 470.1L457.7 473.4L455.2 476.7L452.8 480.8L451.4 483.3L450.4 485.7L449.6 488.2L449.4 490.7L449.9 493.1L450.1 496.4L450.9 498.1L450.9 503.8L449.9 507.1L447.5 509.2L446.0 512.0L445.5 514.5L446.0 518.6L444.1 521.5L443.4 522.7L443.4 526.0L442.1 528.4L441.0 530.9L439.2 533.8L437.8 535.3L436.5 535.8L433.4 536.1L430.9 537.1L429.4 536.1L429.2 533.4L428.3 530.1L427.5 526.8L426.3 524.3L425.6 517.8L424.1 512.8L423.0 508.7L423.5 503.8L424.6 500.5L424.6 496.4L423.9 493.1L423.4 489.9L423.2 488.2L421.2 484.9L420.2 481.6L420.7 478.4L420.9 475.1L420.5 473.4L419.8 472.6L418.3 472.8L417.3 472.9L416.4 471.0L415.7 469.7L413.9 469.7L412.5 470.5L409.6 471.8L407.6 471.5L404.2 472.8L402.8 471.8L400.8 469.0L399.3 467.7L398.6 465.2L397.1 462.3L395.3 460.3L395.2 457.8L394.5 455.9L395.5 453.7L395.7 450.4L395.8 448.0L395.0 445.5L395.9 441.4L397.1 438.1L398.9 434.5L400.8 432.7L402.0 430.8L402.2 428.3L403.2 425.3L404.9 424.2L405.8 421.2L406.3 421.1L407.1 422.2L408.7 422.2L409.6 422.4L411.5 421.2L413.0 420.1L414.4 419.6L416.4 419.6L418.3 419.3L420.2 418.9L421.4 418.9L422.2 419.3L421.7 420.9L422.0 422.5L421.4 423.9L422.2 425.0L423.7 426.2L426.1 427.0L426.6 428.3L428.5 429.4L430.5 429.9L430.9 428.3L430.9 426.6L432.4 426.0L433.9 426.5L435.8 427.8L437.8 428.8L439.7 429.3L441.6 428.3L442.9 428.8L444.6 428.6L445.2 427.5L445.5 425.8L446.2 423.4L446.4 420.9L446.7 419.8L445.0 419.8L443.6 420.7L441.6 419.6L440.7 420.4L439.2 419.8L438.0 419.3L437.3 416.8L437.6 415.2L437.0 414.0L436.8 413.0L434.8 413.0L434.3 414.3L433.6 413.7L433.6 415.5L434.3 417.1L434.8 418.1L433.9 418.4L434.1 420.1L433.3 420.1L432.6 419.6L432.1 417.9L431.9 416.8L431.1 415.2L430.4 413.5L430.5 411.4L429.5 410.2L427.5 408.6L426.1 406.9L425.4 405.6L424.7 406.0L424.8 405.0L423.5 405.6L423.5 407.3L424.6 408.4L425.3 410.4L427.1 411.2L429.4 414.0L429.4 414.7L428.0 413.5L427.6 414.8L428.1 416.0L427.1 417.6L426.8 417.1L427.2 416.0L426.6 414.2L425.4 413.0L424.1 412.2L422.9 410.7L421.7 409.4L421.4 407.9L420.1 407.1L418.8 408.1L417.3 409.2L415.9 408.8L414.6 409.1L414.5 410.4L414.6 411.2L413.6 412.2L412.4 413.0L411.5 414.3L411.2 415.2L411.7 416.5L410.8 418.1L409.6 419.6L407.1 419.8L406.3 420.7L405.4 419.8L404.7 418.9L402.8 419.3L402.9 416.8L402.3 416.3L402.9 413.5L402.9 411.1L402.5 409.4L403.7 408.3L406.2 408.4L408.1 408.8L409.8 408.8L410.3 406.9L410.4 404.5L409.6 402.8L407.1 401.5L406.8 400.4L408.6 399.9L409.9 400.1L409.8 398.4L410.3 398.9L411.6 398.7L413.0 397.6L413.1 396.4L414.4 395.8L415.4 394.6L416.1 393.0L417.8 392.2L419.8 391.8L420.0 389.7L419.4 388.1L419.5 386.4L420.7 386.1L421.7 385.3L423.0 385.6L422.4 383.1L421.7 382.6L420.7 383.5L419.3 384.8L418.0 384.8L416.8 383.5L416.4 381.5ZM51.3 395.5L51.8 390.5L53.7 388.9L55.7 384.0L58.6 383.1L60.0 385.6L59.6 388.1L61.5 392.2L63.2 393.3L63.0 396.3L56.2 397.9ZM401.3 395.5L401.8 390.5L403.7 388.9L405.7 384.0L408.6 383.1L410.0 385.6L409.6 388.1L411.5 392.2L413.2 393.3L413.0 396.3L406.2 397.9ZM56.0 397.8L58.1 397.4L60.5 396.8L62.8 396.1L62.9 395.6L62.2 395.5L63.2 393.5L61.8 393.0L61.7 392.2L61.3 391.0L60.0 389.7L59.6 388.1L58.4 388.1L59.6 385.4L57.6 385.3L58.6 383.8L56.6 383.8L55.9 385.6L56.2 387.7L56.8 388.9L56.6 390.0L58.1 389.9L58.6 391.5L58.4 392.5L57.1 392.5L57.4 393.8L56.4 395.0L58.1 395.5L58.6 395.9L57.3 396.1ZM406.0 397.8L408.1 397.4L410.5 396.8L412.8 396.1L412.9 395.6L412.2 395.5L413.2 393.5L411.8 393.0L411.7 392.2L411.3 391.0L410.0 389.7L409.6 388.1L408.4 388.1L409.6 385.4L407.6 385.3L408.6 383.8L406.6 383.8L405.9 385.6L406.2 387.7L406.8 388.9L406.6 390.0L408.1 389.9L408.6 391.5L408.4 392.5L407.1 392.5L407.4 393.8L406.4 395.0L408.1 395.5L408.6 395.9L407.3 396.1ZM405.7 394.3L405.5 392.2L406.1 390.4L405.2 389.4L403.5 389.5L403.2 390.9L401.8 391.4L402.3 392.7L402.3 393.8L401.5 394.6L402.0 395.5L403.7 395.1ZM251.1 381.5L254.0 383.6L257.9 383.6L258.4 385.6L255.9 388.1L253.0 389.7L254.0 389.9L257.4 388.1L259.8 386.1L261.8 384.5L262.3 382.6L263.7 381.5L264.2 382.6L266.2 381.8L267.6 381.5L269.6 381.5L271.5 381.5L274.4 381.8L275.9 382.3L277.8 384.0L279.3 385.1L280.2 387.2L281.7 388.9L283.7 390.5L285.1 391.4L286.1 393.8L287.2 395.5L287.5 397.1L290.0 400.4L290.3 400.5L290.9 404.0L290.9 407.8L290.6 410.2L290.8 413.7L291.2 416.0L292.4 417.9L293.0 419.9L294.2 423.2L296.3 424.2L297.6 426.5L298.5 429.4L299.7 431.6L300.2 434.0L300.7 435.3L302.1 437.3L302.6 439.5L304.6 442.2L305.0 441.4L304.1 439.8L303.1 436.5L301.6 433.2L300.2 430.8L300.0 428.3L301.6 429.1L302.1 431.6L303.6 434.0L305.0 436.5L306.5 439.0L308.0 441.4L308.9 444.7L308.9 447.2L310.4 448.8L312.3 450.4L314.3 452.1L316.7 453.7L319.1 453.4L320.6 454.6L322.1 456.2L324.0 457.5L326.2 458.7L326.4 459.5L327.9 461.1L328.2 463.6L329.3 464.4L330.3 466.0L331.3 466.5L332.8 467.7L333.4 466.4L334.2 465.2L335.2 466.4L336.2 468.5L336.2 471.8L336.6 473.4L335.2 476.7L334.7 478.4L333.5 480.0L332.9 481.6L333.2 484.1L333.7 485.7L332.6 487.4L332.8 489.9L333.9 492.3L335.2 495.6L336.6 499.7L337.6 503.0L339.6 506.3L342.0 508.7L343.2 510.4L343.2 514.5L343.0 519.4L342.5 524.3L342.0 529.2L341.8 534.2L340.5 540.7L340.0 545.7L339.6 550.6L339.1 555.5L338.1 558.8L338.6 563.7L339.6 567.0L342.5 568.6L343.4 570.6L346.4 571.4L348.3 570.0L345.9 568.3L344.9 566.2L344.4 563.7L345.9 560.4L347.5 558.0L345.9 555.5L347.8 553.9L348.3 550.6L349.3 549.8L348.3 547.3L350.7 546.5L351.2 544.0L354.1 543.2L356.1 540.7L355.9 538.3L354.6 536.3L357.1 537.3L359.0 536.3L360.9 533.4L362.4 530.1L364.2 526.5L364.3 522.7L365.8 520.2L368.2 518.1L370.7 517.8L371.6 516.1L372.6 512.8L373.6 509.6L373.6 504.6L374.1 501.3L375.5 498.1L377.5 494.8L377.7 491.5L377.3 488.7L375.5 487.9L373.1 484.9L370.7 484.6L368.2 484.1L366.8 481.6L364.8 481.1L362.9 480.0L361.9 476.7L361.4 472.9L360.0 471.0L357.5 470.1L355.6 469.7L354.1 466.9L352.2 466.0L351.2 463.6L349.3 462.8L347.3 462.8L344.9 461.6L343.4 460.3L342.0 461.9L341.0 461.1L339.1 461.9L338.1 462.8L337.1 465.2L336.2 465.7L334.7 464.4L333.2 465.2L331.8 465.2L330.3 462.8L330.1 460.3L330.6 456.2L329.8 454.1L327.9 453.9L325.9 454.1L325.5 452.1L325.9 449.6L326.4 447.2L326.9 444.7L325.5 444.7L323.7 445.5L323.2 448.0L322.1 449.3L319.6 450.1L318.2 448.8L316.9 446.3L316.4 443.1L316.7 439.0L317.0 435.7L318.2 433.2L319.6 431.6L322.1 431.4L324.0 432.1L324.8 432.1L324.5 430.4L325.9 430.3L327.9 430.3L329.3 431.1L330.8 432.4L331.1 434.9L332.0 437.3L332.8 438.6L333.4 438.5L333.7 435.7L333.0 432.4L332.4 429.9L332.8 427.5L334.2 425.8L335.7 424.2L337.1 423.0L337.9 421.7L337.6 419.3L338.1 417.6L339.1 415.5L339.6 413.5L341.5 412.7L343.4 411.5L342.8 410.2L343.2 408.3L344.9 407.3L346.4 406.5L347.3 408.3L347.8 408.6L349.8 406.8L352.2 405.6L353.2 404.5L353.8 401.9L357.1 403.0L360.0 403.3L360.3 402.0L359.5 400.4L358.0 398.7L357.1 397.6L357.5 395.5L357.3 394.6L357.1 392.2L355.1 390.0L353.2 388.9L351.7 386.4L351.2 384.8L349.8 382.3L348.8 381.5ZM353.8 401.9L357.1 403.0L360.0 403.3L360.3 402.0L359.5 400.4L358.0 398.7L357.1 397.6L357.5 395.5L356.1 396.3L355.1 398.7L354.1 400.4ZM367.3 381.5L368.7 382.0L369.7 381.5ZM328.9 444.2L330.8 442.2L333.2 442.1L336.6 444.7L339.4 446.8L336.2 447.5L335.7 446.0L331.8 444.2ZM339.2 449.8L341.0 447.3L343.4 447.5L345.0 449.5L342.5 450.8L340.5 450.1ZM171.8 516.1L172.3 522.7L173.3 529.2L173.3 535.8L175.7 537.5L177.7 535.8L181.6 535.7L184.0 533.0L186.9 531.9L189.3 531.7L191.8 533.7L193.2 537.1L193.7 537.5L195.2 534.2L195.7 536.6L196.2 538.3L197.1 539.1L198.1 542.4L201.0 543.7L202.5 542.9L203.9 544.0L205.4 542.2L207.3 541.2L207.8 537.5L208.6 535.0L209.8 532.5L210.2 529.2L210.7 526.0L210.2 521.9L208.8 519.4L207.8 516.9L206.4 514.5L205.4 512.8L203.7 511.2L203.3 507.9L202.8 504.6L201.5 503.5L201.0 501.3L200.0 497.7L199.3 501.3L199.1 505.4L198.1 508.7L196.6 507.9L195.2 506.3L193.7 505.4L193.2 503.8L194.5 500.0L192.8 499.7L190.3 498.9L188.9 500.0L187.9 502.2L187.4 504.6L185.9 504.6L185.0 503.0L183.5 503.8L182.5 507.1L181.1 507.9L180.3 509.6L179.1 512.0L177.2 512.8L175.2 514.0L173.8 515.3L172.3 516.1ZM202.2 547.0L205.6 547.0L205.7 549.0L204.9 551.4L203.4 551.4L202.7 549.3ZM229.4 536.6L231.0 538.0L231.4 540.4L232.6 541.7L235.0 541.9L234.4 544.4L233.5 545.7L231.9 548.3L231.4 547.8L231.6 545.7L230.5 544.7L231.3 542.4L231.3 540.7L230.2 538.3ZM229.4 546.5L231.0 548.5L229.7 550.6L229.5 551.9L227.9 553.1L227.5 555.4L225.8 556.5L224.3 555.8L223.4 555.2L225.1 552.2L227.3 550.6L228.2 548.6ZM188.9 481.3L191.8 481.3L192.8 485.4L195.2 482.8L198.6 484.3L202.0 486.2L203.4 489.0L205.2 490.2L204.6 492.0L205.9 494.8L207.8 497.2L205.4 496.7L203.4 493.6L201.5 492.6L200.5 495.1L198.6 494.9L196.6 493.1L195.7 493.6L196.4 491.2L195.7 489.0L192.8 487.2L190.8 486.6L190.6 484.6L191.8 483.8L189.8 483.6L188.9 482.1ZM167.5 477.5L168.0 476.7L169.4 477.2L171.4 474.7L173.3 471.8L175.1 468.5L175.7 470.1L177.2 471.3L176.2 472.9L175.9 475.1L176.2 478.4L175.7 480.0L174.8 482.5L174.3 485.7L172.8 486.6L171.4 485.4L169.9 485.4L168.4 483.3L167.5 480.8ZM154.2 470.8L156.3 471.5L157.8 473.9L159.2 476.4L160.7 478.4L162.1 481.1L163.1 483.3L164.6 484.9L164.4 489.5L163.1 489.4L161.2 486.9L159.7 484.4L158.7 481.6L157.6 477.5L156.3 475.4L154.8 473.4ZM163.8 491.2L165.0 489.9L167.0 491.0L169.2 490.7L171.1 491.5L172.8 492.8L172.6 494.3L169.4 493.6L167.0 492.8L165.0 492.1ZM177.2 480.8L178.2 478.7L179.1 478.0L181.1 478.5L183.0 477.4L182.5 479.3L180.6 479.3L178.7 479.5L178.2 481.3L179.6 481.5L181.4 481.3L179.8 483.3L180.9 486.6L180.4 487.9L179.6 487.4L179.1 484.9L178.5 485.7L178.5 489.0L177.7 489.0L177.7 485.7L177.0 484.1L177.5 481.6ZM178.7 449.6L180.3 449.8L180.1 452.9L179.6 455.4L180.6 457.0L182.1 459.0L181.6 459.5L180.1 457.8L179.1 457.5L178.5 455.9L178.2 453.4ZM180.1 468.5L181.6 466.0L183.5 463.9L184.5 466.9L184.2 469.3L183.5 470.5L182.1 469.3L181.6 467.7ZM180.1 462.8L181.1 461.1L182.5 459.5L183.5 461.9L183.0 463.6L181.6 464.4L180.6 464.4ZM175.4 466.2L176.7 464.7L177.7 461.4L177.2 463.3L176.2 465.6ZM188.9 423.9L190.8 421.7L193.2 421.6L194.4 419.6L195.0 418.4L196.2 418.8L197.1 416.8L197.6 414.3L197.6 412.4L199.0 412.0L199.6 415.2L198.6 417.6L198.5 420.1L198.1 422.0L197.4 422.5L196.6 422.5L196.2 423.2L194.7 423.2L194.5 423.7L193.5 425.0L192.8 423.7L192.4 424.5L191.3 425.5L190.8 426.3L190.2 425.2L189.8 425.8L189.2 428.5L188.5 428.9L188.1 427.1L187.6 425.5L188.4 424.3ZM197.6 411.9L197.9 409.1L199.1 408.9L199.3 405.5L200.5 407.3L202.8 407.4L203.0 409.1L201.5 409.6L200.7 411.1L199.1 410.1L198.4 410.2L198.6 411.5ZM199.6 404.5L201.0 403.7L200.5 399.6L202.0 399.2L200.7 394.6L200.8 392.2L200.3 390.9L199.6 392.2L199.4 394.6L199.6 397.9L199.6 401.2ZM221.9 381.5L220.9 382.3L219.5 384.0L220.0 385.3L218.8 387.2L219.0 389.7L217.1 391.4L215.4 394.1L213.8 396.3L213.2 393.8L212.9 389.7L213.7 386.4L214.1 384.8L216.1 383.1L217.1 381.5ZM178.4 443.1L179.1 443.9L180.0 439.0L179.1 438.6L178.4 441.4ZM167.2 448.5L168.4 447.0L169.4 447.8L168.4 450.0L167.5 450.0ZM139.1 466.9L139.5 464.1L140.5 466.0L141.0 468.5L140.2 470.0L139.4 470.0ZM109.4 499.7L110.6 505.4L109.6 507.9L107.7 520.7L105.2 521.9L103.8 517.8L104.6 512.8L104.3 507.9L106.2 505.9L108.2 502.2ZM173.8 493.5L177.2 493.5L181.1 493.5L183.0 493.3L185.0 493.6L182.1 496.7L178.2 496.3L175.2 494.8ZM185.5 481.3L185.9 476.7L186.8 478.4L186.4 481.3ZM184.0 485.3L185.9 484.8L188.6 485.4L187.4 486.2L184.5 486.2ZM205.9 489.2L207.3 488.5L209.5 487.1L209.3 489.0L207.3 490.3ZM213.2 491.5L215.1 492.5L217.5 495.1L218.8 497.2L217.1 496.4L214.6 494.0ZM220.9 513.2L222.4 514.5L223.9 516.6L222.9 516.4L221.1 514.1ZM233.9 508.6L235.1 508.6L235.1 510.0L233.9 510.0ZM259.8 448.5L260.9 447.0L261.0 448.2L260.1 449.0ZM203.4 406.9L205.4 405.6L207.8 404.0L209.3 402.3L208.8 402.3L206.8 404.5L204.4 406.1ZM243.3 393.3L246.2 394.0L249.1 392.7L252.1 391.0L251.9 390.4L248.2 392.0L244.3 392.7ZM113.4 459.6L114.5 459.3L114.4 460.0ZM223.5 504.6L224.2 505.4L225.1 508.7L224.4 507.1ZM151.6 457.8L151.9 461.1L151.5 462.6L151.3 460.3Z" fill="#fff" stroke="#fff" stroke-width="0.8" stroke-linejoin="round"/><path d="M103.8 459.2L103.3 457.8L103.0 454.6L102.6 452.1L101.4 448.8L99.6 444.7L98.9 441.4L97.7 439.0L96.0 434.4L95.5 431.6L94.8 434.0L94.1 433.5L93.2 430.9L93.1 432.4L94.1 434.9L95.0 437.8L96.1 440.6L97.4 443.9L97.7 445.9L97.8 448.8L98.9 450.4L99.8 454.1L101.2 455.7L102.8 458.7L103.6 460.3ZM116.2 437.0L116.7 435.7L114.5 436.3L112.5 434.9L111.1 433.2L110.4 430.8L108.9 430.3L108.2 431.6L108.8 434.0L110.1 436.2L110.3 438.1L111.1 437.3L111.7 439.0L111.4 440.1L112.5 440.3L114.0 440.3L115.3 438.5ZM88.7 411.9L88.7 408.6L89.7 406.1L91.2 404.0L92.6 404.0L94.1 404.5L93.6 406.1L94.6 407.1L96.0 406.1L97.0 405.6L98.4 403.7L99.4 402.8L98.4 404.5L97.5 406.1L98.9 407.3L100.4 408.9L101.8 410.2L101.8 411.9L100.4 412.7L98.4 412.7L96.5 411.9L95.5 411.1L93.6 411.1L92.1 412.4L90.2 412.5ZM71.7 385.3L71.6 387.2L71.0 388.9L72.0 391.4L73.2 391.0L75.1 391.4L77.5 390.5L79.5 390.0L80.8 390.5L81.9 388.9L81.9 386.4L83.4 385.3L84.8 386.1L85.1 384.3L84.3 383.1L85.8 382.3L88.7 382.2L90.2 381.5L83.9 381.5L83.4 381.7L82.2 381.5L78.5 381.5L79.5 382.6L77.7 384.0L77.5 387.2L76.6 388.1L75.4 388.9L74.1 389.1L73.7 387.6L73.0 385.6Z" fill="#fff" stroke="#000" stroke-width="1" stroke-linejoin="round"/><path d="M319.3 381.5L319.6 383.1L321.1 383.6L321.6 386.4L324.0 386.4L325.9 387.2L328.4 388.9L331.3 389.4L331.8 393.0L333.2 395.8L334.7 395.5L334.7 391.4L336.6 388.1L336.9 385.6L335.2 383.5L336.2 381.5Z" fill="#aebcc4" stroke="#000" stroke-width="1" stroke-linejoin="round"/>
<path d="M64.4 408.2L69.9 407.3L71.7 411.9L76.3 412.8L74.5 416.4L79 418.3L82.7 416.4L85.4 419.2" fill="none" stroke="#000" stroke-width="1.1"/><path d="M72.6 404.5L79 409.1L80 413.7" fill="none" stroke="#000" stroke-width="1.1"/><path d="M66.2 410L69 412.8L67.1 415.5" fill="none" stroke="#000" stroke-width="1.1"/><path d="M76.3 414.6L80.9 415.5L81.8 419.2L85.4 421" fill="none" stroke="#000" stroke-width="1.1"/><path d="M83.6 412.8L86.4 414.6L85.4 418.3" fill="none" stroke="#000" stroke-width="1.1"/>
<rect x="409.6" y="381.5" width="1.9" height="197.0" fill="#fff"/>
</g>
<path d="M119.5 578.5v-2.7M119.5 381.5v2.7M178.5 578.5v-2.7M178.5 381.5v2.7M236.5 578.5v-2.7M236.5 381.5v2.7M294.5 578.5v-2.7M294.5 381.5v2.7M353.5 578.5v-2.7M353.5 381.5v2.7M61.5 430.5h2.7M411.5 430.5h-2.7M61.5 480.5h2.7M411.5 480.5h-2.7M61.5 529.5h2.7M411.5 529.5h-2.7" stroke="#262626" stroke-width="1" fill="none"/>
<rect x="61.5" y="381.5" width="350.0" height="197.0" fill="none" stroke="#262626" stroke-width="1"/>
<text x="53.0" y="387.1" font-size="15.3" text-anchor="end" fill="#262626" textLength="38.02" lengthAdjust="spacingAndGlyphs">60N</text>
<text x="53.0" y="436.35" font-size="15.3" text-anchor="end" fill="#262626" textLength="38.02" lengthAdjust="spacingAndGlyphs">30N</text>
<text x="53.0" y="485.6" font-size="15.3" text-anchor="end" fill="#262626" textLength="26.15" lengthAdjust="spacingAndGlyphs">0N</text>
<text x="53.0" y="534.85" font-size="15.3" text-anchor="end" fill="#262626" textLength="36.03" lengthAdjust="spacingAndGlyphs">30S</text>
<text x="53.0" y="584.1" font-size="15.3" text-anchor="end" fill="#262626" textLength="36.03" lengthAdjust="spacingAndGlyphs">60S</text>
<text x="61.5" y="600.5" font-size="15.0" text-anchor="middle" fill="#262626" textLength="23.06" lengthAdjust="spacingAndGlyphs">0E</text>
<text x="119.83333333333334" y="600.5" font-size="15.0" text-anchor="middle" fill="#262626" textLength="34.7" lengthAdjust="spacingAndGlyphs">60E</text>
<text x="178.16666666666669" y="600.5" font-size="15.0" text-anchor="middle" fill="#262626" textLength="46.34" lengthAdjust="spacingAndGlyphs">120E</text>
<text x="236.5" y="600.5" font-size="15.0" text-anchor="middle" fill="#262626" textLength="46.34" lengthAdjust="spacingAndGlyphs">180E</text>
<text x="294.83333333333337" y="600.5" font-size="15.0" text-anchor="middle" fill="#262626" textLength="53.36" lengthAdjust="spacingAndGlyphs">120W</text>
<text x="353.1666666666667" y="600.5" font-size="15.0" text-anchor="middle" fill="#262626" textLength="41.72" lengthAdjust="spacingAndGlyphs">60W</text>
<text x="411.5" y="600.5" font-size="15.0" text-anchor="middle" fill="#262626" textLength="23.06" lengthAdjust="spacingAndGlyphs">0E</text>
<text x="236.5" y="374.0" font-size="15.9" text-anchor="middle" fill="#000" textLength="219.4" lengthAdjust="spacingAndGlyphs">Mixed Layer Depth (m)</text>
<rect x="61.5" y="605.5" width="350.0" height="6" fill="url(#cb)" stroke="#000" stroke-width="1"/>
<path d="M149.5 605.5v6M236.5 605.5v6M324.5 605.5v6" stroke="#262626" stroke-width="1"/>
<text x="61.5" y="632.0" font-size="14.3" text-anchor="middle" fill="#262626" textLength="11.09" lengthAdjust="spacingAndGlyphs">0</text>
<text x="149.0" y="632.0" font-size="14.3" text-anchor="middle" fill="#262626" textLength="33.28" lengthAdjust="spacingAndGlyphs">100</text>
<text x="236.5" y="632.0" font-size="14.3" text-anchor="middle" fill="#262626" textLength="33.28" lengthAdjust="spacingAndGlyphs">200</text>
<text x="324.0" y="632.0" font-size="14.3" text-anchor="middle" fill="#262626" textLength="33.28" lengthAdjust="spacingAndGlyphs">300</text>
<text x="411.5" y="632.0" font-size="14.3" text-anchor="middle" fill="#262626" textLength="33.28" lengthAdjust="spacingAndGlyphs">400</text>
<rect x="481.5" y="381.5" width="350.0" height="197.0" fill="#55556a"/>
<clipPath id="m481"><rect x="481.5" y="381.5" width="350.0" height="197.0"/></clipPath>
<g clip-path="url(#m481)">
<g filter="url(#gb)"><rect x="461.5" y="361.5" width="30.5" height="10.5" fill="#b2cece"/><rect x="491.5" y="361.5" width="110.5" height="10.5" fill="#d5e4e4"/><rect x="601.5" y="361.5" width="40.5" height="10.5" fill="#eaf2f2"/><rect x="641.5" y="361.5" width="20.5" height="10.5" fill="#36364a"/><rect x="661.5" y="361.5" width="10.5" height="10.5" fill="#4e4e6c"/><rect x="671.5" y="361.5" width="10.5" height="10.5" fill="#6b748b"/><rect x="681.5" y="361.5" width="10.5" height="10.5" fill="#4e4e6c"/><rect x="691.5" y="361.5" width="10.5" height="10.5" fill="#1d1d28"/><rect x="701.5" y="361.5" width="10.5" height="10.5" fill="#6b748b"/><rect x="711.5" y="361.5" width="20.5" height="10.5" fill="#d5e4e4"/><rect x="731.5" y="361.5" width="10.5" height="10.5" fill="#eaf2f2"/><rect x="741.5" y="361.5" width="30.5" height="10.5" fill="#d5e4e4"/><rect x="771.5" y="361.5" width="10.5" height="10.5" fill="#36364a"/><rect x="781.5" y="361.5" width="70.5" height="10.5" fill="#09090c"/><rect x="461.5" y="371.5" width="30.5" height="10.5" fill="#b2cece"/><rect x="491.5" y="371.5" width="110.5" height="10.5" fill="#d5e4e4"/><rect x="601.5" y="371.5" width="40.5" height="10.5" fill="#eaf2f2"/><rect x="641.5" y="371.5" width="20.5" height="10.5" fill="#36364a"/><rect x="661.5" y="371.5" width="10.5" height="10.5" fill="#4e4e6c"/><rect x="671.5" y="371.5" width="10.5" height="10.5" fill="#6b748b"/><rect x="681.5" y="371.5" width="10.5" height="10.5" fill="#4e4e6c"/><rect x="691.5" y="371.5" width="10.5" height="10.5" fill="#1d1d28"/><rect x="701.5" y="371.5" width="10.5" height="10.5" fill="#6b748b"/><rect x="711.5" y="371.5" width="20.5" height="10.5" fill="#d5e4e4"/><rect x="731.5" y="371.5" width="10.5" height="10.5" fill="#eaf2f2"/><rect x="741.5" y="371.5" width="30.5" height="10.5" fill="#d5e4e4"/><rect x="771.5" y="371.5" width="10.5" height="10.5" fill="#36364a"/><rect x="781.5" y="371.5" width="70.5" height="10.5" fill="#09090c"/><rect x="461.5" y="381.5" width="30.5" height="10.5" fill="#b2cece"/><rect x="491.5" y="381.5" width="110.5" height="10.5" fill="#d5e4e4"/><rect x="601.5" y="381.5" width="40.5" height="10.5" fill="#eaf2f2"/><rect x="641.5" y="381.5" width="20.5" height="10.5" fill="#36364a"/><rect x="661.5" y="381.5" width="10.5" height="10.5" fill="#4e4e6c"/><rect x="671.5" y="381.5" width="10.5" height="10.5" fill="#6b748b"/><rect x="681.5" y="381.5" width="10.5" height="10.5" fill="#4e4e6c"/><rect x="691.5" y="381.5" width="10.5" height="10.5" fill="#1d1d28"/><rect x="701.5" y="381.5" width="10.5" height="10.5" fill="#6b748b"/><rect x="711.5" y="381.5" width="20.5" height="10.5" fill="#d5e4e4"/><rect x="731.5" y="381.5" width="10.5" height="10.5" fill="#eaf2f2"/><rect x="741.5" y="381.5" width="30.5" height="10.5" fill="#d5e4e4"/><rect x="771.5" y="381.5" width="10.5" height="10.5" fill="#36364a"/><rect x="781.5" y="381.5" width="70.5" height="10.5" fill="#09090c"/><rect x="461.5" y="391.5" width="140.5" height="10.5" fill="#d5e4e4"/><rect x="601.5" y="391.5" width="30.5" height="10.5" fill="#eaf2f2"/><rect x="631.5" y="391.5" width="20.5" height="10.5" fill="#36364a"/><rect x="651.5" y="391.5" width="30.5" height="10.5" fill="#1d1d28"/><rect x="681.5" y="391.5" width="10.5" height="10.5" fill="#36364a"/><rect x="691.5" y="391.5" width="10.5" height="10.5" fill="#1d1d28"/><rect x="701.5" y="391.5" width="10.5" height="10.5" fill="#4e4e6c"/><rect x="711.5" y="391.5" width="60.5" height="10.5" fill="#d5e4e4"/><rect x="771.5" y="391.5" width="10.5" height="10.5" fill="#36364a"/><rect x="781.5" y="391.5" width="70.5" height="10.5" fill="#09090c"/><rect x="461.5" y="401.5" width="140.5" height="10.5" fill="#d5e4e4"/><rect x="601.5" y="401.5" width="20.5" height="10.5" fill="#eaf2f2"/><rect x="621.5" y="401.5" width="70.5" height="10.5" fill="#36364a"/><rect x="691.5" y="401.5" width="10.5" height="10.5" fill="#1d1d28"/><rect x="701.5" y="401.5" width="10.5" height="10.5" fill="#36364a"/><rect x="711.5" y="401.5" width="10.5" height="10.5" fill="#b2cece"/><rect x="721.5" y="401.5" width="50.5" height="10.5" fill="#d5e4e4"/><rect x="771.5" y="401.5" width="50.5" height="10.5" fill="#6b748b"/><rect x="821.5" y="401.5" width="30.5" height="10.5" fill="#d5e4e4"/><rect x="461.5" y="411.5" width="30.5" height="10.5" fill="#d5e4e4"/><rect x="491.5" y="411.5" width="30.5" height="10.5" fill="#4e4e6c"/><rect x="521.5" y="411.5" width="100.5" height="10.5" fill="#d5e4e4"/><rect x="621.5" y="411.5" width="90.5" height="10.5" fill="#36364a"/><rect x="711.5" y="411.5" width="10.5" height="10.5" fill="#b2cece"/><rect x="721.5" y="411.5" width="30.5" height="10.5" fill="#d5e4e4"/><rect x="751.5" y="411.5" width="10.5" height="10.5" fill="#8fa5af"/><rect x="761.5" y="411.5" width="60.5" height="10.5" fill="#6b748b"/><rect x="821.5" y="411.5" width="30.5" height="10.5" fill="#d5e4e4"/><rect x="461.5" y="421.5" width="30.5" height="10.5" fill="#d5e4e4"/><rect x="491.5" y="421.5" width="30.5" height="10.5" fill="#4e4e6c"/><rect x="521.5" y="421.5" width="90.5" height="10.5" fill="#d5e4e4"/><rect x="611.5" y="421.5" width="10.5" height="10.5" fill="#b2cece"/><rect x="621.5" y="421.5" width="80.5" height="10.5" fill="#36364a"/><rect x="701.5" y="421.5" width="10.5" height="10.5" fill="#4e4e6c"/><rect x="711.5" y="421.5" width="10.5" height="10.5" fill="#b2cece"/><rect x="721.5" y="421.5" width="30.5" height="10.5" fill="#d5e4e4"/><rect x="751.5" y="421.5" width="10.5" height="10.5" fill="#6b748b"/><rect x="761.5" y="421.5" width="20.5" height="10.5" fill="#4e4e6c"/><rect x="781.5" y="421.5" width="40.5" height="10.5" fill="#6b748b"/><rect x="821.5" y="421.5" width="30.5" height="10.5" fill="#d5e4e4"/><rect x="461.5" y="431.5" width="140.5" height="10.5" fill="#d5e4e4"/><rect x="601.5" y="431.5" width="10.5" height="10.5" fill="#b2cece"/><rect x="611.5" y="431.5" width="40.5" height="10.5" fill="#8fa5af"/><rect x="651.5" y="431.5" width="10.5" height="10.5" fill="#b2cece"/><rect x="661.5" y="431.5" width="30.5" height="10.5" fill="#8fa5af"/><rect x="691.5" y="431.5" width="20.5" height="10.5" fill="#6b748b"/><rect x="711.5" y="431.5" width="10.5" height="10.5" fill="#8fa5af"/><rect x="721.5" y="431.5" width="10.5" height="10.5" fill="#eaf2f2"/><rect x="731.5" y="431.5" width="20.5" height="10.5" fill="#d5e4e4"/><rect x="751.5" y="431.5" width="10.5" height="10.5" fill="#6b748b"/><rect x="761.5" y="431.5" width="20.5" height="10.5" fill="#4e4e6c"/><rect x="781.5" y="431.5" width="10.5" height="10.5" fill="#1d1d28"/><rect x="791.5" y="431.5" width="10.5" height="10.5" fill="#4e4e6c"/><rect x="801.5" y="431.5" width="10.5" height="10.5" fill="#36364a"/><rect x="811.5" y="431.5" width="10.5" height="10.5" fill="#8fa5af"/><rect x="821.5" y="431.5" width="30.5" height="10.5" fill="#d5e4e4"/><rect x="461.5" y="441.5" width="70.5" height="10.5" fill="#d5e4e4"/><rect x="531.5" y="441.5" width="20.5" height="10.5" fill="#b2cece"/><rect x="551.5" y="441.5" width="20.5" height="10.5" fill="#d5e4e4"/><rect x="571.5" y="441.5" width="10.5" height="10.5" fill="#b2cece"/><rect x="581.5" y="441.5" width="20.5" height="10.5" fill="#d5e4e4"/><rect x="601.5" y="441.5" width="10.5" height="10.5" fill="#b2cece"/><rect x="611.5" y="441.5" width="10.5" height="10.5" fill="#8fa5af"/><rect x="621.5" y="441.5" width="80.5" height="10.5" fill="#6b748b"/><rect x="701.5" y="441.5" width="10.5" height="10.5" fill="#8fa5af"/><rect x="711.5" y="441.5" width="10.5" height="10.5" fill="#b2cece"/><rect x="721.5" y="441.5" width="20.5" height="10.5" fill="#eaf2f2"/><rect x="741.5" y="441.5" width="10.5" height="10.5" fill="#d5e4e4"/><rect x="751.5" y="441.5" width="10.5" height="10.5" fill="#b2cece"/><rect x="761.5" y="441.5" width="10.5" height="10.5" fill="#8fa5af"/><rect x="771.5" y="441.5" width="10.5" height="10.5" fill="#6b748b"/><rect x="781.5" y="441.5" width="10.5" height="10.5" fill="#4e4e6c"/><rect x="791.5" y="441.5" width="10.5" height="10.5" fill="#6b748b"/><rect x="801.5" y="441.5" width="10.5" height="10.5" fill="#8fa5af"/><rect x="811.5" y="441.5" width="10.5" height="10.5" fill="#b2cece"/><rect x="821.5" y="441.5" width="30.5" height="10.5" fill="#d5e4e4"/><rect x="461.5" y="451.5" width="60.5" height="10.5" fill="#d5e4e4"/><rect x="521.5" y="451.5" width="30.5" height="10.5" fill="#b2cece"/><rect x="551.5" y="451.5" width="10.5" height="10.5" fill="#d5e4e4"/><rect x="561.5" y="451.5" width="20.5" height="10.5" fill="#b2cece"/><rect x="581.5" y="451.5" width="20.5" height="10.5" fill="#d5e4e4"/><rect x="601.5" y="451.5" width="10.5" height="10.5" fill="#8fa5af"/><rect x="611.5" y="451.5" width="10.5" height="10.5" fill="#6b748b"/><rect x="621.5" y="451.5" width="10.5" height="10.5" fill="#4e4e6c"/><rect x="631.5" y="451.5" width="10.5" height="10.5" fill="#6b748b"/><rect x="641.5" y="451.5" width="10.5" height="10.5" fill="#4e4e6c"/><rect x="651.5" y="451.5" width="40.5" height="10.5" fill="#6b748b"/><rect x="691.5" y="451.5" width="10.5" height="10.5" fill="#8fa5af"/><rect x="701.5" y="451.5" width="20.5" height="10.5" fill="#b2cece"/><rect x="721.5" y="451.5" width="10.5" height="10.5" fill="#d5e4e4"/><rect x="731.5" y="451.5" width="20.5" height="10.5" fill="#eaf2f2"/><rect x="751.5" y="451.5" width="20.5" height="10.5" fill="#b2cece"/><rect x="771.5" y="451.5" width="10.5" height="10.5" fill="#8fa5af"/><rect x="781.5" y="451.5" width="20.5" height="10.5" fill="#6b748b"/><rect x="801.5" y="451.5" width="10.5" height="10.5" fill="#8fa5af"/><rect x="811.5" y="451.5" width="10.5" height="10.5" fill="#b2cece"/><rect x="821.5" y="451.5" width="30.5" height="10.5" fill="#d5e4e4"/><rect x="461.5" y="461.5" width="60.5" height="10.5" fill="#d5e4e4"/><rect x="521.5" y="461.5" width="30.5" height="10.5" fill="#b2cece"/><rect x="551.5" y="461.5" width="10.5" height="10.5" fill="#d5e4e4"/><rect x="561.5" y="461.5" width="20.5" height="10.5" fill="#b2cece"/><rect x="581.5" y="461.5" width="20.5" height="10.5" fill="#d5e4e4"/><rect x="601.5" y="461.5" width="10.5" height="10.5" fill="#8fa5af"/><rect x="611.5" y="461.5" width="50.5" height="10.5" fill="#6b748b"/><rect x="661.5" y="461.5" width="20.5" height="10.5" fill="#4e4e6c"/><rect x="681.5" y="461.5" width="20.5" height="10.5" fill="#8fa5af"/><rect x="701.5" y="461.5" width="10.5" height="10.5" fill="#b2cece"/><rect x="711.5" y="461.5" width="30.5" height="10.5" fill="#d5e4e4"/><rect x="741.5" y="461.5" width="10.5" height="10.5" fill="#eaf2f2"/><rect x="751.5" y="461.5" width="20.5" height="10.5" fill="#d5e4e4"/><rect x="771.5" y="461.5" width="10.5" height="10.5" fill="#8fa5af"/><rect x="781.5" y="461.5" width="20.5" height="10.5" fill="#4e4e6c"/><rect x="801.5" y="461.5" width="10.5" height="10.5" fill="#8fa5af"/><rect x="811.5" y="461.5" width="10.5" height="10.5" fill="#b2cece"/><rect x="821.5" y="461.5" width="30.5" height="10.5" fill="#d5e4e4"/><rect x="461.5" y="471.5" width="60.5" height="10.5" fill="#d5e4e4"/><rect x="521.5" y="471.5" width="60.5" height="10.5" fill="#b2cece"/><rect x="581.5" y="471.5" width="20.5" height="10.5" fill="#d5e4e4"/><rect x="601.5" y="471.5" width="60.5" height="10.5" fill="#b2cece"/><rect x="661.5" y="471.5" width="20.5" height="10.5" fill="#6b748b"/><rect x="681.5" y="471.5" width="10.5" height="10.5" fill="#8fa5af"/><rect x="691.5" y="471.5" width="10.5" height="10.5" fill="#b2cece"/><rect x="701.5" y="471.5" width="50.5" height="10.5" fill="#d5e4e4"/><rect x="751.5" y="471.5" width="10.5" height="10.5" fill="#eaf2f2"/><rect x="761.5" y="471.5" width="20.5" height="10.5" fill="#d5e4e4"/><rect x="781.5" y="471.5" width="10.5" height="10.5" fill="#6b748b"/><rect x="791.5" y="471.5" width="10.5" height="10.5" fill="#4e4e6c"/><rect x="801.5" y="471.5" width="10.5" height="10.5" fill="#8fa5af"/><rect x="811.5" y="471.5" width="10.5" height="10.5" fill="#b2cece"/><rect x="821.5" y="471.5" width="30.5" height="10.5" fill="#d5e4e4"/><rect x="461.5" y="481.5" width="80.5" height="10.5" fill="#d5e4e4"/><rect x="541.5" y="481.5" width="30.5" height="10.5" fill="#b2cece"/><rect x="571.5" y="481.5" width="60.5" height="10.5" fill="#d5e4e4"/><rect x="631.5" y="481.5" width="30.5" height="10.5" fill="#b2cece"/><rect x="661.5" y="481.5" width="20.5" height="10.5" fill="#8fa5af"/><rect x="681.5" y="481.5" width="60.5" height="10.5" fill="#b2cece"/><rect x="741.5" y="481.5" width="50.5" height="10.5" fill="#d5e4e4"/><rect x="791.5" y="481.5" width="60.5" height="10.5" fill="#b2cece"/><rect x="461.5" y="491.5" width="80.5" height="10.5" fill="#d5e4e4"/><rect x="541.5" y="491.5" width="60.5" height="10.5" fill="#b2cece"/><rect x="601.5" y="491.5" width="30.5" height="10.5" fill="#d5e4e4"/><rect x="631.5" y="491.5" width="100.5" height="10.5" fill="#b2cece"/><rect x="731.5" y="491.5" width="10.5" height="10.5" fill="#8fa5af"/><rect x="741.5" y="491.5" width="20.5" height="10.5" fill="#b2cece"/><rect x="761.5" y="491.5" width="30.5" height="10.5" fill="#d5e4e4"/><rect x="791.5" y="491.5" width="20.5" height="10.5" fill="#b2cece"/><rect x="811.5" y="491.5" width="10.5" height="10.5" fill="#d5e4e4"/><rect x="821.5" y="491.5" width="30.5" height="10.5" fill="#b2cece"/><rect x="461.5" y="501.5" width="70.5" height="10.5" fill="#d5e4e4"/><rect x="531.5" y="501.5" width="30.5" height="10.5" fill="#b2cece"/><rect x="561.5" y="501.5" width="10.5" height="10.5" fill="#8fa5af"/><rect x="571.5" y="501.5" width="20.5" height="10.5" fill="#b2cece"/><rect x="591.5" y="501.5" width="40.5" height="10.5" fill="#d5e4e4"/><rect x="631.5" y="501.5" width="20.5" height="10.5" fill="#b2cece"/><rect x="651.5" y="501.5" width="20.5" height="10.5" fill="#d5e4e4"/><rect x="671.5" y="501.5" width="40.5" height="10.5" fill="#b2cece"/><rect x="711.5" y="501.5" width="10.5" height="10.5" fill="#8fa5af"/><rect x="721.5" y="501.5" width="20.5" height="10.5" fill="#6b748b"/><rect x="741.5" y="501.5" width="10.5" height="10.5" fill="#8fa5af"/><rect x="751.5" y="501.5" width="10.5" height="10.5" fill="#b2cece"/><rect x="761.5" y="501.5" width="30.5" height="10.5" fill="#d5e4e4"/><rect x="791.5" y="501.5" width="10.5" height="10.5" fill="#b2cece"/><rect x="801.5" y="501.5" width="20.5" height="10.5" fill="#d5e4e4"/><rect x="821.5" y="501.5" width="30.5" height="10.5" fill="#b2cece"/><rect x="461.5" y="511.5" width="30.5" height="10.5" fill="#b2cece"/><rect x="491.5" y="511.5" width="30.5" height="10.5" fill="#d5e4e4"/><rect x="521.5" y="511.5" width="40.5" height="10.5" fill="#b2cece"/><rect x="561.5" y="511.5" width="20.5" height="10.5" fill="#8fa5af"/><rect x="581.5" y="511.5" width="10.5" height="10.5" fill="#b2cece"/><rect x="591.5" y="511.5" width="40.5" height="10.5" fill="#d5e4e4"/><rect x="631.5" y="511.5" width="50.5" height="10.5" fill="#b2cece"/><rect x="681.5" y="511.5" width="10.5" height="10.5" fill="#d5e4e4"/><rect x="691.5" y="511.5" width="20.5" height="10.5" fill="#b2cece"/><rect x="711.5" y="511.5" width="10.5" height="10.5" fill="#8fa5af"/><rect x="721.5" y="511.5" width="20.5" height="10.5" fill="#6b748b"/><rect x="741.5" y="511.5" width="20.5" height="10.5" fill="#8fa5af"/><rect x="761.5" y="511.5" width="20.5" height="10.5" fill="#d5e4e4"/><rect x="781.5" y="511.5" width="10.5" height="10.5" fill="#b2cece"/><rect x="791.5" y="511.5" width="20.5" height="10.5" fill="#d5e4e4"/><rect x="811.5" y="511.5" width="40.5" height="10.5" fill="#b2cece"/><rect x="461.5" y="521.5" width="30.5" height="10.5" fill="#8fa5af"/><rect x="491.5" y="521.5" width="10.5" height="10.5" fill="#b2cece"/><rect x="501.5" y="521.5" width="10.5" height="10.5" fill="#d5e4e4"/><rect x="511.5" y="521.5" width="40.5" height="10.5" fill="#b2cece"/><rect x="551.5" y="521.5" width="10.5" height="10.5" fill="#8fa5af"/><rect x="561.5" y="521.5" width="30.5" height="10.5" fill="#b2cece"/><rect x="591.5" y="521.5" width="40.5" height="10.5" fill="#d5e4e4"/><rect x="631.5" y="521.5" width="50.5" height="10.5" fill="#b2cece"/><rect x="681.5" y="521.5" width="10.5" height="10.5" fill="#d5e4e4"/><rect x="691.5" y="521.5" width="20.5" height="10.5" fill="#b2cece"/><rect x="711.5" y="521.5" width="10.5" height="10.5" fill="#d5e4e4"/><rect x="721.5" y="521.5" width="10.5" height="10.5" fill="#b2cece"/><rect x="731.5" y="521.5" width="20.5" height="10.5" fill="#8fa5af"/><rect x="751.5" y="521.5" width="10.5" height="10.5" fill="#6b748b"/><rect x="761.5" y="521.5" width="10.5" height="10.5" fill="#d5e4e4"/><rect x="771.5" y="521.5" width="10.5" height="10.5" fill="#b2cece"/><rect x="781.5" y="521.5" width="20.5" height="10.5" fill="#d5e4e4"/><rect x="801.5" y="521.5" width="50.5" height="10.5" fill="#b2cece"/><rect x="461.5" y="531.5" width="30.5" height="10.5" fill="#6b748b"/><rect x="491.5" y="531.5" width="10.5" height="10.5" fill="#8fa5af"/><rect x="501.5" y="531.5" width="50.5" height="10.5" fill="#b2cece"/><rect x="551.5" y="531.5" width="20.5" height="10.5" fill="#8fa5af"/><rect x="571.5" y="531.5" width="180.5" height="10.5" fill="#b2cece"/><rect x="751.5" y="531.5" width="10.5" height="10.5" fill="#8fa5af"/><rect x="761.5" y="531.5" width="10.5" height="10.5" fill="#d5e4e4"/><rect x="771.5" y="531.5" width="40.5" height="10.5" fill="#b2cece"/><rect x="811.5" y="531.5" width="10.5" height="10.5" fill="#d5e4e4"/><rect x="821.5" y="531.5" width="30.5" height="10.5" fill="#b2cece"/><rect x="461.5" y="541.5" width="40.5" height="10.5" fill="#4e4e6c"/><rect x="501.5" y="541.5" width="40.5" height="10.5" fill="#6b748b"/><rect x="541.5" y="541.5" width="20.5" height="10.5" fill="#4e4e6c"/><rect x="561.5" y="541.5" width="70.5" height="10.5" fill="#6b748b"/><rect x="631.5" y="541.5" width="130.5" height="10.5" fill="#8fa5af"/><rect x="761.5" y="541.5" width="60.5" height="10.5" fill="#b2cece"/><rect x="821.5" y="541.5" width="30.5" height="10.5" fill="#8fa5af"/><rect x="461.5" y="551.5" width="170.5" height="10.5" fill="#1d1d28"/><rect x="631.5" y="551.5" width="10.5" height="10.5" fill="#4e4e6c"/><rect x="641.5" y="551.5" width="10.5" height="10.5" fill="#6b748b"/><rect x="651.5" y="551.5" width="100.5" height="10.5" fill="#36364a"/><rect x="751.5" y="551.5" width="10.5" height="10.5" fill="#4e4e6c"/><rect x="761.5" y="551.5" width="50.5" height="10.5" fill="#6b748b"/><rect x="811.5" y="551.5" width="10.5" height="10.5" fill="#4e4e6c"/><rect x="821.5" y="551.5" width="30.5" height="10.5" fill="#36364a"/><rect x="461.5" y="561.5" width="120.5" height="10.5" fill="#1d1d28"/><rect x="581.5" y="561.5" width="40.5" height="10.5" fill="#09090c"/><rect x="621.5" y="561.5" width="130.5" height="10.5" fill="#1d1d28"/><rect x="751.5" y="561.5" width="10.5" height="10.5" fill="#36364a"/><rect x="761.5" y="561.5" width="10.5" height="10.5" fill="#4e4e6c"/><rect x="771.5" y="561.5" width="20.5" height="10.5" fill="#6b748b"/><rect x="791.5" y="561.5" width="10.5" height="10.5" fill="#4e4e6c"/><rect x="801.5" y="561.5" width="10.5" height="10.5" fill="#36364a"/><rect x="811.5" y="561.5" width="40.5" height="10.5" fill="#1d1d28"/><rect x="461.5" y="571.5" width="50.5" height="10.5" fill="#36364a"/><rect x="511.5" y="571.5" width="40.5" height="10.5" fill="#4e4e6c"/><rect x="551.5" y="571.5" width="30.5" height="10.5" fill="#6b748b"/><rect x="581.5" y="571.5" width="80.5" height="10.5" fill="#36364a"/><rect x="661.5" y="571.5" width="80.5" height="10.5" fill="#1d1d28"/><rect x="741.5" y="571.5" width="10.5" height="10.5" fill="#36364a"/><rect x="751.5" y="571.5" width="100.5" height="10.5" fill="#4e4e6c"/><rect x="461.5" y="581.5" width="50.5" height="10.5" fill="#36364a"/><rect x="511.5" y="581.5" width="40.5" height="10.5" fill="#4e4e6c"/><rect x="551.5" y="581.5" width="30.5" height="10.5" fill="#6b748b"/><rect x="581.5" y="581.5" width="80.5" height="10.5" fill="#36364a"/><rect x="661.5" y="581.5" width="80.5" height="10.5" fill="#1d1d28"/><rect x="741.5" y="581.5" width="10.5" height="10.5" fill="#36364a"/><rect x="751.5" y="581.5" width="100.5" height="10.5" fill="#4e4e6c"/><rect x="461.5" y="591.5" width="50.5" height="10.5" fill="#36364a"/><rect x="511.5" y="591.5" width="40.5" height="10.5" fill="#4e4e6c"/><rect x="551.5" y="591.5" width="30.5" height="10.5" fill="#6b748b"/><rect x="581.5" y="591.5" width="80.5" height="10.5" fill="#36364a"/><rect x="661.5" y="591.5" width="80.5" height="10.5" fill="#1d1d28"/><rect x="741.5" y="591.5" width="10.5" height="10.5" fill="#36364a"/><rect x="751.5" y="591.5" width="100.5" height="10.5" fill="#4e4e6c"/></g><path d="M640.4 377L636.6 389.1L630.5 398.3L625.9 405.9L621.3 413.5L619.8 419.6L615.2 425.7L611.4 431.1L615.2 432.6L630.5 430.3L645.7 428.8L661 424.2L673.2 421.2L679.3 415.1L683.1 407.4L688.4 402.9L693 396L689.9 395.2L682.3 398.3L671.6 399.8L661 398.3L654.1 394.5L657.9 392.2L663.3 390.7L664 384.6L662.5 377Z" fill="none" stroke="#101018" stroke-width="6" stroke-linejoin="round" filter="url(#b3)" opacity="0.8"/><path d="M640.4 377L636.6 389.1L630.5 398.3L625.9 405.9L621.3 413.5L619.8 419.6L615.2 425.7L611.4 431.1L615.2 432.6L630.5 430.3L645.7 428.8L661 424.2L673.2 421.2L679.3 415.1L683.1 407.4L688.4 402.9L693 396L689.9 395.2L682.3 398.3L671.6 399.8L661 398.3L654.1 394.5L657.9 392.2L663.3 390.7L664 384.6L662.5 377Z" fill="#ff00ff"/><clipPath id="cRP"><path d="M640.4 377L636.6 389.1L630.5 398.3L625.9 405.9L621.3 413.5L619.8 419.6L615.2 425.7L611.4 431.1L615.2 432.6L630.5 430.3L645.7 428.8L661 424.2L673.2 421.2L679.3 415.1L683.1 407.4L688.4 402.9L693 396L689.9 395.2L682.3 398.3L671.6 399.8L661 398.3L654.1 394.5L657.9 392.2L663.3 390.7L664 384.6L662.5 377Z" fill="none"/></clipPath><g clip-path="url(#cRP)"><path d="M643.4 378.5L663.3 378.5L663.3 389.1L656.4 391.4L650.3 390.7L645.7 387.6Z" fill="#26d9ff" filter="url(#b2)"/><path d="M622.9 405.9L639.6 404.4L664 405.9L671.6 415.1L665.5 424.2L650.3 428.8L633.5 429.5L618.3 430.3L619.8 419.6Z" fill="#8080ff" filter="url(#b3)"/><ellipse cx="631.25" cy="412.012" rx="6.5" ry="4.8" fill="#0df2ff" filter="url(#b1)"/><ellipse cx="654.116" cy="412.774" rx="7" ry="6" fill="#0df2ff" filter="url(#b1)"/><ellipse cx="625.152" cy="425.732" rx="7.5" ry="4.5" fill="#0df2ff" filter="url(#b1)"/></g><ellipse cx="631.25" cy="412.012" rx="4.3" ry="2.7" fill="#0028f4"/><ellipse cx="654.116" cy="412.774" rx="4.6" ry="3.8" fill="#0028f4"/><ellipse cx="625.152" cy="425.732" rx="5.3" ry="2.3" fill="#0028f4"/><path d="M645.7 381.2L653.4 381.2L653.4 383.4L645.7 383.4Z" fill="#0028f4"/><path d="M686.9 424.2L691.5 418.9L696 422.7L700.6 434.1L694.5 433.4L689.2 428.8Z" fill="#ff00ff"/><path d="M690.7 424.2L694.5 425.7L697.6 431.8L693.8 431.1Z" fill="#8080ff" filter="url(#b1)"/><path d="M770.9 378L776.3 386.9L780.8 390.9L785.7 393.9L791.7 396.8L793.2 400.8L789.7 404.8L784.7 409.7L779.8 413.7L776.3 416.7L770.9 417.7L763.9 422.6L767.9 426.1L774.8 427.6L778.8 431.5L780.8 427.6L786.7 426.6L788.7 431.5L787.7 437.5L791.7 440L798.6 438.5L801.6 436.5L805.5 440.5L810.5 438.5L814.5 433.5L817.4 429.6L819.9 423.6L820.4 414.7L820.9 406.8L834.3 405.8L834.3 378Z" fill="#e020ff"/><clipPath id="cRA"><path d="M770.9 378L776.3 386.9L780.8 390.9L785.7 393.9L791.7 396.8L793.2 400.8L789.7 404.8L784.7 409.7L779.8 413.7L776.3 416.7L770.9 417.7L763.9 422.6L767.9 426.1L774.8 427.6L778.8 431.5L780.8 427.6L786.7 426.6L788.7 431.5L787.7 437.5L791.7 440L798.6 438.5L801.6 436.5L805.5 440.5L810.5 438.5L814.5 433.5L817.4 429.6L819.9 423.6L820.4 414.7L820.9 406.8L834.3 405.8L834.3 378Z" fill="none"/></clipPath><g clip-path="url(#cRA)"><path d="M792.7 412.7L820.4 408.7L821.4 427.6L815.5 435.5L801.6 435.5L792.7 427.6Z" fill="#8080ff" filter="url(#b2)"/><path d="M801.6 421.6L814.5 417.7L818.4 423.6L810.5 431.5L802.6 429.6Z" fill="#40bfff" filter="url(#b2)"/><ellipse cx="808.518" cy="426.581" rx="3.5" ry="3" fill="#0df2ff" filter="url(#b1)"/></g><path d="M770.9 380L775 382.7L779.1 385.1L785.3 390.3L790.8 392.3L794.9 393.7L796.9 395.8L796.9 399.2L795.6 402.6L792.1 406.1L788.7 408.8L785.3 411.6L781.9 413.6L779.1 415.7L783.2 418.4L788.7 415.7L792.1 412.9L795.6 412.2L799 412.9L802.4 411.6L804.5 410.2L807.9 410.9L812 412.9L816.2 413.6L818.9 412.2L821 408.8L822 406.4L818.9 406.1L813.4 406.4L807.9 405.7L805.2 404L806.6 400.6L808.3 396.5L808.6 392.3L807.2 388.9L803.8 387.9L797.6 388.2L791.5 388.6L787.3 389.6L783.2 386.9L779.1 383.4L775 381.4L770.9 378.6Z" fill="#00e8ff" stroke="#00e8ff" stroke-width="1.2" stroke-linejoin="round"/><path d="M770.9 380L775 382.7L779.1 385.1L785.3 390.3L790.8 392.3L794.9 393.7L796.9 395.8L796.9 399.2L795.6 402.6L792.1 406.1L788.7 408.8L785.3 411.6L781.9 413.6L779.1 415.7L783.2 418.4L788.7 415.7L792.1 412.9L795.6 412.2L799 412.9L802.4 411.6L804.5 410.2L807.9 410.9L812 412.9L816.2 413.6L818.9 412.2L821 408.8L822 406.4L818.9 406.1L813.4 406.4L807.9 405.7L805.2 404L806.6 400.6L808.3 396.5L808.6 392.3L807.2 388.9L803.8 387.9L797.6 388.2L791.5 388.6L787.3 389.6L783.2 386.9L779.1 383.4L775 381.4L770.9 378.6Z" fill="#0050ff"/><path d="M797.6 391.3L800 397.1L798.7 402.6L794.5 407.4L790.4 410.9L787.3 413.3" fill="none" stroke="#00d890" stroke-width="3" stroke-linecap="round" stroke-linejoin="round" filter="url(#b1)"/><path d="M770.9 379.3L775 382.4L779.1 384.1L783.2 387.5L787.3 389.6L791.5 388.6L797.6 388.2L803.8 387.9L807.2 388.9L808.6 392.3L808.3 396.5L806.6 400.6L805.2 404L807.9 405.7L813.4 406.4L818.9 406.1L822.3 405.4L825.8 405L833.3 405L833.3 379.3Z" fill="none" stroke="#00e090" stroke-width="3.6" stroke-linejoin="round"/><path d="M770.9 379.3L775 382.4L779.1 384.1L783.2 387.5L787.3 389.6L791.5 388.6L797.6 388.2L803.8 387.9L807.2 388.9L808.6 392.3L808.3 396.5L806.6 400.6L805.2 404L807.9 405.7L813.4 406.4L818.9 406.1L822.3 405.4L825.8 405L833.3 405L833.3 379.3Z" fill="none" stroke="#ffe000" stroke-width="2.6" stroke-linejoin="round"/><path d="M770.9 379.3L775 382.4L779.1 384.1L783.2 387.5L787.3 389.6L791.5 388.6L797.6 388.2L803.8 387.9L807.2 388.9L808.6 392.3L808.3 396.5L806.6 400.6L805.2 404L807.9 405.7L813.4 406.4L818.9 406.1L822.3 405.4L825.8 405L833.3 405L833.3 379.3Z" fill="none" stroke="#ff2000" stroke-width="1.5" stroke-linejoin="round"/><path d="M805.2 388.1L807.4 389.1L808.6 392.3L808.3 396.5L806.6 400.6L805.2 404L806.2 405.2L807.9 405.8L812 406.4" fill="none" stroke="#00e090" stroke-width="12.4" stroke-linecap="round" stroke-linejoin="round"/><path d="M805.2 388.1L807.4 389.1L808.6 392.3L808.3 396.5L806.6 400.6L805.2 404L806.2 405.2L807.9 405.8L812 406.4" fill="none" stroke="#f8ffb0" stroke-width="9.6" stroke-linecap="round" stroke-linejoin="round"/><path d="M805.2 388.1L807.4 389.1L808.6 392.3L808.3 396.5L806.6 400.6L805.2 404L806.2 405.2L807.9 405.8L812 406.4" fill="none" stroke="#ffe800" stroke-width="7.0" stroke-linecap="round" stroke-linejoin="round"/><path d="M805.2 388.1L807.4 389.1L808.6 392.3L808.3 396.5L806.6 400.6L805.2 404L806.2 405.2L807.9 405.8L812 406.4" fill="none" stroke="#ff3000" stroke-width="4.2" stroke-linecap="round" stroke-linejoin="round"/><path d="M805.2 388.1L807.4 389.1L808.6 392.3L808.3 396.5L806.6 400.6L805.2 404L806.2 405.2L807.9 405.8L812 406.4" fill="none" stroke="#900000" stroke-width="1.6" stroke-linecap="round" stroke-linejoin="round"/><path d="M770.9 379.3L775 382.4L779.1 384.1L783.2 387.5L787.3 389.6L791.5 388.6L797.6 388.2L803.8 387.9L807.2 388.9L808.6 392.3L808.3 396.5L806.6 400.6L805.2 404L807.9 405.7L813.4 406.4L818.9 406.1L822.3 405.4L825.8 405L833.3 405L833.3 379.3Z" fill="#000"/><ellipse cx="782.255" cy="418.157" rx="4.2" ry="3.8" fill="#0060ff"/><ellipse cx="782.255" cy="418.157" rx="3.3" ry="3" fill="#00e0a0"/><ellipse cx="782.255" cy="418.157" rx="2.7" ry="2.4" fill="#ffe800"/><ellipse cx="782.255" cy="418.157" rx="1.9" ry="1.7" fill="#e01000"/><ellipse cx="781.955" cy="418.457" rx="0.9" ry="0.8" fill="#500000"/><ellipse cx="772.344" cy="421.625" rx="5.2" ry="2.8" fill="#0060ff"/><ellipse cx="772.344" cy="421.625" rx="3.8" ry="1.8" fill="#00d880"/><ellipse cx="772.344" cy="421.625" rx="0.8" ry="0.7" fill="#ffffff"/><ellipse cx="798.608" cy="418.652" rx="2.4" ry="2.4" fill="#55556a"/><ellipse cx="805.545" cy="417.166" rx="1.2" ry="1.6" fill="#ffffff"/><ellipse cx="491.3" cy="562.1" rx="3" ry="3" fill="#ff00ff"/><ellipse cx="505.7" cy="564.3" rx="5" ry="2.5" fill="#ff00ff"/><path d="M516 565.4L519.1 561.2L525.2 562.3L532.4 564.3L540.7 560.2L548.9 561.2L553 565.4L551 570.5L542.7 573.6L535.5 576.1L528.3 572.6L522.2 569.5L517 568.4Z" fill="#ff00ff"/><ellipse cx="534.909" cy="569.477" rx="5" ry="3.5" fill="#a659ff" filter="url(#b2)"/><path d="M572.6 563.3L577.7 560.2L585.9 562.3L587 567.4L579.8 568.4L573.6 566.4Z" fill="#ff00ff"/><path d="M695 577.7L697 567.4L701.1 562.3L708.3 563.3L712.4 568.4L720.7 565.4L731 566.4L738.2 570.5L739.2 575.7L735.1 581.8L695 581.8Z" fill="#ff00ff"/><ellipse cx="705.239" cy="567.42" rx="3.5" ry="3" fill="#9966ff" filter="url(#b2)"/><path d="M746.4 577.7L750.5 574.6L754.6 575.2L754.6 581.8L746.4 581.8Z" fill="#ff00ff"/>
<path d="M486.4 381.5L619.6 381.5L619.6 382.3L615.7 388.1L615.2 391.4L618.6 393.0L618.1 400.4L615.7 404.5L612.8 408.6L608.9 410.2L607.4 413.5L605.5 415.2L607.2 419.3L607.1 422.2L604.5 423.4L604.5 419.3L603.0 416.8L600.1 413.5L599.1 416.0L596.2 416.0L597.2 418.4L600.6 418.8L598.2 420.9L597.7 422.5L598.7 425.8L600.1 429.1L599.6 432.4L598.2 436.5L596.2 439.8L594.8 442.2L592.3 443.4L589.4 445.0L588.4 446.7L588.0 444.7L586.5 444.7L585.0 446.3L584.4 448.8L585.5 452.1L587.5 454.6L587.8 459.5L586.5 462.3L585.0 463.6L583.6 465.7L583.6 463.6L582.1 462.4L581.2 460.3L579.7 459.0L579.2 457.8L578.7 460.3L578.2 463.6L579.0 466.9L580.2 468.8L581.6 471.8L582.1 475.1L582.6 477.5L581.6 477.5L580.0 475.4L579.2 472.6L579.0 470.1L578.2 467.7L577.1 466.4L577.3 463.6L577.3 460.3L576.5 455.4L576.3 452.9L574.8 452.4L573.4 453.7L573.2 450.4L572.4 447.2L570.9 444.7L570.5 442.7L569.0 443.9L567.5 444.4L566.1 445.5L565.6 447.2L564.1 448.3L562.2 451.3L560.7 453.7L559.5 455.4L559.4 458.7L559.1 463.1L558.3 464.7L557.5 465.4L556.8 466.7L555.9 464.4L554.9 460.8L554.2 458.7L553.7 455.4L553.0 452.9L552.5 449.6L552.3 447.2L552.2 445.0L551.8 445.5L550.5 445.9L549.6 445.0L548.6 443.4L549.6 442.2L548.1 441.1L546.9 439.8L546.3 438.5L544.2 438.6L541.3 438.8L538.9 438.3L537.2 437.8L536.4 439.8L537.4 440.9L538.7 441.4L539.6 443.1L538.7 446.3L537.7 448.8L536.9 450.6L535.2 451.3L532.2 454.4L529.1 457.0L525.2 459.0L523.8 459.2L523.6 461.1L524.8 462.8L527.2 461.6L529.1 461.4L531.3 460.3L531.3 462.8L530.3 466.0L529.1 470.1L527.7 473.4L525.2 476.7L522.8 480.8L521.4 483.3L520.4 485.7L519.6 488.2L519.4 490.7L519.9 493.1L520.1 496.4L520.9 498.1L520.9 503.8L519.9 507.1L517.5 509.2L516.0 512.0L515.5 514.5L516.0 518.6L514.1 521.5L513.4 522.7L513.4 526.0L512.1 528.4L511.0 530.9L509.2 533.8L507.8 535.3L506.5 535.8L503.4 536.1L500.9 537.1L499.4 536.1L499.2 533.4L498.3 530.1L497.5 526.8L496.3 524.3L495.6 517.8L494.1 512.8L493.0 508.7L493.5 503.8L494.6 500.5L494.6 496.4L493.9 493.1L493.4 489.9L493.2 488.2L491.2 484.9L490.2 481.6L490.7 478.4L490.9 475.1L490.5 473.4L489.8 472.6L488.3 472.8L487.3 472.9L486.4 471.0L485.7 469.7L483.9 469.7L482.5 470.5L479.6 471.8L477.6 471.5L474.2 472.8L472.8 471.8L470.8 469.0L469.3 467.7L468.6 465.2L467.1 462.3L465.3 460.3L465.2 457.8L464.5 455.9L465.5 453.7L465.7 450.4L465.8 448.0L465.0 445.5L465.9 441.4L467.1 438.1L468.9 434.5L470.8 432.7L472.0 430.8L472.2 428.3L473.2 425.3L474.9 424.2L475.8 421.2L476.3 421.1L477.1 422.2L478.7 422.2L479.6 422.4L481.5 421.2L483.0 420.1L484.4 419.6L486.4 419.6L488.3 419.3L490.2 418.9L491.4 418.9L492.2 419.3L491.7 420.9L492.0 422.5L491.4 423.9L492.2 425.0L493.7 426.2L496.1 427.0L496.6 428.3L498.5 429.4L500.5 429.9L500.9 428.3L500.9 426.6L502.4 426.0L503.9 426.5L505.8 427.8L507.8 428.8L509.7 429.3L511.6 428.3L512.9 428.8L514.6 428.6L515.2 427.5L515.5 425.8L516.2 423.4L516.4 420.9L516.7 419.8L515.0 419.8L513.6 420.7L511.6 419.6L510.7 420.4L509.2 419.8L508.0 419.3L507.3 416.8L507.6 415.2L507.0 414.0L506.8 413.0L504.8 413.0L504.3 414.3L503.6 413.7L503.6 415.5L504.3 417.1L504.8 418.1L503.9 418.4L504.1 420.1L503.3 420.1L502.6 419.6L502.1 417.9L501.9 416.8L501.1 415.2L500.4 413.5L500.5 411.4L499.5 410.2L497.5 408.6L496.1 406.9L495.4 405.6L494.7 406.0L494.8 405.0L493.5 405.6L493.5 407.3L494.6 408.4L495.3 410.4L497.1 411.2L499.4 414.0L499.4 414.7L498.0 413.5L497.6 414.8L498.1 416.0L497.1 417.6L496.8 417.1L497.2 416.0L496.6 414.2L495.4 413.0L494.1 412.2L492.9 410.7L491.7 409.4L491.4 407.9L490.1 407.1L488.8 408.1L487.3 409.2L485.9 408.8L484.6 409.1L484.5 410.4L484.6 411.2L483.6 412.2L482.4 413.0L481.5 414.3L481.2 415.2L481.7 416.5L480.8 418.1L479.6 419.6L477.1 419.8L476.2 420.7L475.4 419.8L474.7 418.9L472.8 419.3L472.9 416.8L472.3 416.3L472.9 413.5L472.9 411.1L472.5 409.4L473.7 408.3L476.2 408.4L478.1 408.8L479.8 408.8L480.3 406.9L480.4 404.5L479.6 402.8L477.1 401.5L476.8 400.4L478.6 399.9L479.9 400.1L479.8 398.4L480.3 398.9L481.6 398.7L483.0 397.6L483.1 396.4L484.4 395.8L485.4 394.6L486.1 393.0L487.8 392.2L489.8 391.8L490.0 389.7L489.4 388.1L489.5 386.4L490.7 386.1L491.7 385.3L493.0 385.6L492.4 383.1L491.7 382.6L490.7 383.5L489.3 384.8L488.0 384.8L486.8 383.5L486.4 381.5ZM836.4 381.5L969.6 381.5L969.6 382.3L965.7 388.1L965.2 391.4L968.6 393.0L968.1 400.4L965.7 404.5L962.8 408.6L958.9 410.2L957.4 413.5L955.5 415.2L957.2 419.3L957.1 422.2L954.5 423.4L954.5 419.3L953.0 416.8L950.1 413.5L949.1 416.0L946.2 416.0L947.2 418.4L950.6 418.8L948.2 420.9L947.7 422.5L948.7 425.8L950.1 429.1L949.6 432.4L948.2 436.5L946.2 439.8L944.8 442.2L942.3 443.4L939.4 445.0L938.4 446.7L938.0 444.7L936.5 444.7L935.0 446.3L934.4 448.8L935.5 452.1L937.5 454.6L937.8 459.5L936.5 462.3L935.0 463.6L933.6 465.7L933.6 463.6L932.1 462.4L931.2 460.3L929.7 459.0L929.2 457.8L928.7 460.3L928.2 463.6L929.0 466.9L930.2 468.8L931.6 471.8L932.1 475.1L932.6 477.5L931.6 477.5L930.0 475.4L929.2 472.6L929.0 470.1L928.2 467.7L927.1 466.4L927.3 463.6L927.3 460.3L926.5 455.4L926.3 452.9L924.8 452.4L923.4 453.7L923.2 450.4L922.4 447.2L920.9 444.7L920.5 442.7L919.0 443.9L917.5 444.4L916.1 445.5L915.6 447.2L914.1 448.3L912.2 451.3L910.7 453.7L909.5 455.4L909.4 458.7L909.1 463.1L908.3 464.7L907.5 465.4L906.8 466.7L905.9 464.4L904.9 460.8L904.2 458.7L903.7 455.4L903.0 452.9L902.5 449.6L902.3 447.2L902.2 445.0L901.8 445.5L900.5 445.9L899.6 445.0L898.6 443.4L899.6 442.2L898.1 441.1L896.9 439.8L896.3 438.5L894.2 438.6L891.3 438.8L888.9 438.3L887.2 437.8L886.4 439.8L887.4 440.9L888.7 441.4L889.6 443.1L888.7 446.3L887.7 448.8L886.9 450.6L885.2 451.3L882.2 454.4L879.1 457.0L875.2 459.0L873.8 459.2L873.6 461.1L874.8 462.8L877.2 461.6L879.1 461.4L881.3 460.3L881.3 462.8L880.3 466.0L879.1 470.1L877.7 473.4L875.2 476.7L872.8 480.8L871.4 483.3L870.4 485.7L869.6 488.2L869.4 490.7L869.9 493.1L870.1 496.4L870.9 498.1L870.9 503.8L869.9 507.1L867.5 509.2L866.0 512.0L865.5 514.5L866.0 518.6L864.1 521.5L863.4 522.7L863.4 526.0L862.1 528.4L861.0 530.9L859.2 533.8L857.8 535.3L856.5 535.8L853.4 536.1L850.9 537.1L849.4 536.1L849.2 533.4L848.3 530.1L847.5 526.8L846.3 524.3L845.6 517.8L844.1 512.8L843.0 508.7L843.5 503.8L844.6 500.5L844.6 496.4L843.9 493.1L843.4 489.9L843.2 488.2L841.2 484.9L840.2 481.6L840.7 478.4L840.9 475.1L840.5 473.4L839.8 472.6L838.3 472.8L837.3 472.9L836.4 471.0L835.7 469.7L833.9 469.7L832.5 470.5L829.6 471.8L827.6 471.5L824.2 472.8L822.8 471.8L820.8 469.0L819.3 467.7L818.6 465.2L817.1 462.3L815.3 460.3L815.2 457.8L814.5 455.9L815.5 453.7L815.7 450.4L815.8 448.0L815.0 445.5L815.9 441.4L817.1 438.1L818.9 434.5L820.8 432.7L822.0 430.8L822.2 428.3L823.2 425.3L824.9 424.2L825.8 421.2L826.3 421.1L827.1 422.2L828.7 422.2L829.6 422.4L831.5 421.2L833.0 420.1L834.4 419.6L836.4 419.6L838.3 419.3L840.2 418.9L841.4 418.9L842.2 419.3L841.7 420.9L842.0 422.5L841.4 423.9L842.2 425.0L843.7 426.2L846.1 427.0L846.6 428.3L848.5 429.4L850.5 429.9L850.9 428.3L850.9 426.6L852.4 426.0L853.9 426.5L855.8 427.8L857.8 428.8L859.7 429.3L861.6 428.3L862.9 428.8L864.6 428.6L865.2 427.5L865.5 425.8L866.2 423.4L866.4 420.9L866.7 419.8L865.0 419.8L863.6 420.7L861.6 419.6L860.7 420.4L859.2 419.8L858.0 419.3L857.3 416.8L857.6 415.2L857.0 414.0L856.8 413.0L854.8 413.0L854.3 414.3L853.6 413.7L853.6 415.5L854.3 417.1L854.8 418.1L853.9 418.4L854.1 420.1L853.3 420.1L852.6 419.6L852.1 417.9L851.9 416.8L851.1 415.2L850.4 413.5L850.5 411.4L849.5 410.2L847.5 408.6L846.1 406.9L845.4 405.6L844.7 406.0L844.8 405.0L843.5 405.6L843.5 407.3L844.6 408.4L845.3 410.4L847.1 411.2L849.4 414.0L849.4 414.7L848.0 413.5L847.6 414.8L848.1 416.0L847.1 417.6L846.8 417.1L847.2 416.0L846.6 414.2L845.4 413.0L844.1 412.2L842.9 410.7L841.7 409.4L841.4 407.9L840.1 407.1L838.8 408.1L837.3 409.2L835.9 408.8L834.6 409.1L834.5 410.4L834.6 411.2L833.6 412.2L832.4 413.0L831.5 414.3L831.2 415.2L831.7 416.5L830.8 418.1L829.6 419.6L827.1 419.8L826.2 420.7L825.4 419.8L824.7 418.9L822.8 419.3L822.9 416.8L822.3 416.3L822.9 413.5L822.9 411.1L822.5 409.4L823.7 408.3L826.2 408.4L828.1 408.8L829.8 408.8L830.3 406.9L830.4 404.5L829.6 402.8L827.1 401.5L826.8 400.4L828.6 399.9L829.9 400.1L829.8 398.4L830.3 398.9L831.6 398.7L833.0 397.6L833.1 396.4L834.4 395.8L835.4 394.6L836.1 393.0L837.8 392.2L839.8 391.8L840.0 389.7L839.4 388.1L839.5 386.4L840.7 386.1L841.7 385.3L843.0 385.6L842.4 383.1L841.7 382.6L840.7 383.5L839.3 384.8L838.0 384.8L836.8 383.5L836.4 381.5ZM471.3 395.5L471.8 390.5L473.7 388.9L475.7 384.0L478.6 383.1L480.0 385.6L479.6 388.1L481.5 392.2L483.2 393.3L483.0 396.3L476.2 397.9ZM821.3 395.5L821.8 390.5L823.7 388.9L825.7 384.0L828.6 383.1L830.0 385.6L829.6 388.1L831.5 392.2L833.2 393.3L833.0 396.3L826.2 397.9ZM476.0 397.8L478.1 397.4L480.5 396.8L482.8 396.1L482.9 395.6L482.2 395.5L483.2 393.5L481.8 393.0L481.7 392.2L481.3 391.0L480.0 389.7L479.6 388.1L478.4 388.1L479.6 385.4L477.6 385.3L478.6 383.8L476.6 383.8L475.9 385.6L476.2 387.7L476.8 388.9L476.6 390.0L478.1 389.9L478.6 391.5L478.4 392.5L477.1 392.5L477.4 393.8L476.4 395.0L478.1 395.5L478.6 395.9L477.3 396.1ZM826.0 397.8L828.1 397.4L830.5 396.8L832.8 396.1L832.9 395.6L832.2 395.5L833.2 393.5L831.8 393.0L831.7 392.2L831.3 391.0L830.0 389.7L829.6 388.1L828.4 388.1L829.6 385.4L827.6 385.3L828.6 383.8L826.6 383.8L825.9 385.6L826.2 387.7L826.8 388.9L826.6 390.0L828.1 389.9L828.6 391.5L828.4 392.5L827.1 392.5L827.4 393.8L826.4 395.0L828.1 395.5L828.6 395.9L827.3 396.1ZM825.7 394.3L825.5 392.2L826.1 390.4L825.2 389.4L823.5 389.5L823.2 390.9L821.8 391.4L822.3 392.7L822.3 393.8L821.5 394.6L822.0 395.5L823.7 395.1ZM671.1 381.5L674.0 383.6L677.9 383.6L678.4 385.6L675.9 388.1L673.0 389.7L674.0 389.9L677.4 388.1L679.8 386.1L681.8 384.5L682.3 382.6L683.7 381.5L684.2 382.6L686.2 381.8L687.6 381.5L689.6 381.5L691.5 381.5L694.4 381.8L695.9 382.3L697.8 384.0L699.3 385.1L700.2 387.2L701.7 388.9L703.7 390.5L705.1 391.4L706.1 393.8L707.2 395.5L707.5 397.1L710.0 400.4L710.3 400.5L710.9 404.0L710.9 407.8L710.6 410.2L710.8 413.7L711.2 416.0L712.4 417.9L713.0 419.9L714.2 423.2L716.3 424.2L717.6 426.5L718.5 429.4L719.7 431.6L720.2 434.0L720.7 435.3L722.1 437.3L722.6 439.5L724.6 442.2L725.0 441.4L724.1 439.8L723.1 436.5L721.6 433.2L720.2 430.8L720.0 428.3L721.6 429.1L722.1 431.6L723.6 434.0L725.0 436.5L726.5 439.0L728.0 441.4L728.9 444.7L728.9 447.2L730.4 448.8L732.3 450.4L734.3 452.1L736.7 453.7L739.1 453.4L740.6 454.6L742.1 456.2L744.0 457.5L746.2 458.7L746.4 459.5L747.9 461.1L748.2 463.6L749.3 464.4L750.3 466.0L751.3 466.5L752.8 467.7L753.4 466.4L754.2 465.2L755.2 466.4L756.2 468.5L756.2 471.8L756.6 473.4L755.2 476.7L754.7 478.4L753.5 480.0L752.9 481.6L753.2 484.1L753.7 485.7L752.6 487.4L752.8 489.9L753.9 492.3L755.2 495.6L756.6 499.7L757.6 503.0L759.6 506.3L762.0 508.7L763.2 510.4L763.2 514.5L763.0 519.4L762.5 524.3L762.0 529.2L761.8 534.2L760.5 540.7L760.0 545.7L759.6 550.6L759.1 555.5L758.1 558.8L758.6 563.7L759.6 567.0L762.5 568.6L763.4 570.6L766.4 571.4L768.3 570.0L765.9 568.3L764.9 566.2L764.4 563.7L765.9 560.4L767.5 558.0L765.9 555.5L767.8 553.9L768.3 550.6L769.3 549.8L768.3 547.3L770.7 546.5L771.2 544.0L774.1 543.2L776.1 540.7L775.9 538.3L774.6 536.3L777.1 537.3L779.0 536.3L780.9 533.4L782.4 530.1L784.2 526.5L784.3 522.7L785.8 520.2L788.2 518.1L790.7 517.8L791.6 516.1L792.6 512.8L793.6 509.6L793.6 504.6L794.1 501.3L795.5 498.1L797.5 494.8L797.7 491.5L797.3 488.7L795.5 487.9L793.1 484.9L790.7 484.6L788.2 484.1L786.8 481.6L784.8 481.1L782.9 480.0L781.9 476.7L781.4 472.9L780.0 471.0L777.5 470.1L775.6 469.7L774.1 466.9L772.2 466.0L771.2 463.6L769.3 462.8L767.3 462.8L764.9 461.6L763.4 460.3L762.0 461.9L761.0 461.1L759.1 461.9L758.1 462.8L757.1 465.2L756.2 465.7L754.7 464.4L753.2 465.2L751.8 465.2L750.3 462.8L750.1 460.3L750.6 456.2L749.8 454.1L747.9 453.9L745.9 454.1L745.5 452.1L745.9 449.6L746.4 447.2L746.9 444.7L745.5 444.7L743.7 445.5L743.2 448.0L742.1 449.3L739.6 450.1L738.2 448.8L736.9 446.3L736.4 443.1L736.7 439.0L737.0 435.7L738.2 433.2L739.6 431.6L742.1 431.4L744.0 432.1L744.8 432.1L744.5 430.4L745.9 430.3L747.9 430.3L749.3 431.1L750.8 432.4L751.1 434.9L752.0 437.3L752.8 438.6L753.4 438.5L753.7 435.7L753.0 432.4L752.4 429.9L752.8 427.5L754.2 425.8L755.7 424.2L757.1 423.0L757.9 421.7L757.6 419.3L758.1 417.6L759.1 415.5L759.6 413.5L761.5 412.7L763.4 411.5L762.8 410.2L763.2 408.3L764.9 407.3L766.4 406.5L767.3 408.3L767.8 408.6L769.8 406.8L772.2 405.6L773.2 404.5L773.8 401.9L777.1 403.0L780.0 403.3L780.3 402.0L779.5 400.4L778.0 398.7L777.1 397.6L777.5 395.5L777.3 394.6L777.1 392.2L775.1 390.0L773.2 388.9L771.7 386.4L771.2 384.8L769.8 382.3L768.8 381.5ZM773.8 401.9L777.1 403.0L780.0 403.3L780.3 402.0L779.5 400.4L778.0 398.7L777.1 397.6L777.5 395.5L776.1 396.3L775.1 398.7L774.1 400.4ZM787.3 381.5L788.7 382.0L789.7 381.5ZM748.9 444.2L750.8 442.2L753.2 442.1L756.6 444.7L759.4 446.8L756.2 447.5L755.7 446.0L751.8 444.2ZM759.2 449.8L761.0 447.3L763.4 447.5L765.0 449.5L762.5 450.8L760.5 450.1ZM591.8 516.1L592.3 522.7L593.3 529.2L593.3 535.8L595.7 537.5L597.7 535.8L601.6 535.7L604.0 533.0L606.9 531.9L609.3 531.7L611.8 533.7L613.2 537.1L613.7 537.5L615.2 534.2L615.7 536.6L616.2 538.3L617.1 539.1L618.1 542.4L621.0 543.7L622.5 542.9L623.9 544.0L625.4 542.2L627.3 541.2L627.8 537.5L628.6 535.0L629.8 532.5L630.2 529.2L630.7 526.0L630.2 521.9L628.8 519.4L627.8 516.9L626.4 514.5L625.4 512.8L623.7 511.2L623.2 507.9L622.8 504.6L621.5 503.5L621.0 501.3L620.0 497.7L619.3 501.3L619.1 505.4L618.1 508.7L616.6 507.9L615.2 506.3L613.7 505.4L613.2 503.8L614.5 500.0L612.8 499.7L610.3 498.9L608.9 500.0L607.9 502.2L607.4 504.6L605.9 504.6L605.0 503.0L603.5 503.8L602.5 507.1L601.1 507.9L600.3 509.6L599.1 512.0L597.2 512.8L595.2 514.0L593.8 515.3L592.3 516.1ZM622.2 547.0L625.6 547.0L625.7 549.0L624.9 551.4L623.4 551.4L622.7 549.3ZM649.4 536.6L651.0 538.0L651.4 540.4L652.6 541.7L655.0 541.9L654.4 544.4L653.5 545.7L651.9 548.3L651.4 547.8L651.6 545.7L650.5 544.7L651.3 542.4L651.3 540.7L650.2 538.3ZM649.4 546.5L651.0 548.5L649.7 550.6L649.5 551.9L647.9 553.1L647.5 555.4L645.8 556.5L644.3 555.8L643.4 555.2L645.1 552.2L647.3 550.6L648.2 548.6ZM608.9 481.3L611.8 481.3L612.8 485.4L615.2 482.8L618.6 484.3L622.0 486.2L623.4 489.0L625.2 490.2L624.6 492.0L625.9 494.8L627.8 497.2L625.4 496.7L623.4 493.6L621.5 492.6L620.5 495.1L618.6 494.9L616.6 493.1L615.7 493.6L616.4 491.2L615.7 489.0L612.8 487.2L610.8 486.6L610.6 484.6L611.8 483.8L609.8 483.6L608.9 482.1ZM587.5 477.5L588.0 476.7L589.4 477.2L591.4 474.7L593.3 471.8L595.1 468.5L595.7 470.1L597.2 471.3L596.2 472.9L595.9 475.1L596.2 478.4L595.7 480.0L594.8 482.5L594.3 485.7L592.8 486.6L591.4 485.4L589.9 485.4L588.4 483.3L587.5 480.8ZM574.2 470.8L576.3 471.5L577.8 473.9L579.2 476.4L580.7 478.4L582.1 481.1L583.1 483.3L584.6 484.9L584.4 489.5L583.1 489.4L581.2 486.9L579.7 484.4L578.7 481.6L577.6 477.5L576.3 475.4L574.8 473.4ZM583.8 491.2L585.0 489.9L587.0 491.0L589.2 490.7L591.1 491.5L592.8 492.8L592.6 494.3L589.4 493.6L587.0 492.8L585.0 492.1ZM597.2 480.8L598.2 478.7L599.1 478.0L601.1 478.5L603.0 477.4L602.5 479.3L600.6 479.3L598.7 479.5L598.2 481.3L599.6 481.5L601.4 481.3L599.8 483.3L600.9 486.6L600.4 487.9L599.6 487.4L599.1 484.9L598.5 485.7L598.5 489.0L597.7 489.0L597.7 485.7L597.0 484.1L597.5 481.6ZM598.7 449.6L600.3 449.8L600.1 452.9L599.6 455.4L600.6 457.0L602.1 459.0L601.6 459.5L600.1 457.8L599.1 457.5L598.5 455.9L598.2 453.4ZM600.1 468.5L601.6 466.0L603.5 463.9L604.5 466.9L604.2 469.3L603.5 470.5L602.1 469.3L601.6 467.7ZM600.1 462.8L601.1 461.1L602.5 459.5L603.5 461.9L603.0 463.6L601.6 464.4L600.6 464.4ZM595.4 466.2L596.7 464.7L597.7 461.4L597.2 463.3L596.2 465.6ZM608.9 423.9L610.8 421.7L613.2 421.6L614.4 419.6L615.0 418.4L616.2 418.8L617.1 416.8L617.6 414.3L617.6 412.4L619.0 412.0L619.6 415.2L618.6 417.6L618.5 420.1L618.1 422.0L617.4 422.5L616.6 422.5L616.2 423.2L614.7 423.2L614.5 423.7L613.5 425.0L612.8 423.7L612.4 424.5L611.3 425.5L610.8 426.3L610.2 425.2L609.8 425.8L609.2 428.5L608.5 428.9L608.1 427.1L607.6 425.5L608.4 424.3ZM617.6 411.9L617.9 409.1L619.1 408.9L619.3 405.5L620.5 407.3L622.8 407.4L623.0 409.1L621.5 409.6L620.7 411.1L619.1 410.1L618.4 410.2L618.6 411.5ZM619.6 404.5L621.0 403.7L620.5 399.6L622.0 399.2L620.7 394.6L620.8 392.2L620.3 390.9L619.6 392.2L619.4 394.6L619.6 397.9L619.6 401.2ZM641.9 381.5L640.9 382.3L639.5 384.0L640.0 385.3L638.8 387.2L639.0 389.7L637.1 391.4L635.4 394.1L633.8 396.3L633.2 393.8L632.9 389.7L633.7 386.4L634.1 384.8L636.1 383.1L637.1 381.5ZM598.4 443.1L599.1 443.9L600.0 439.0L599.1 438.6L598.4 441.4ZM587.2 448.5L588.4 447.0L589.4 447.8L588.4 450.0L587.5 450.0ZM559.1 466.9L559.5 464.1L560.5 466.0L561.0 468.5L560.2 470.0L559.4 470.0ZM529.4 499.7L530.6 505.4L529.6 507.9L527.7 520.7L525.2 521.9L523.8 517.8L524.6 512.8L524.3 507.9L526.2 505.9L528.2 502.2ZM593.8 493.5L597.2 493.5L601.1 493.5L603.0 493.3L605.0 493.6L602.1 496.7L598.2 496.3L595.2 494.8ZM605.5 481.3L605.9 476.7L606.8 478.4L606.4 481.3ZM604.0 485.3L605.9 484.8L608.6 485.4L607.4 486.2L604.5 486.2ZM625.9 489.2L627.3 488.5L629.5 487.1L629.3 489.0L627.3 490.3ZM633.2 491.5L635.1 492.5L637.5 495.1L638.8 497.2L637.1 496.4L634.6 494.0ZM640.9 513.2L642.4 514.5L643.9 516.6L642.9 516.4L641.1 514.1ZM653.9 508.6L655.1 508.6L655.1 510.0L653.9 510.0ZM679.8 448.5L680.9 447.0L681.0 448.2L680.1 449.0ZM623.4 406.9L625.4 405.6L627.8 404.0L629.3 402.3L628.8 402.3L626.8 404.5L624.4 406.1ZM663.3 393.3L666.2 394.0L669.1 392.7L672.1 391.0L671.9 390.4L668.2 392.0L664.3 392.7ZM533.4 459.6L534.5 459.3L534.4 460.0ZM643.5 504.6L644.2 505.4L645.1 508.7L644.4 507.1ZM571.6 457.8L571.9 461.1L571.5 462.6L571.3 460.3Z" fill="#fff" stroke="#fff" stroke-opacity="0.55" stroke-width="4.2" stroke-linejoin="round"/><path d="M486.4 381.5L619.6 381.5L619.6 382.3L615.7 388.1L615.2 391.4L618.6 393.0L618.1 400.4L615.7 404.5L612.8 408.6L608.9 410.2L607.4 413.5L605.5 415.2L607.2 419.3L607.1 422.2L604.5 423.4L604.5 419.3L603.0 416.8L600.1 413.5L599.1 416.0L596.2 416.0L597.2 418.4L600.6 418.8L598.2 420.9L597.7 422.5L598.7 425.8L600.1 429.1L599.6 432.4L598.2 436.5L596.2 439.8L594.8 442.2L592.3 443.4L589.4 445.0L588.4 446.7L588.0 444.7L586.5 444.7L585.0 446.3L584.4 448.8L585.5 452.1L587.5 454.6L587.8 459.5L586.5 462.3L585.0 463.6L583.6 465.7L583.6 463.6L582.1 462.4L581.2 460.3L579.7 459.0L579.2 457.8L578.7 460.3L578.2 463.6L579.0 466.9L580.2 468.8L581.6 471.8L582.1 475.1L582.6 477.5L581.6 477.5L580.0 475.4L579.2 472.6L579.0 470.1L578.2 467.7L577.1 466.4L577.3 463.6L577.3 460.3L576.5 455.4L576.3 452.9L574.8 452.4L573.4 453.7L573.2 450.4L572.4 447.2L570.9 444.7L570.5 442.7L569.0 443.9L567.5 444.4L566.1 445.5L565.6 447.2L564.1 448.3L562.2 451.3L560.7 453.7L559.5 455.4L559.4 458.7L559.1 463.1L558.3 464.7L557.5 465.4L556.8 466.7L555.9 464.4L554.9 460.8L554.2 458.7L553.7 455.4L553.0 452.9L552.5 449.6L552.3 447.2L552.2 445.0L551.8 445.5L550.5 445.9L549.6 445.0L548.6 443.4L549.6 442.2L548.1 441.1L546.9 439.8L546.3 438.5L544.2 438.6L541.3 438.8L538.9 438.3L537.2 437.8L536.4 439.8L537.4 440.9L538.7 441.4L539.6 443.1L538.7 446.3L537.7 448.8L536.9 450.6L535.2 451.3L532.2 454.4L529.1 457.0L525.2 459.0L523.8 459.2L523.6 461.1L524.8 462.8L527.2 461.6L529.1 461.4L531.3 460.3L531.3 462.8L530.3 466.0L529.1 470.1L527.7 473.4L525.2 476.7L522.8 480.8L521.4 483.3L520.4 485.7L519.6 488.2L519.4 490.7L519.9 493.1L520.1 496.4L520.9 498.1L520.9 503.8L519.9 507.1L517.5 509.2L516.0 512.0L515.5 514.5L516.0 518.6L514.1 521.5L513.4 522.7L513.4 526.0L512.1 528.4L511.0 530.9L509.2 533.8L507.8 535.3L506.5 535.8L503.4 536.1L500.9 537.1L499.4 536.1L499.2 533.4L498.3 530.1L497.5 526.8L496.3 524.3L495.6 517.8L494.1 512.8L493.0 508.7L493.5 503.8L494.6 500.5L494.6 496.4L493.9 493.1L493.4 489.9L493.2 488.2L491.2 484.9L490.2 481.6L490.7 478.4L490.9 475.1L490.5 473.4L489.8 472.6L488.3 472.8L487.3 472.9L486.4 471.0L485.7 469.7L483.9 469.7L482.5 470.5L479.6 471.8L477.6 471.5L474.2 472.8L472.8 471.8L470.8 469.0L469.3 467.7L468.6 465.2L467.1 462.3L465.3 460.3L465.2 457.8L464.5 455.9L465.5 453.7L465.7 450.4L465.8 448.0L465.0 445.5L465.9 441.4L467.1 438.1L468.9 434.5L470.8 432.7L472.0 430.8L472.2 428.3L473.2 425.3L474.9 424.2L475.8 421.2L476.3 421.1L477.1 422.2L478.7 422.2L479.6 422.4L481.5 421.2L483.0 420.1L484.4 419.6L486.4 419.6L488.3 419.3L490.2 418.9L491.4 418.9L492.2 419.3L491.7 420.9L492.0 422.5L491.4 423.9L492.2 425.0L493.7 426.2L496.1 427.0L496.6 428.3L498.5 429.4L500.5 429.9L500.9 428.3L500.9 426.6L502.4 426.0L503.9 426.5L505.8 427.8L507.8 428.8L509.7 429.3L511.6 428.3L512.9 428.8L514.6 428.6L515.2 427.5L515.5 425.8L516.2 423.4L516.4 420.9L516.7 419.8L515.0 419.8L513.6 420.7L511.6 419.6L510.7 420.4L509.2 419.8L508.0 419.3L507.3 416.8L507.6 415.2L507.0 414.0L506.8 413.0L504.8 413.0L504.3 414.3L503.6 413.7L503.6 415.5L504.3 417.1L504.8 418.1L503.9 418.4L504.1 420.1L503.3 420.1L502.6 419.6L502.1 417.9L501.9 416.8L501.1 415.2L500.4 413.5L500.5 411.4L499.5 410.2L497.5 408.6L496.1 406.9L495.4 405.6L494.7 406.0L494.8 405.0L493.5 405.6L493.5 407.3L494.6 408.4L495.3 410.4L497.1 411.2L499.4 414.0L499.4 414.7L498.0 413.5L497.6 414.8L498.1 416.0L497.1 417.6L496.8 417.1L497.2 416.0L496.6 414.2L495.4 413.0L494.1 412.2L492.9 410.7L491.7 409.4L491.4 407.9L490.1 407.1L488.8 408.1L487.3 409.2L485.9 408.8L484.6 409.1L484.5 410.4L484.6 411.2L483.6 412.2L482.4 413.0L481.5 414.3L481.2 415.2L481.7 416.5L480.8 418.1L479.6 419.6L477.1 419.8L476.2 420.7L475.4 419.8L474.7 418.9L472.8 419.3L472.9 416.8L472.3 416.3L472.9 413.5L472.9 411.1L472.5 409.4L473.7 408.3L476.2 408.4L478.1 408.8L479.8 408.8L480.3 406.9L480.4 404.5L479.6 402.8L477.1 401.5L476.8 400.4L478.6 399.9L479.9 400.1L479.8 398.4L480.3 398.9L481.6 398.7L483.0 397.6L483.1 396.4L484.4 395.8L485.4 394.6L486.1 393.0L487.8 392.2L489.8 391.8L490.0 389.7L489.4 388.1L489.5 386.4L490.7 386.1L491.7 385.3L493.0 385.6L492.4 383.1L491.7 382.6L490.7 383.5L489.3 384.8L488.0 384.8L486.8 383.5L486.4 381.5ZM836.4 381.5L969.6 381.5L969.6 382.3L965.7 388.1L965.2 391.4L968.6 393.0L968.1 400.4L965.7 404.5L962.8 408.6L958.9 410.2L957.4 413.5L955.5 415.2L957.2 419.3L957.1 422.2L954.5 423.4L954.5 419.3L953.0 416.8L950.1 413.5L949.1 416.0L946.2 416.0L947.2 418.4L950.6 418.8L948.2 420.9L947.7 422.5L948.7 425.8L950.1 429.1L949.6 432.4L948.2 436.5L946.2 439.8L944.8 442.2L942.3 443.4L939.4 445.0L938.4 446.7L938.0 444.7L936.5 444.7L935.0 446.3L934.4 448.8L935.5 452.1L937.5 454.6L937.8 459.5L936.5 462.3L935.0 463.6L933.6 465.7L933.6 463.6L932.1 462.4L931.2 460.3L929.7 459.0L929.2 457.8L928.7 460.3L928.2 463.6L929.0 466.9L930.2 468.8L931.6 471.8L932.1 475.1L932.6 477.5L931.6 477.5L930.0 475.4L929.2 472.6L929.0 470.1L928.2 467.7L927.1 466.4L927.3 463.6L927.3 460.3L926.5 455.4L926.3 452.9L924.8 452.4L923.4 453.7L923.2 450.4L922.4 447.2L920.9 444.7L920.5 442.7L919.0 443.9L917.5 444.4L916.1 445.5L915.6 447.2L914.1 448.3L912.2 451.3L910.7 453.7L909.5 455.4L909.4 458.7L909.1 463.1L908.3 464.7L907.5 465.4L906.8 466.7L905.9 464.4L904.9 460.8L904.2 458.7L903.7 455.4L903.0 452.9L902.5 449.6L902.3 447.2L902.2 445.0L901.8 445.5L900.5 445.9L899.6 445.0L898.6 443.4L899.6 442.2L898.1 441.1L896.9 439.8L896.3 438.5L894.2 438.6L891.3 438.8L888.9 438.3L887.2 437.8L886.4 439.8L887.4 440.9L888.7 441.4L889.6 443.1L888.7 446.3L887.7 448.8L886.9 450.6L885.2 451.3L882.2 454.4L879.1 457.0L875.2 459.0L873.8 459.2L873.6 461.1L874.8 462.8L877.2 461.6L879.1 461.4L881.3 460.3L881.3 462.8L880.3 466.0L879.1 470.1L877.7 473.4L875.2 476.7L872.8 480.8L871.4 483.3L870.4 485.7L869.6 488.2L869.4 490.7L869.9 493.1L870.1 496.4L870.9 498.1L870.9 503.8L869.9 507.1L867.5 509.2L866.0 512.0L865.5 514.5L866.0 518.6L864.1 521.5L863.4 522.7L863.4 526.0L862.1 528.4L861.0 530.9L859.2 533.8L857.8 535.3L856.5 535.8L853.4 536.1L850.9 537.1L849.4 536.1L849.2 533.4L848.3 530.1L847.5 526.8L846.3 524.3L845.6 517.8L844.1 512.8L843.0 508.7L843.5 503.8L844.6 500.5L844.6 496.4L843.9 493.1L843.4 489.9L843.2 488.2L841.2 484.9L840.2 481.6L840.7 478.4L840.9 475.1L840.5 473.4L839.8 472.6L838.3 472.8L837.3 472.9L836.4 471.0L835.7 469.7L833.9 469.7L832.5 470.5L829.6 471.8L827.6 471.5L824.2 472.8L822.8 471.8L820.8 469.0L819.3 467.7L818.6 465.2L817.1 462.3L815.3 460.3L815.2 457.8L814.5 455.9L815.5 453.7L815.7 450.4L815.8 448.0L815.0 445.5L815.9 441.4L817.1 438.1L818.9 434.5L820.8 432.7L822.0 430.8L822.2 428.3L823.2 425.3L824.9 424.2L825.8 421.2L826.3 421.1L827.1 422.2L828.7 422.2L829.6 422.4L831.5 421.2L833.0 420.1L834.4 419.6L836.4 419.6L838.3 419.3L840.2 418.9L841.4 418.9L842.2 419.3L841.7 420.9L842.0 422.5L841.4 423.9L842.2 425.0L843.7 426.2L846.1 427.0L846.6 428.3L848.5 429.4L850.5 429.9L850.9 428.3L850.9 426.6L852.4 426.0L853.9 426.5L855.8 427.8L857.8 428.8L859.7 429.3L861.6 428.3L862.9 428.8L864.6 428.6L865.2 427.5L865.5 425.8L866.2 423.4L866.4 420.9L866.7 419.8L865.0 419.8L863.6 420.7L861.6 419.6L860.7 420.4L859.2 419.8L858.0 419.3L857.3 416.8L857.6 415.2L857.0 414.0L856.8 413.0L854.8 413.0L854.3 414.3L853.6 413.7L853.6 415.5L854.3 417.1L854.8 418.1L853.9 418.4L854.1 420.1L853.3 420.1L852.6 419.6L852.1 417.9L851.9 416.8L851.1 415.2L850.4 413.5L850.5 411.4L849.5 410.2L847.5 408.6L846.1 406.9L845.4 405.6L844.7 406.0L844.8 405.0L843.5 405.6L843.5 407.3L844.6 408.4L845.3 410.4L847.1 411.2L849.4 414.0L849.4 414.7L848.0 413.5L847.6 414.8L848.1 416.0L847.1 417.6L846.8 417.1L847.2 416.0L846.6 414.2L845.4 413.0L844.1 412.2L842.9 410.7L841.7 409.4L841.4 407.9L840.1 407.1L838.8 408.1L837.3 409.2L835.9 408.8L834.6 409.1L834.5 410.4L834.6 411.2L833.6 412.2L832.4 413.0L831.5 414.3L831.2 415.2L831.7 416.5L830.8 418.1L829.6 419.6L827.1 419.8L826.2 420.7L825.4 419.8L824.7 418.9L822.8 419.3L822.9 416.8L822.3 416.3L822.9 413.5L822.9 411.1L822.5 409.4L823.7 408.3L826.2 408.4L828.1 408.8L829.8 408.8L830.3 406.9L830.4 404.5L829.6 402.8L827.1 401.5L826.8 400.4L828.6 399.9L829.9 400.1L829.8 398.4L830.3 398.9L831.6 398.7L833.0 397.6L833.1 396.4L834.4 395.8L835.4 394.6L836.1 393.0L837.8 392.2L839.8 391.8L840.0 389.7L839.4 388.1L839.5 386.4L840.7 386.1L841.7 385.3L843.0 385.6L842.4 383.1L841.7 382.6L840.7 383.5L839.3 384.8L838.0 384.8L836.8 383.5L836.4 381.5ZM471.3 395.5L471.8 390.5L473.7 388.9L475.7 384.0L478.6 383.1L480.0 385.6L479.6 388.1L481.5 392.2L483.2 393.3L483.0 396.3L476.2 397.9ZM821.3 395.5L821.8 390.5L823.7 388.9L825.7 384.0L828.6 383.1L830.0 385.6L829.6 388.1L831.5 392.2L833.2 393.3L833.0 396.3L826.2 397.9ZM476.0 397.8L478.1 397.4L480.5 396.8L482.8 396.1L482.9 395.6L482.2 395.5L483.2 393.5L481.8 393.0L481.7 392.2L481.3 391.0L480.0 389.7L479.6 388.1L478.4 388.1L479.6 385.4L477.6 385.3L478.6 383.8L476.6 383.8L475.9 385.6L476.2 387.7L476.8 388.9L476.6 390.0L478.1 389.9L478.6 391.5L478.4 392.5L477.1 392.5L477.4 393.8L476.4 395.0L478.1 395.5L478.6 395.9L477.3 396.1ZM826.0 397.8L828.1 397.4L830.5 396.8L832.8 396.1L832.9 395.6L832.2 395.5L833.2 393.5L831.8 393.0L831.7 392.2L831.3 391.0L830.0 389.7L829.6 388.1L828.4 388.1L829.6 385.4L827.6 385.3L828.6 383.8L826.6 383.8L825.9 385.6L826.2 387.7L826.8 388.9L826.6 390.0L828.1 389.9L828.6 391.5L828.4 392.5L827.1 392.5L827.4 393.8L826.4 395.0L828.1 395.5L828.6 395.9L827.3 396.1ZM825.7 394.3L825.5 392.2L826.1 390.4L825.2 389.4L823.5 389.5L823.2 390.9L821.8 391.4L822.3 392.7L822.3 393.8L821.5 394.6L822.0 395.5L823.7 395.1ZM671.1 381.5L674.0 383.6L677.9 383.6L678.4 385.6L675.9 388.1L673.0 389.7L674.0 389.9L677.4 388.1L679.8 386.1L681.8 384.5L682.3 382.6L683.7 381.5L684.2 382.6L686.2 381.8L687.6 381.5L689.6 381.5L691.5 381.5L694.4 381.8L695.9 382.3L697.8 384.0L699.3 385.1L700.2 387.2L701.7 388.9L703.7 390.5L705.1 391.4L706.1 393.8L707.2 395.5L707.5 397.1L710.0 400.4L710.3 400.5L710.9 404.0L710.9 407.8L710.6 410.2L710.8 413.7L711.2 416.0L712.4 417.9L713.0 419.9L714.2 423.2L716.3 424.2L717.6 426.5L718.5 429.4L719.7 431.6L720.2 434.0L720.7 435.3L722.1 437.3L722.6 439.5L724.6 442.2L725.0 441.4L724.1 439.8L723.1 436.5L721.6 433.2L720.2 430.8L720.0 428.3L721.6 429.1L722.1 431.6L723.6 434.0L725.0 436.5L726.5 439.0L728.0 441.4L728.9 444.7L728.9 447.2L730.4 448.8L732.3 450.4L734.3 452.1L736.7 453.7L739.1 453.4L740.6 454.6L742.1 456.2L744.0 457.5L746.2 458.7L746.4 459.5L747.9 461.1L748.2 463.6L749.3 464.4L750.3 466.0L751.3 466.5L752.8 467.7L753.4 466.4L754.2 465.2L755.2 466.4L756.2 468.5L756.2 471.8L756.6 473.4L755.2 476.7L754.7 478.4L753.5 480.0L752.9 481.6L753.2 484.1L753.7 485.7L752.6 487.4L752.8 489.9L753.9 492.3L755.2 495.6L756.6 499.7L757.6 503.0L759.6 506.3L762.0 508.7L763.2 510.4L763.2 514.5L763.0 519.4L762.5 524.3L762.0 529.2L761.8 534.2L760.5 540.7L760.0 545.7L759.6 550.6L759.1 555.5L758.1 558.8L758.6 563.7L759.6 567.0L762.5 568.6L763.4 570.6L766.4 571.4L768.3 570.0L765.9 568.3L764.9 566.2L764.4 563.7L765.9 560.4L767.5 558.0L765.9 555.5L767.8 553.9L768.3 550.6L769.3 549.8L768.3 547.3L770.7 546.5L771.2 544.0L774.1 543.2L776.1 540.7L775.9 538.3L774.6 536.3L777.1 537.3L779.0 536.3L780.9 533.4L782.4 530.1L784.2 526.5L784.3 522.7L785.8 520.2L788.2 518.1L790.7 517.8L791.6 516.1L792.6 512.8L793.6 509.6L793.6 504.6L794.1 501.3L795.5 498.1L797.5 494.8L797.7 491.5L797.3 488.7L795.5 487.9L793.1 484.9L790.7 484.6L788.2 484.1L786.8 481.6L784.8 481.1L782.9 480.0L781.9 476.7L781.4 472.9L780.0 471.0L777.5 470.1L775.6 469.7L774.1 466.9L772.2 466.0L771.2 463.6L769.3 462.8L767.3 462.8L764.9 461.6L763.4 460.3L762.0 461.9L761.0 461.1L759.1 461.9L758.1 462.8L757.1 465.2L756.2 465.7L754.7 464.4L753.2 465.2L751.8 465.2L750.3 462.8L750.1 460.3L750.6 456.2L749.8 454.1L747.9 453.9L745.9 454.1L745.5 452.1L745.9 449.6L746.4 447.2L746.9 444.7L745.5 444.7L743.7 445.5L743.2 448.0L742.1 449.3L739.6 450.1L738.2 448.8L736.9 446.3L736.4 443.1L736.7 439.0L737.0 435.7L738.2 433.2L739.6 431.6L742.1 431.4L744.0 432.1L744.8 432.1L744.5 430.4L745.9 430.3L747.9 430.3L749.3 431.1L750.8 432.4L751.1 434.9L752.0 437.3L752.8 438.6L753.4 438.5L753.7 435.7L753.0 432.4L752.4 429.9L752.8 427.5L754.2 425.8L755.7 424.2L757.1 423.0L757.9 421.7L757.6 419.3L758.1 417.6L759.1 415.5L759.6 413.5L761.5 412.7L763.4 411.5L762.8 410.2L763.2 408.3L764.9 407.3L766.4 406.5L767.3 408.3L767.8 408.6L769.8 406.8L772.2 405.6L773.2 404.5L773.8 401.9L777.1 403.0L780.0 403.3L780.3 402.0L779.5 400.4L778.0 398.7L777.1 397.6L777.5 395.5L777.3 394.6L777.1 392.2L775.1 390.0L773.2 388.9L771.7 386.4L771.2 384.8L769.8 382.3L768.8 381.5ZM773.8 401.9L777.1 403.0L780.0 403.3L780.3 402.0L779.5 400.4L778.0 398.7L777.1 397.6L777.5 395.5L776.1 396.3L775.1 398.7L774.1 400.4ZM787.3 381.5L788.7 382.0L789.7 381.5ZM748.9 444.2L750.8 442.2L753.2 442.1L756.6 444.7L759.4 446.8L756.2 447.5L755.7 446.0L751.8 444.2ZM759.2 449.8L761.0 447.3L763.4 447.5L765.0 449.5L762.5 450.8L760.5 450.1ZM591.8 516.1L592.3 522.7L593.3 529.2L593.3 535.8L595.7 537.5L597.7 535.8L601.6 535.7L604.0 533.0L606.9 531.9L609.3 531.7L611.8 533.7L613.2 537.1L613.7 537.5L615.2 534.2L615.7 536.6L616.2 538.3L617.1 539.1L618.1 542.4L621.0 543.7L622.5 542.9L623.9 544.0L625.4 542.2L627.3 541.2L627.8 537.5L628.6 535.0L629.8 532.5L630.2 529.2L630.7 526.0L630.2 521.9L628.8 519.4L627.8 516.9L626.4 514.5L625.4 512.8L623.7 511.2L623.2 507.9L622.8 504.6L621.5 503.5L621.0 501.3L620.0 497.7L619.3 501.3L619.1 505.4L618.1 508.7L616.6 507.9L615.2 506.3L613.7 505.4L613.2 503.8L614.5 500.0L612.8 499.7L610.3 498.9L608.9 500.0L607.9 502.2L607.4 504.6L605.9 504.6L605.0 503.0L603.5 503.8L602.5 507.1L601.1 507.9L600.3 509.6L599.1 512.0L597.2 512.8L595.2 514.0L593.8 515.3L592.3 516.1ZM622.2 547.0L625.6 547.0L625.7 549.0L624.9 551.4L623.4 551.4L622.7 549.3ZM649.4 536.6L651.0 538.0L651.4 540.4L652.6 541.7L655.0 541.9L654.4 544.4L653.5 545.7L651.9 548.3L651.4 547.8L651.6 545.7L650.5 544.7L651.3 542.4L651.3 540.7L650.2 538.3ZM649.4 546.5L651.0 548.5L649.7 550.6L649.5 551.9L647.9 553.1L647.5 555.4L645.8 556.5L644.3 555.8L643.4 555.2L645.1 552.2L647.3 550.6L648.2 548.6ZM608.9 481.3L611.8 481.3L612.8 485.4L615.2 482.8L618.6 484.3L622.0 486.2L623.4 489.0L625.2 490.2L624.6 492.0L625.9 494.8L627.8 497.2L625.4 496.7L623.4 493.6L621.5 492.6L620.5 495.1L618.6 494.9L616.6 493.1L615.7 493.6L616.4 491.2L615.7 489.0L612.8 487.2L610.8 486.6L610.6 484.6L611.8 483.8L609.8 483.6L608.9 482.1ZM587.5 477.5L588.0 476.7L589.4 477.2L591.4 474.7L593.3 471.8L595.1 468.5L595.7 470.1L597.2 471.3L596.2 472.9L595.9 475.1L596.2 478.4L595.7 480.0L594.8 482.5L594.3 485.7L592.8 486.6L591.4 485.4L589.9 485.4L588.4 483.3L587.5 480.8ZM574.2 470.8L576.3 471.5L577.8 473.9L579.2 476.4L580.7 478.4L582.1 481.1L583.1 483.3L584.6 484.9L584.4 489.5L583.1 489.4L581.2 486.9L579.7 484.4L578.7 481.6L577.6 477.5L576.3 475.4L574.8 473.4ZM583.8 491.2L585.0 489.9L587.0 491.0L589.2 490.7L591.1 491.5L592.8 492.8L592.6 494.3L589.4 493.6L587.0 492.8L585.0 492.1ZM597.2 480.8L598.2 478.7L599.1 478.0L601.1 478.5L603.0 477.4L602.5 479.3L600.6 479.3L598.7 479.5L598.2 481.3L599.6 481.5L601.4 481.3L599.8 483.3L600.9 486.6L600.4 487.9L599.6 487.4L599.1 484.9L598.5 485.7L598.5 489.0L597.7 489.0L597.7 485.7L597.0 484.1L597.5 481.6ZM598.7 449.6L600.3 449.8L600.1 452.9L599.6 455.4L600.6 457.0L602.1 459.0L601.6 459.5L600.1 457.8L599.1 457.5L598.5 455.9L598.2 453.4ZM600.1 468.5L601.6 466.0L603.5 463.9L604.5 466.9L604.2 469.3L603.5 470.5L602.1 469.3L601.6 467.7ZM600.1 462.8L601.1 461.1L602.5 459.5L603.5 461.9L603.0 463.6L601.6 464.4L600.6 464.4ZM595.4 466.2L596.7 464.7L597.7 461.4L597.2 463.3L596.2 465.6ZM608.9 423.9L610.8 421.7L613.2 421.6L614.4 419.6L615.0 418.4L616.2 418.8L617.1 416.8L617.6 414.3L617.6 412.4L619.0 412.0L619.6 415.2L618.6 417.6L618.5 420.1L618.1 422.0L617.4 422.5L616.6 422.5L616.2 423.2L614.7 423.2L614.5 423.7L613.5 425.0L612.8 423.7L612.4 424.5L611.3 425.5L610.8 426.3L610.2 425.2L609.8 425.8L609.2 428.5L608.5 428.9L608.1 427.1L607.6 425.5L608.4 424.3ZM617.6 411.9L617.9 409.1L619.1 408.9L619.3 405.5L620.5 407.3L622.8 407.4L623.0 409.1L621.5 409.6L620.7 411.1L619.1 410.1L618.4 410.2L618.6 411.5ZM619.6 404.5L621.0 403.7L620.5 399.6L622.0 399.2L620.7 394.6L620.8 392.2L620.3 390.9L619.6 392.2L619.4 394.6L619.6 397.9L619.6 401.2ZM641.9 381.5L640.9 382.3L639.5 384.0L640.0 385.3L638.8 387.2L639.0 389.7L637.1 391.4L635.4 394.1L633.8 396.3L633.2 393.8L632.9 389.7L633.7 386.4L634.1 384.8L636.1 383.1L637.1 381.5ZM598.4 443.1L599.1 443.9L600.0 439.0L599.1 438.6L598.4 441.4ZM587.2 448.5L588.4 447.0L589.4 447.8L588.4 450.0L587.5 450.0ZM559.1 466.9L559.5 464.1L560.5 466.0L561.0 468.5L560.2 470.0L559.4 470.0ZM529.4 499.7L530.6 505.4L529.6 507.9L527.7 520.7L525.2 521.9L523.8 517.8L524.6 512.8L524.3 507.9L526.2 505.9L528.2 502.2ZM593.8 493.5L597.2 493.5L601.1 493.5L603.0 493.3L605.0 493.6L602.1 496.7L598.2 496.3L595.2 494.8ZM605.5 481.3L605.9 476.7L606.8 478.4L606.4 481.3ZM604.0 485.3L605.9 484.8L608.6 485.4L607.4 486.2L604.5 486.2ZM625.9 489.2L627.3 488.5L629.5 487.1L629.3 489.0L627.3 490.3ZM633.2 491.5L635.1 492.5L637.5 495.1L638.8 497.2L637.1 496.4L634.6 494.0ZM640.9 513.2L642.4 514.5L643.9 516.6L642.9 516.4L641.1 514.1ZM653.9 508.6L655.1 508.6L655.1 510.0L653.9 510.0ZM679.8 448.5L680.9 447.0L681.0 448.2L680.1 449.0ZM623.4 406.9L625.4 405.6L627.8 404.0L629.3 402.3L628.8 402.3L626.8 404.5L624.4 406.1ZM663.3 393.3L666.2 394.0L669.1 392.7L672.1 391.0L671.9 390.4L668.2 392.0L664.3 392.7ZM533.4 459.6L534.5 459.3L534.4 460.0ZM643.5 504.6L644.2 505.4L645.1 508.7L644.4 507.1ZM571.6 457.8L571.9 461.1L571.5 462.6L571.3 460.3Z" fill="#fff" stroke="#000" stroke-width="2.9" stroke-linejoin="round"/><path d="M486.4 381.5L619.6 381.5L619.6 382.3L615.7 388.1L615.2 391.4L618.6 393.0L618.1 400.4L615.7 404.5L612.8 408.6L608.9 410.2L607.4 413.5L605.5 415.2L607.2 419.3L607.1 422.2L604.5 423.4L604.5 419.3L603.0 416.8L600.1 413.5L599.1 416.0L596.2 416.0L597.2 418.4L600.6 418.8L598.2 420.9L597.7 422.5L598.7 425.8L600.1 429.1L599.6 432.4L598.2 436.5L596.2 439.8L594.8 442.2L592.3 443.4L589.4 445.0L588.4 446.7L588.0 444.7L586.5 444.7L585.0 446.3L584.4 448.8L585.5 452.1L587.5 454.6L587.8 459.5L586.5 462.3L585.0 463.6L583.6 465.7L583.6 463.6L582.1 462.4L581.2 460.3L579.7 459.0L579.2 457.8L578.7 460.3L578.2 463.6L579.0 466.9L580.2 468.8L581.6 471.8L582.1 475.1L582.6 477.5L581.6 477.5L580.0 475.4L579.2 472.6L579.0 470.1L578.2 467.7L577.1 466.4L577.3 463.6L577.3 460.3L576.5 455.4L576.3 452.9L574.8 452.4L573.4 453.7L573.2 450.4L572.4 447.2L570.9 444.7L570.5 442.7L569.0 443.9L567.5 444.4L566.1 445.5L565.6 447.2L564.1 448.3L562.2 451.3L560.7 453.7L559.5 455.4L559.4 458.7L559.1 463.1L558.3 464.7L557.5 465.4L556.8 466.7L555.9 464.4L554.9 460.8L554.2 458.7L553.7 455.4L553.0 452.9L552.5 449.6L552.3 447.2L552.2 445.0L551.8 445.5L550.5 445.9L549.6 445.0L548.6 443.4L549.6 442.2L548.1 441.1L546.9 439.8L546.3 438.5L544.2 438.6L541.3 438.8L538.9 438.3L537.2 437.8L536.4 439.8L537.4 440.9L538.7 441.4L539.6 443.1L538.7 446.3L537.7 448.8L536.9 450.6L535.2 451.3L532.2 454.4L529.1 457.0L525.2 459.0L523.8 459.2L523.6 461.1L524.8 462.8L527.2 461.6L529.1 461.4L531.3 460.3L531.3 462.8L530.3 466.0L529.1 470.1L527.7 473.4L525.2 476.7L522.8 480.8L521.4 483.3L520.4 485.7L519.6 488.2L519.4 490.7L519.9 493.1L520.1 496.4L520.9 498.1L520.9 503.8L519.9 507.1L517.5 509.2L516.0 512.0L515.5 514.5L516.0 518.6L514.1 521.5L513.4 522.7L513.4 526.0L512.1 528.4L511.0 530.9L509.2 533.8L507.8 535.3L506.5 535.8L503.4 536.1L500.9 537.1L499.4 536.1L499.2 533.4L498.3 530.1L497.5 526.8L496.3 524.3L495.6 517.8L494.1 512.8L493.0 508.7L493.5 503.8L494.6 500.5L494.6 496.4L493.9 493.1L493.4 489.9L493.2 488.2L491.2 484.9L490.2 481.6L490.7 478.4L490.9 475.1L490.5 473.4L489.8 472.6L488.3 472.8L487.3 472.9L486.4 471.0L485.7 469.7L483.9 469.7L482.5 470.5L479.6 471.8L477.6 471.5L474.2 472.8L472.8 471.8L470.8 469.0L469.3 467.7L468.6 465.2L467.1 462.3L465.3 460.3L465.2 457.8L464.5 455.9L465.5 453.7L465.7 450.4L465.8 448.0L465.0 445.5L465.9 441.4L467.1 438.1L468.9 434.5L470.8 432.7L472.0 430.8L472.2 428.3L473.2 425.3L474.9 424.2L475.8 421.2L476.3 421.1L477.1 422.2L478.7 422.2L479.6 422.4L481.5 421.2L483.0 420.1L484.4 419.6L486.4 419.6L488.3 419.3L490.2 418.9L491.4 418.9L492.2 419.3L491.7 420.9L492.0 422.5L491.4 423.9L492.2 425.0L493.7 426.2L496.1 427.0L496.6 428.3L498.5 429.4L500.5 429.9L500.9 428.3L500.9 426.6L502.4 426.0L503.9 426.5L505.8 427.8L507.8 428.8L509.7 429.3L511.6 428.3L512.9 428.8L514.6 428.6L515.2 427.5L515.5 425.8L516.2 423.4L516.4 420.9L516.7 419.8L515.0 419.8L513.6 420.7L511.6 419.6L510.7 420.4L509.2 419.8L508.0 419.3L507.3 416.8L507.6 415.2L507.0 414.0L506.8 413.0L504.8 413.0L504.3 414.3L503.6 413.7L503.6 415.5L504.3 417.1L504.8 418.1L503.9 418.4L504.1 420.1L503.3 420.1L502.6 419.6L502.1 417.9L501.9 416.8L501.1 415.2L500.4 413.5L500.5 411.4L499.5 410.2L497.5 408.6L496.1 406.9L495.4 405.6L494.7 406.0L494.8 405.0L493.5 405.6L493.5 407.3L494.6 408.4L495.3 410.4L497.1 411.2L499.4 414.0L499.4 414.7L498.0 413.5L497.6 414.8L498.1 416.0L497.1 417.6L496.8 417.1L497.2 416.0L496.6 414.2L495.4 413.0L494.1 412.2L492.9 410.7L491.7 409.4L491.4 407.9L490.1 407.1L488.8 408.1L487.3 409.2L485.9 408.8L484.6 409.1L484.5 410.4L484.6 411.2L483.6 412.2L482.4 413.0L481.5 414.3L481.2 415.2L481.7 416.5L480.8 418.1L479.6 419.6L477.1 419.8L476.2 420.7L475.4 419.8L474.7 418.9L472.8 419.3L472.9 416.8L472.3 416.3L472.9 413.5L472.9 411.1L472.5 409.4L473.7 408.3L476.2 408.4L478.1 408.8L479.8 408.8L480.3 406.9L480.4 404.5L479.6 402.8L477.1 401.5L476.8 400.4L478.6 399.9L479.9 400.1L479.8 398.4L480.3 398.9L481.6 398.7L483.0 397.6L483.1 396.4L484.4 395.8L485.4 394.6L486.1 393.0L487.8 392.2L489.8 391.8L490.0 389.7L489.4 388.1L489.5 386.4L490.7 386.1L491.7 385.3L493.0 385.6L492.4 383.1L491.7 382.6L490.7 383.5L489.3 384.8L488.0 384.8L486.8 383.5L486.4 381.5ZM836.4 381.5L969.6 381.5L969.6 382.3L965.7 388.1L965.2 391.4L968.6 393.0L968.1 400.4L965.7 404.5L962.8 408.6L958.9 410.2L957.4 413.5L955.5 415.2L957.2 419.3L957.1 422.2L954.5 423.4L954.5 419.3L953.0 416.8L950.1 413.5L949.1 416.0L946.2 416.0L947.2 418.4L950.6 418.8L948.2 420.9L947.7 422.5L948.7 425.8L950.1 429.1L949.6 432.4L948.2 436.5L946.2 439.8L944.8 442.2L942.3 443.4L939.4 445.0L938.4 446.7L938.0 444.7L936.5 444.7L935.0 446.3L934.4 448.8L935.5 452.1L937.5 454.6L937.8 459.5L936.5 462.3L935.0 463.6L933.6 465.7L933.6 463.6L932.1 462.4L931.2 460.3L929.7 459.0L929.2 457.8L928.7 460.3L928.2 463.6L929.0 466.9L930.2 468.8L931.6 471.8L932.1 475.1L932.6 477.5L931.6 477.5L930.0 475.4L929.2 472.6L929.0 470.1L928.2 467.7L927.1 466.4L927.3 463.6L927.3 460.3L926.5 455.4L926.3 452.9L924.8 452.4L923.4 453.7L923.2 450.4L922.4 447.2L920.9 444.7L920.5 442.7L919.0 443.9L917.5 444.4L916.1 445.5L915.6 447.2L914.1 448.3L912.2 451.3L910.7 453.7L909.5 455.4L909.4 458.7L909.1 463.1L908.3 464.7L907.5 465.4L906.8 466.7L905.9 464.4L904.9 460.8L904.2 458.7L903.7 455.4L903.0 452.9L902.5 449.6L902.3 447.2L902.2 445.0L901.8 445.5L900.5 445.9L899.6 445.0L898.6 443.4L899.6 442.2L898.1 441.1L896.9 439.8L896.3 438.5L894.2 438.6L891.3 438.8L888.9 438.3L887.2 437.8L886.4 439.8L887.4 440.9L888.7 441.4L889.6 443.1L888.7 446.3L887.7 448.8L886.9 450.6L885.2 451.3L882.2 454.4L879.1 457.0L875.2 459.0L873.8 459.2L873.6 461.1L874.8 462.8L877.2 461.6L879.1 461.4L881.3 460.3L881.3 462.8L880.3 466.0L879.1 470.1L877.7 473.4L875.2 476.7L872.8 480.8L871.4 483.3L870.4 485.7L869.6 488.2L869.4 490.7L869.9 493.1L870.1 496.4L870.9 498.1L870.9 503.8L869.9 507.1L867.5 509.2L866.0 512.0L865.5 514.5L866.0 518.6L864.1 521.5L863.4 522.7L863.4 526.0L862.1 528.4L861.0 530.9L859.2 533.8L857.8 535.3L856.5 535.8L853.4 536.1L850.9 537.1L849.4 536.1L849.2 533.4L848.3 530.1L847.5 526.8L846.3 524.3L845.6 517.8L844.1 512.8L843.0 508.7L843.5 503.8L844.6 500.5L844.6 496.4L843.9 493.1L843.4 489.9L843.2 488.2L841.2 484.9L840.2 481.6L840.7 478.4L840.9 475.1L840.5 473.4L839.8 472.6L838.3 472.8L837.3 472.9L836.4 471.0L835.7 469.7L833.9 469.7L832.5 470.5L829.6 471.8L827.6 471.5L824.2 472.8L822.8 471.8L820.8 469.0L819.3 467.7L818.6 465.2L817.1 462.3L815.3 460.3L815.2 457.8L814.5 455.9L815.5 453.7L815.7 450.4L815.8 448.0L815.0 445.5L815.9 441.4L817.1 438.1L818.9 434.5L820.8 432.7L822.0 430.8L822.2 428.3L823.2 425.3L824.9 424.2L825.8 421.2L826.3 421.1L827.1 422.2L828.7 422.2L829.6 422.4L831.5 421.2L833.0 420.1L834.4 419.6L836.4 419.6L838.3 419.3L840.2 418.9L841.4 418.9L842.2 419.3L841.7 420.9L842.0 422.5L841.4 423.9L842.2 425.0L843.7 426.2L846.1 427.0L846.6 428.3L848.5 429.4L850.5 429.9L850.9 428.3L850.9 426.6L852.4 426.0L853.9 426.5L855.8 427.8L857.8 428.8L859.7 429.3L861.6 428.3L862.9 428.8L864.6 428.6L865.2 427.5L865.5 425.8L866.2 423.4L866.4 420.9L866.7 419.8L865.0 419.8L863.6 420.7L861.6 419.6L860.7 420.4L859.2 419.8L858.0 419.3L857.3 416.8L857.6 415.2L857.0 414.0L856.8 413.0L854.8 413.0L854.3 414.3L853.6 413.7L853.6 415.5L854.3 417.1L854.8 418.1L853.9 418.4L854.1 420.1L853.3 420.1L852.6 419.6L852.1 417.9L851.9 416.8L851.1 415.2L850.4 413.5L850.5 411.4L849.5 410.2L847.5 408.6L846.1 406.9L845.4 405.6L844.7 406.0L844.8 405.0L843.5 405.6L843.5 407.3L844.6 408.4L845.3 410.4L847.1 411.2L849.4 414.0L849.4 414.7L848.0 413.5L847.6 414.8L848.1 416.0L847.1 417.6L846.8 417.1L847.2 416.0L846.6 414.2L845.4 413.0L844.1 412.2L842.9 410.7L841.7 409.4L841.4 407.9L840.1 407.1L838.8 408.1L837.3 409.2L835.9 408.8L834.6 409.1L834.5 410.4L834.6 411.2L833.6 412.2L832.4 413.0L831.5 414.3L831.2 415.2L831.7 416.5L830.8 418.1L829.6 419.6L827.1 419.8L826.2 420.7L825.4 419.8L824.7 418.9L822.8 419.3L822.9 416.8L822.3 416.3L822.9 413.5L822.9 411.1L822.5 409.4L823.7 408.3L826.2 408.4L828.1 408.8L829.8 408.8L830.3 406.9L830.4 404.5L829.6 402.8L827.1 401.5L826.8 400.4L828.6 399.9L829.9 400.1L829.8 398.4L830.3 398.9L831.6 398.7L833.0 397.6L833.1 396.4L834.4 395.8L835.4 394.6L836.1 393.0L837.8 392.2L839.8 391.8L840.0 389.7L839.4 388.1L839.5 386.4L840.7 386.1L841.7 385.3L843.0 385.6L842.4 383.1L841.7 382.6L840.7 383.5L839.3 384.8L838.0 384.8L836.8 383.5L836.4 381.5ZM471.3 395.5L471.8 390.5L473.7 388.9L475.7 384.0L478.6 383.1L480.0 385.6L479.6 388.1L481.5 392.2L483.2 393.3L483.0 396.3L476.2 397.9ZM821.3 395.5L821.8 390.5L823.7 388.9L825.7 384.0L828.6 383.1L830.0 385.6L829.6 388.1L831.5 392.2L833.2 393.3L833.0 396.3L826.2 397.9ZM476.0 397.8L478.1 397.4L480.5 396.8L482.8 396.1L482.9 395.6L482.2 395.5L483.2 393.5L481.8 393.0L481.7 392.2L481.3 391.0L480.0 389.7L479.6 388.1L478.4 388.1L479.6 385.4L477.6 385.3L478.6 383.8L476.6 383.8L475.9 385.6L476.2 387.7L476.8 388.9L476.6 390.0L478.1 389.9L478.6 391.5L478.4 392.5L477.1 392.5L477.4 393.8L476.4 395.0L478.1 395.5L478.6 395.9L477.3 396.1ZM826.0 397.8L828.1 397.4L830.5 396.8L832.8 396.1L832.9 395.6L832.2 395.5L833.2 393.5L831.8 393.0L831.7 392.2L831.3 391.0L830.0 389.7L829.6 388.1L828.4 388.1L829.6 385.4L827.6 385.3L828.6 383.8L826.6 383.8L825.9 385.6L826.2 387.7L826.8 388.9L826.6 390.0L828.1 389.9L828.6 391.5L828.4 392.5L827.1 392.5L827.4 393.8L826.4 395.0L828.1 395.5L828.6 395.9L827.3 396.1ZM825.7 394.3L825.5 392.2L826.1 390.4L825.2 389.4L823.5 389.5L823.2 390.9L821.8 391.4L822.3 392.7L822.3 393.8L821.5 394.6L822.0 395.5L823.7 395.1ZM671.1 381.5L674.0 383.6L677.9 383.6L678.4 385.6L675.9 388.1L673.0 389.7L674.0 389.9L677.4 388.1L679.8 386.1L681.8 384.5L682.3 382.6L683.7 381.5L684.2 382.6L686.2 381.8L687.6 381.5L689.6 381.5L691.5 381.5L694.4 381.8L695.9 382.3L697.8 384.0L699.3 385.1L700.2 387.2L701.7 388.9L703.7 390.5L705.1 391.4L706.1 393.8L707.2 395.5L707.5 397.1L710.0 400.4L710.3 400.5L710.9 404.0L710.9 407.8L710.6 410.2L710.8 413.7L711.2 416.0L712.4 417.9L713.0 419.9L714.2 423.2L716.3 424.2L717.6 426.5L718.5 429.4L719.7 431.6L720.2 434.0L720.7 435.3L722.1 437.3L722.6 439.5L724.6 442.2L725.0 441.4L724.1 439.8L723.1 436.5L721.6 433.2L720.2 430.8L720.0 428.3L721.6 429.1L722.1 431.6L723.6 434.0L725.0 436.5L726.5 439.0L728.0 441.4L728.9 444.7L728.9 447.2L730.4 448.8L732.3 450.4L734.3 452.1L736.7 453.7L739.1 453.4L740.6 454.6L742.1 456.2L744.0 457.5L746.2 458.7L746.4 459.5L747.9 461.1L748.2 463.6L749.3 464.4L750.3 466.0L751.3 466.5L752.8 467.7L753.4 466.4L754.2 465.2L755.2 466.4L756.2 468.5L756.2 471.8L756.6 473.4L755.2 476.7L754.7 478.4L753.5 480.0L752.9 481.6L753.2 484.1L753.7 485.7L752.6 487.4L752.8 489.9L753.9 492.3L755.2 495.6L756.6 499.7L757.6 503.0L759.6 506.3L762.0 508.7L763.2 510.4L763.2 514.5L763.0 519.4L762.5 524.3L762.0 529.2L761.8 534.2L760.5 540.7L760.0 545.7L759.6 550.6L759.1 555.5L758.1 558.8L758.6 563.7L759.6 567.0L762.5 568.6L763.4 570.6L766.4 571.4L768.3 570.0L765.9 568.3L764.9 566.2L764.4 563.7L765.9 560.4L767.5 558.0L765.9 555.5L767.8 553.9L768.3 550.6L769.3 549.8L768.3 547.3L770.7 546.5L771.2 544.0L774.1 543.2L776.1 540.7L775.9 538.3L774.6 536.3L777.1 537.3L779.0 536.3L780.9 533.4L782.4 530.1L784.2 526.5L784.3 522.7L785.8 520.2L788.2 518.1L790.7 517.8L791.6 516.1L792.6 512.8L793.6 509.6L793.6 504.6L794.1 501.3L795.5 498.1L797.5 494.8L797.7 491.5L797.3 488.7L795.5 487.9L793.1 484.9L790.7 484.6L788.2 484.1L786.8 481.6L784.8 481.1L782.9 480.0L781.9 476.7L781.4 472.9L780.0 471.0L777.5 470.1L775.6 469.7L774.1 466.9L772.2 466.0L771.2 463.6L769.3 462.8L767.3 462.8L764.9 461.6L763.4 460.3L762.0 461.9L761.0 461.1L759.1 461.9L758.1 462.8L757.1 465.2L756.2 465.7L754.7 464.4L753.2 465.2L751.8 465.2L750.3 462.8L750.1 460.3L750.6 456.2L749.8 454.1L747.9 453.9L745.9 454.1L745.5 452.1L745.9 449.6L746.4 447.2L746.9 444.7L745.5 444.7L743.7 445.5L743.2 448.0L742.1 449.3L739.6 450.1L738.2 448.8L736.9 446.3L736.4 443.1L736.7 439.0L737.0 435.7L738.2 433.2L739.6 431.6L742.1 431.4L744.0 432.1L744.8 432.1L744.5 430.4L745.9 430.3L747.9 430.3L749.3 431.1L750.8 432.4L751.1 434.9L752.0 437.3L752.8 438.6L753.4 438.5L753.7 435.7L753.0 432.4L752.4 429.9L752.8 427.5L754.2 425.8L755.7 424.2L757.1 423.0L757.9 421.7L757.6 419.3L758.1 417.6L759.1 415.5L759.6 413.5L761.5 412.7L763.4 411.5L762.8 410.2L763.2 408.3L764.9 407.3L766.4 406.5L767.3 408.3L767.8 408.6L769.8 406.8L772.2 405.6L773.2 404.5L773.8 401.9L777.1 403.0L780.0 403.3L780.3 402.0L779.5 400.4L778.0 398.7L777.1 397.6L777.5 395.5L777.3 394.6L777.1 392.2L775.1 390.0L773.2 388.9L771.7 386.4L771.2 384.8L769.8 382.3L768.8 381.5ZM773.8 401.9L777.1 403.0L780.0 403.3L780.3 402.0L779.5 400.4L778.0 398.7L777.1 397.6L777.5 395.5L776.1 396.3L775.1 398.7L774.1 400.4ZM787.3 381.5L788.7 382.0L789.7 381.5ZM748.9 444.2L750.8 442.2L753.2 442.1L756.6 444.7L759.4 446.8L756.2 447.5L755.7 446.0L751.8 444.2ZM759.2 449.8L761.0 447.3L763.4 447.5L765.0 449.5L762.5 450.8L760.5 450.1ZM591.8 516.1L592.3 522.7L593.3 529.2L593.3 535.8L595.7 537.5L597.7 535.8L601.6 535.7L604.0 533.0L606.9 531.9L609.3 531.7L611.8 533.7L613.2 537.1L613.7 537.5L615.2 534.2L615.7 536.6L616.2 538.3L617.1 539.1L618.1 542.4L621.0 543.7L622.5 542.9L623.9 544.0L625.4 542.2L627.3 541.2L627.8 537.5L628.6 535.0L629.8 532.5L630.2 529.2L630.7 526.0L630.2 521.9L628.8 519.4L627.8 516.9L626.4 514.5L625.4 512.8L623.7 511.2L623.2 507.9L622.8 504.6L621.5 503.5L621.0 501.3L620.0 497.7L619.3 501.3L619.1 505.4L618.1 508.7L616.6 507.9L615.2 506.3L613.7 505.4L613.2 503.8L614.5 500.0L612.8 499.7L610.3 498.9L608.9 500.0L607.9 502.2L607.4 504.6L605.9 504.6L605.0 503.0L603.5 503.8L602.5 507.1L601.1 507.9L600.3 509.6L599.1 512.0L597.2 512.8L595.2 514.0L593.8 515.3L592.3 516.1ZM622.2 547.0L625.6 547.0L625.7 549.0L624.9 551.4L623.4 551.4L622.7 549.3ZM649.4 536.6L651.0 538.0L651.4 540.4L652.6 541.7L655.0 541.9L654.4 544.4L653.5 545.7L651.9 548.3L651.4 547.8L651.6 545.7L650.5 544.7L651.3 542.4L651.3 540.7L650.2 538.3ZM649.4 546.5L651.0 548.5L649.7 550.6L649.5 551.9L647.9 553.1L647.5 555.4L645.8 556.5L644.3 555.8L643.4 555.2L645.1 552.2L647.3 550.6L648.2 548.6ZM608.9 481.3L611.8 481.3L612.8 485.4L615.2 482.8L618.6 484.3L622.0 486.2L623.4 489.0L625.2 490.2L624.6 492.0L625.9 494.8L627.8 497.2L625.4 496.7L623.4 493.6L621.5 492.6L620.5 495.1L618.6 494.9L616.6 493.1L615.7 493.6L616.4 491.2L615.7 489.0L612.8 487.2L610.8 486.6L610.6 484.6L611.8 483.8L609.8 483.6L608.9 482.1ZM587.5 477.5L588.0 476.7L589.4 477.2L591.4 474.7L593.3 471.8L595.1 468.5L595.7 470.1L597.2 471.3L596.2 472.9L595.9 475.1L596.2 478.4L595.7 480.0L594.8 482.5L594.3 485.7L592.8 486.6L591.4 485.4L589.9 485.4L588.4 483.3L587.5 480.8ZM574.2 470.8L576.3 471.5L577.8 473.9L579.2 476.4L580.7 478.4L582.1 481.1L583.1 483.3L584.6 484.9L584.4 489.5L583.1 489.4L581.2 486.9L579.7 484.4L578.7 481.6L577.6 477.5L576.3 475.4L574.8 473.4ZM583.8 491.2L585.0 489.9L587.0 491.0L589.2 490.7L591.1 491.5L592.8 492.8L592.6 494.3L589.4 493.6L587.0 492.8L585.0 492.1ZM597.2 480.8L598.2 478.7L599.1 478.0L601.1 478.5L603.0 477.4L602.5 479.3L600.6 479.3L598.7 479.5L598.2 481.3L599.6 481.5L601.4 481.3L599.8 483.3L600.9 486.6L600.4 487.9L599.6 487.4L599.1 484.9L598.5 485.7L598.5 489.0L597.7 489.0L597.7 485.7L597.0 484.1L597.5 481.6ZM598.7 449.6L600.3 449.8L600.1 452.9L599.6 455.4L600.6 457.0L602.1 459.0L601.6 459.5L600.1 457.8L599.1 457.5L598.5 455.9L598.2 453.4ZM600.1 468.5L601.6 466.0L603.5 463.9L604.5 466.9L604.2 469.3L603.5 470.5L602.1 469.3L601.6 467.7ZM600.1 462.8L601.1 461.1L602.5 459.5L603.5 461.9L603.0 463.6L601.6 464.4L600.6 464.4ZM595.4 466.2L596.7 464.7L597.7 461.4L597.2 463.3L596.2 465.6ZM608.9 423.9L610.8 421.7L613.2 421.6L614.4 419.6L615.0 418.4L616.2 418.8L617.1 416.8L617.6 414.3L617.6 412.4L619.0 412.0L619.6 415.2L618.6 417.6L618.5 420.1L618.1 422.0L617.4 422.5L616.6 422.5L616.2 423.2L614.7 423.2L614.5 423.7L613.5 425.0L612.8 423.7L612.4 424.5L611.3 425.5L610.8 426.3L610.2 425.2L609.8 425.8L609.2 428.5L608.5 428.9L608.1 427.1L607.6 425.5L608.4 424.3ZM617.6 411.9L617.9 409.1L619.1 408.9L619.3 405.5L620.5 407.3L622.8 407.4L623.0 409.1L621.5 409.6L620.7 411.1L619.1 410.1L618.4 410.2L618.6 411.5ZM619.6 404.5L621.0 403.7L620.5 399.6L622.0 399.2L620.7 394.6L620.8 392.2L620.3 390.9L619.6 392.2L619.4 394.6L619.6 397.9L619.6 401.2ZM641.9 381.5L640.9 382.3L639.5 384.0L640.0 385.3L638.8 387.2L639.0 389.7L637.1 391.4L635.4 394.1L633.8 396.3L633.2 393.8L632.9 389.7L633.7 386.4L634.1 384.8L636.1 383.1L637.1 381.5ZM598.4 443.1L599.1 443.9L600.0 439.0L599.1 438.6L598.4 441.4ZM587.2 448.5L588.4 447.0L589.4 447.8L588.4 450.0L587.5 450.0ZM559.1 466.9L559.5 464.1L560.5 466.0L561.0 468.5L560.2 470.0L559.4 470.0ZM529.4 499.7L530.6 505.4L529.6 507.9L527.7 520.7L525.2 521.9L523.8 517.8L524.6 512.8L524.3 507.9L526.2 505.9L528.2 502.2ZM593.8 493.5L597.2 493.5L601.1 493.5L603.0 493.3L605.0 493.6L602.1 496.7L598.2 496.3L595.2 494.8ZM605.5 481.3L605.9 476.7L606.8 478.4L606.4 481.3ZM604.0 485.3L605.9 484.8L608.6 485.4L607.4 486.2L604.5 486.2ZM625.9 489.2L627.3 488.5L629.5 487.1L629.3 489.0L627.3 490.3ZM633.2 491.5L635.1 492.5L637.5 495.1L638.8 497.2L637.1 496.4L634.6 494.0ZM640.9 513.2L642.4 514.5L643.9 516.6L642.9 516.4L641.1 514.1ZM653.9 508.6L655.1 508.6L655.1 510.0L653.9 510.0ZM679.8 448.5L680.9 447.0L681.0 448.2L680.1 449.0ZM623.4 406.9L625.4 405.6L627.8 404.0L629.3 402.3L628.8 402.3L626.8 404.5L624.4 406.1ZM663.3 393.3L666.2 394.0L669.1 392.7L672.1 391.0L671.9 390.4L668.2 392.0L664.3 392.7ZM533.4 459.6L534.5 459.3L534.4 460.0ZM643.5 504.6L644.2 505.4L645.1 508.7L644.4 507.1ZM571.6 457.8L571.9 461.1L571.5 462.6L571.3 460.3Z" fill="#fff" stroke="#fff" stroke-width="0.8" stroke-linejoin="round"/><path d="M523.8 459.2L523.3 457.8L523.0 454.6L522.6 452.1L521.4 448.8L519.6 444.7L518.9 441.4L517.7 439.0L516.0 434.4L515.5 431.6L514.8 434.0L514.1 433.5L513.2 430.9L513.1 432.4L514.1 434.9L515.0 437.8L516.1 440.6L517.4 443.9L517.7 445.9L517.8 448.8L518.9 450.4L519.8 454.1L521.2 455.7L522.8 458.7L523.6 460.3ZM536.2 437.0L536.7 435.7L534.5 436.3L532.5 434.9L531.1 433.2L530.4 430.8L528.9 430.3L528.2 431.6L528.8 434.0L530.1 436.2L530.3 438.1L531.1 437.3L531.7 439.0L531.4 440.1L532.5 440.3L534.0 440.3L535.3 438.5ZM508.7 411.9L508.7 408.6L509.7 406.1L511.2 404.0L512.6 404.0L514.1 404.5L513.6 406.1L514.6 407.1L516.0 406.1L517.0 405.6L518.4 403.7L519.4 402.8L518.4 404.5L517.5 406.1L518.9 407.3L520.4 408.9L521.8 410.2L521.8 411.9L520.4 412.7L518.4 412.7L516.5 411.9L515.5 411.1L513.6 411.1L512.1 412.4L510.2 412.5ZM491.7 385.3L491.6 387.2L491.0 388.9L492.0 391.4L493.2 391.0L495.1 391.4L497.5 390.5L499.5 390.0L500.8 390.5L501.9 388.9L501.9 386.4L503.4 385.3L504.8 386.1L505.1 384.3L504.3 383.1L505.8 382.3L508.7 382.2L510.2 381.5L503.9 381.5L503.4 381.7L502.2 381.5L498.5 381.5L499.5 382.6L497.7 384.0L497.5 387.2L496.6 388.1L495.4 388.9L494.1 389.1L493.7 387.6L493.0 385.6Z" fill="#fff" stroke="#000" stroke-width="1" stroke-linejoin="round"/><path d="M739.3 381.5L739.6 383.1L741.1 383.6L741.6 386.4L744.0 386.4L745.9 387.2L748.4 388.9L751.3 389.4L751.8 393.0L753.2 395.8L754.7 395.5L754.7 391.4L756.6 388.1L756.9 385.6L755.2 383.5L756.2 381.5Z" fill="#dfe9ea" stroke="#000" stroke-width="1" stroke-linejoin="round"/>

<rect x="829.6" y="381.5" width="1.9" height="197.0" fill="#fff"/>
</g>
<path d="M539.5 578.5v-2.7M539.5 381.5v2.7M598.5 578.5v-2.7M598.5 381.5v2.7M656.5 578.5v-2.7M656.5 381.5v2.7M714.5 578.5v-2.7M714.5 381.5v2.7M773.5 578.5v-2.7M773.5 381.5v2.7M481.5 430.5h2.7M831.5 430.5h-2.7M481.5 480.5h2.7M831.5 480.5h-2.7M481.5 529.5h2.7M831.5 529.5h-2.7" stroke="#262626" stroke-width="1" fill="none"/>
<rect x="481.5" y="381.5" width="350.0" height="197.0" fill="none" stroke="#262626" stroke-width="1"/>
<text x="473.0" y="387.1" font-size="15.3" text-anchor="end" fill="#262626" textLength="38.02" lengthAdjust="spacingAndGlyphs">60N</text>
<text x="473.0" y="436.35" font-size="15.3" text-anchor="end" fill="#262626" textLength="38.02" lengthAdjust="spacingAndGlyphs">30N</text>
<text x="473.0" y="485.6" font-size="15.3" text-anchor="end" fill="#262626" textLength="26.15" lengthAdjust="spacingAndGlyphs">0N</text>
<text x="473.0" y="534.85" font-size="15.3" text-anchor="end" fill="#262626" textLength="36.03" lengthAdjust="spacingAndGlyphs">30S</text>
<text x="473.0" y="584.1" font-size="15.3" text-anchor="end" fill="#262626" textLength="36.03" lengthAdjust="spacingAndGlyphs">60S</text>
<text x="481.5" y="600.5" font-size="15.0" text-anchor="middle" fill="#262626" textLength="23.06" lengthAdjust="spacingAndGlyphs">0E</text>
<text x="539.8333333333334" y="600.5" font-size="15.0" text-anchor="middle" fill="#262626" textLength="34.7" lengthAdjust="spacingAndGlyphs">60E</text>
<text x="598.1666666666666" y="600.5" font-size="15.0" text-anchor="middle" fill="#262626" textLength="46.34" lengthAdjust="spacingAndGlyphs">120E</text>
<text x="656.5" y="600.5" font-size="15.0" text-anchor="middle" fill="#262626" textLength="46.34" lengthAdjust="spacingAndGlyphs">180E</text>
<text x="714.8333333333334" y="600.5" font-size="15.0" text-anchor="middle" fill="#262626" textLength="53.36" lengthAdjust="spacingAndGlyphs">120W</text>
<text x="773.1666666666667" y="600.5" font-size="15.0" text-anchor="middle" fill="#262626" textLength="41.72" lengthAdjust="spacingAndGlyphs">60W</text>
<text x="831.5" y="600.5" font-size="15.0" text-anchor="middle" fill="#262626" textLength="23.06" lengthAdjust="spacingAndGlyphs">0E</text>
<text x="656.5" y="374.0" font-size="15.9" text-anchor="middle" fill="#000" textLength="219.4" lengthAdjust="spacingAndGlyphs">Mixed Layer Depth (m)</text>
<rect x="481.5" y="605.5" width="350.0" height="6" fill="url(#cb)" stroke="#000" stroke-width="1"/>
<path d="M569.5 605.5v6M656.5 605.5v6M744.5 605.5v6" stroke="#262626" stroke-width="1"/>
<text x="481.5" y="632.0" font-size="14.3" text-anchor="middle" fill="#262626" textLength="11.09" lengthAdjust="spacingAndGlyphs">0</text>
<text x="569.0" y="632.0" font-size="14.3" text-anchor="middle" fill="#262626" textLength="33.28" lengthAdjust="spacingAndGlyphs">100</text>
<text x="656.5" y="632.0" font-size="14.3" text-anchor="middle" fill="#262626" textLength="33.28" lengthAdjust="spacingAndGlyphs">200</text>
<text x="744.0" y="632.0" font-size="14.3" text-anchor="middle" fill="#262626" textLength="33.28" lengthAdjust="spacingAndGlyphs">300</text>
<text x="831.5" y="632.0" font-size="14.3" text-anchor="middle" fill="#262626" textLength="33.28" lengthAdjust="spacingAndGlyphs">400</text>
</svg>
</body></html>
